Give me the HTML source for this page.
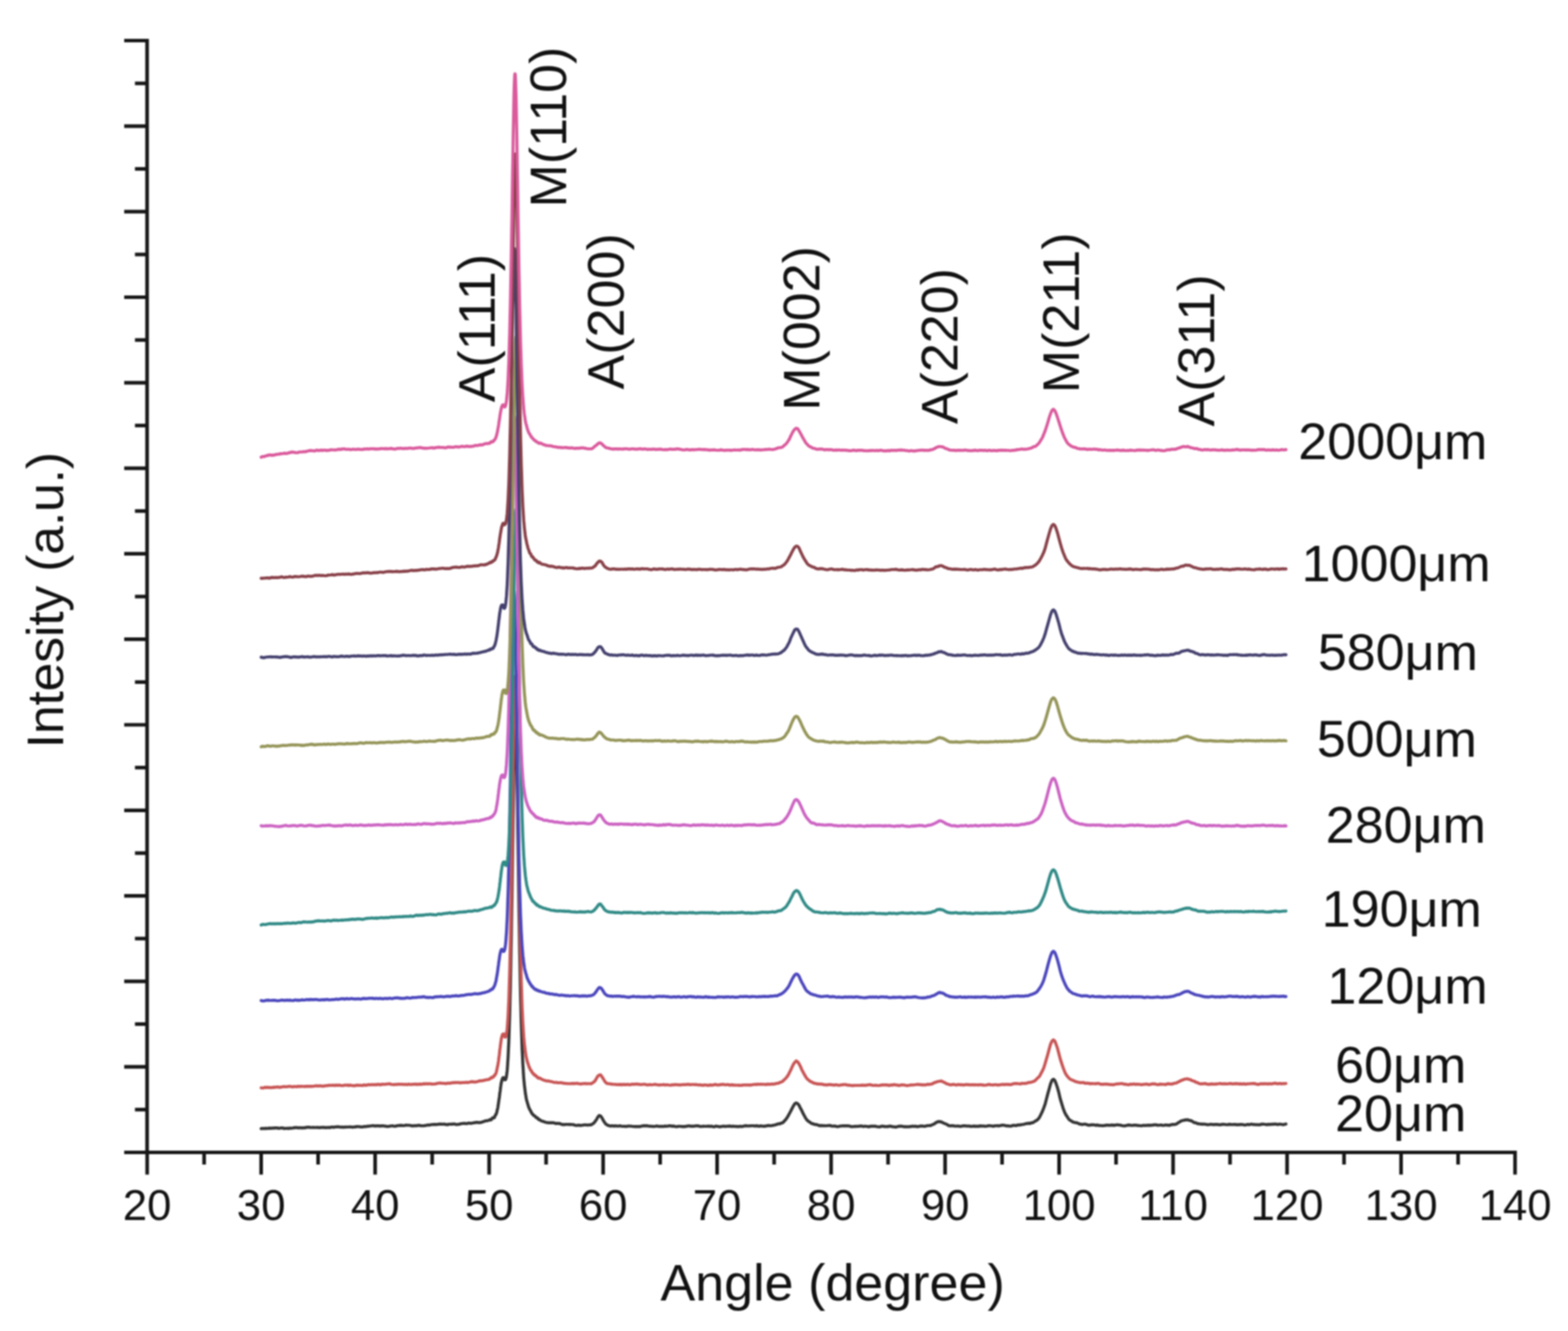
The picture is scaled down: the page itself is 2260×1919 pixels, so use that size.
<!DOCTYPE html>
<html><head><meta charset="utf-8"><style>
html,body{margin:0;padding:0;background:#fff;}
svg{display:block;filter:blur(0.8px);}
text{font-family:"Liberation Sans",Arial,sans-serif;fill:#111;}
</style></head><body>
<svg width="2260" height="1919" viewBox="0 0 2260 1919">
<rect width="2260" height="1919" fill="#fff"/>

<g fill="none" stroke-width="4.4" stroke-linejoin="round" stroke-linecap="round">
<path d="M376.4,1627.2 L378.4,1626.9 L380.3,1627.2 L382.3,1626.8 L384.3,1627.0 L386.3,1626.9 L388.2,1626.5 L390.2,1626.7 L392.2,1626.4 L394.1,1626.5 L396.1,1626.2 L398.1,1626.1 L400.1,1626.3 L402.0,1626.8 L404.0,1626.4 L406.0,1626.2 L407.9,1626.5 L409.9,1627.0 L411.9,1626.9 L413.9,1626.7 L415.8,1627.1 L417.8,1626.4 L419.8,1626.7 L421.7,1626.4 L423.7,1626.0 L425.7,1625.7 L427.7,1625.7 L429.6,1626.2 L431.6,1625.9 L433.6,1626.0 L435.5,1626.2 L437.5,1626.0 L439.5,1626.0 L441.5,1625.5 L443.4,1625.2 L445.4,1625.2 L447.4,1625.6 L449.3,1625.6 L451.3,1625.4 L453.3,1625.6 L455.3,1625.6 L457.2,1625.4 L459.2,1625.7 L461.2,1625.8 L463.2,1625.4 L465.1,1625.5 L467.1,1625.5 L469.1,1625.8 L471.0,1625.8 L473.0,1625.4 L475.0,1625.8 L477.0,1625.1 L478.9,1625.0 L480.9,1625.3 L482.9,1624.8 L484.8,1624.9 L486.8,1624.4 L488.8,1624.8 L490.8,1625.1 L492.7,1625.0 L494.7,1625.3 L496.7,1624.9 L498.6,1625.0 L500.6,1624.9 L502.6,1624.9 L504.6,1624.7 L506.5,1624.9 L508.5,1625.2 L510.5,1624.8 L512.4,1624.8 L514.4,1624.1 L516.4,1624.4 L518.4,1624.5 L520.3,1624.8 L522.3,1624.9 L524.3,1624.3 L526.2,1624.1 L528.2,1624.2 L530.2,1623.6 L532.2,1623.7 L534.1,1623.4 L536.1,1623.1 L538.1,1622.9 L540.0,1623.5 L542.0,1623.2 L544.0,1623.1 L546.0,1623.2 L547.9,1623.7 L549.9,1623.2 L551.9,1623.3 L553.8,1623.4 L555.8,1623.8 L557.8,1624.0 L559.8,1624.1 L561.7,1623.6 L563.7,1623.4 L565.7,1623.2 L567.6,1623.6 L569.6,1623.9 L571.6,1623.2 L573.6,1622.9 L575.5,1622.7 L577.5,1622.5 L579.5,1622.7 L581.4,1622.9 L583.4,1622.7 L585.4,1622.2 L587.4,1622.4 L589.3,1622.4 L591.3,1622.6 L593.3,1623.2 L595.2,1623.2 L597.2,1623.0 L599.2,1623.0 L601.2,1623.0 L603.1,1622.3 L605.1,1622.8 L607.1,1623.0 L609.0,1623.1 L611.0,1623.1 L613.0,1622.7 L615.0,1622.4 L616.9,1621.9 L618.9,1622.2 L620.9,1621.7 L622.8,1621.4 L624.8,1621.3 L626.8,1621.2 L628.8,1621.3 L630.7,1621.1 L632.7,1620.8 L634.7,1620.8 L636.7,1620.7 L638.6,1620.9 L640.6,1620.7 L642.6,1621.4 L644.5,1621.5 L646.5,1621.0 L648.5,1620.9 L650.5,1620.8 L652.4,1620.8 L654.4,1620.4 L656.4,1621.0 L658.3,1621.4 L660.3,1621.1 L662.3,1620.8 L664.3,1620.2 L666.2,1619.9 L668.2,1619.8 L670.2,1619.7 L672.1,1620.1 L674.1,1619.6 L676.1,1619.1 L678.1,1619.6 L680.0,1619.5 L682.0,1618.9 L684.0,1618.8 L685.9,1618.2 L687.9,1618.2 L689.9,1618.5 L691.9,1618.5 L693.8,1618.2 L695.8,1617.4 L697.8,1616.8 L699.7,1616.0 L701.7,1616.0 L703.7,1615.4 L705.7,1614.9 L706.0,1614.5 L706.3,1614.1 L706.6,1614.4 L707.0,1614.7 L707.3,1614.6 L707.6,1614.5 L708.0,1614.4 L708.3,1614.2 L708.6,1613.4 L708.9,1613.2 L709.3,1612.8 L709.6,1612.2 L709.9,1611.7 L710.3,1611.6 L710.6,1611.4 L710.9,1611.7 L711.2,1612.0 L711.6,1611.5 L711.9,1611.6 L712.2,1611.6 L712.6,1611.4 L712.9,1610.5 L713.2,1609.6 L713.5,1608.9 L713.9,1608.1 L714.2,1607.4 L714.5,1607.1 L714.9,1606.9 L715.2,1606.3 L715.5,1605.1 L715.8,1604.1 L716.2,1603.1 L716.5,1601.1 L716.8,1599.9 L717.2,1598.7 L717.5,1597.1 L717.8,1595.2 L718.1,1592.9 L718.5,1590.3 L718.8,1588.4 L719.1,1585.8 L719.5,1583.7 L719.8,1581.6 L720.1,1578.7 L720.4,1575.9 L720.8,1573.8 L721.1,1571.4 L721.4,1568.4 L721.8,1565.8 L722.1,1563.4 L722.4,1562.1 L722.7,1560.4 L723.1,1558.8 L723.4,1557.5 L723.7,1556.5 L724.1,1555.7 L724.4,1555.1 L724.7,1554.7 L725.0,1554.6 L725.4,1554.6 L725.7,1554.8 L726.0,1555.1 L726.4,1555.5 L726.7,1555.9 L727.0,1556.3 L727.3,1556.6 L727.7,1556.8 L728.0,1556.9 L728.3,1556.8 L728.7,1556.4 L729.0,1555.8 L729.3,1554.8 L729.6,1553.5 L730.0,1551.7 L730.3,1549.5 L730.6,1546.9 L731.0,1543.7 L731.3,1539.9 L731.6,1535.6 L731.9,1530.6 L732.3,1524.9 L732.6,1518.5 L732.9,1511.4 L733.3,1503.4 L733.6,1494.6 L733.9,1485.0 L734.2,1474.4 L734.6,1462.8 L734.9,1450.3 L735.2,1436.8 L735.6,1422.3 L735.9,1406.7 L736.2,1390.1 L736.5,1372.5 L736.9,1353.9 L737.2,1334.3 L737.5,1313.9 L737.9,1292.7 L738.2,1270.8 L738.5,1248.4 L738.8,1225.6 L739.2,1202.6 L739.5,1179.7 L739.8,1157.2 L740.2,1135.4 L740.5,1114.7 L740.8,1095.5 L741.1,1078.3 L741.5,1063.4 L741.8,1051.3 L742.1,1042.4 L742.5,1036.9 L742.8,1035.0 L743.1,1036.7 L743.4,1042.1 L743.8,1050.9 L744.1,1062.9 L744.4,1077.6 L744.8,1094.8 L745.1,1113.9 L745.4,1134.5 L745.7,1156.3 L746.1,1178.8 L746.4,1201.7 L746.7,1224.7 L747.1,1247.5 L747.4,1270.0 L747.7,1291.9 L748.0,1313.2 L748.4,1333.7 L748.7,1353.3 L749.0,1372.0 L749.4,1389.7 L749.7,1406.4 L750.0,1422.1 L750.3,1436.8 L750.7,1450.5 L751.0,1463.2 L751.3,1475.0 L751.7,1485.9 L752.0,1495.9 L752.3,1505.0 L752.6,1513.5 L753.0,1521.1 L753.3,1528.1 L753.6,1534.5 L754.0,1540.3 L754.3,1545.6 L754.6,1550.4 L754.9,1554.8 L755.3,1558.7 L755.6,1562.3 L755.9,1565.4 L756.3,1568.4 L756.6,1570.7 L756.9,1573.3 L757.2,1576.0 L757.6,1578.2 L757.9,1579.7 L758.2,1582.2 L758.6,1584.1 L758.9,1586.0 L759.2,1586.7 L759.5,1587.8 L759.9,1588.7 L760.2,1590.5 L760.5,1591.4 L760.9,1592.2 L761.2,1593.3 L761.5,1594.9 L761.8,1596.0 L762.2,1596.5 L762.5,1596.9 L762.8,1598.3 L763.2,1599.0 L763.5,1599.9 L763.8,1600.0 L764.1,1600.3 L764.5,1601.3 L764.8,1601.9 L765.1,1602.1 L765.5,1603.3 L765.8,1604.0 L766.1,1604.7 L766.4,1604.6 L766.8,1605.5 L767.1,1605.4 L767.4,1606.3 L767.8,1606.6 L768.1,1606.8 L768.4,1607.3 L768.7,1608.1 L769.1,1608.1 L769.4,1608.0 L769.7,1608.6 L770.1,1608.7 L770.4,1608.8 L770.7,1609.0 L771.0,1609.1 L771.4,1609.4 L771.7,1609.9 L772.0,1610.2 L772.4,1611.0 L772.7,1611.1 L773.0,1611.4 L773.3,1611.4 L773.7,1611.6 L774.0,1611.5 L774.3,1611.8 L774.7,1611.8 L775.0,1612.6 L775.3,1613.0 L775.6,1612.9 L776.0,1613.2 L776.3,1614.0 L776.6,1613.6 L777.0,1614.2 L777.3,1614.2 L777.6,1614.4 L777.9,1614.9 L778.3,1614.8 L778.6,1614.9 L778.9,1615.2 L780.9,1616.4 L782.9,1616.7 L784.8,1617.6 L786.8,1618.1 L788.8,1618.5 L790.8,1618.7 L792.7,1618.8 L794.7,1618.7 L796.7,1618.8 L798.7,1618.9 L800.6,1619.8 L802.6,1619.8 L804.6,1619.8 L806.5,1619.8 L808.5,1620.7 L810.5,1621.3 L812.5,1621.5 L814.4,1621.2 L816.4,1621.1 L818.4,1621.1 L820.3,1621.3 L822.3,1621.2 L824.3,1621.4 L826.3,1621.4 L828.2,1622.2 L830.2,1622.6 L832.2,1622.5 L834.1,1622.2 L836.1,1622.7 L838.1,1622.4 L840.1,1622.2 L842.0,1621.8 L844.0,1621.9 L846.0,1622.0 L847.9,1622.1 L849.9,1621.8 L851.9,1621.7 L853.9,1620.6 L855.8,1619.3 L857.8,1616.8 L859.8,1614.0 L861.7,1610.5 L863.7,1608.3 L865.7,1609.0 L867.7,1611.8 L869.6,1615.5 L871.6,1618.6 L873.6,1621.0 L875.5,1622.2 L877.5,1622.9 L879.5,1623.5 L881.5,1623.3 L883.4,1623.1 L885.4,1623.7 L887.4,1623.2 L889.3,1623.5 L891.3,1623.6 L893.3,1623.1 L895.3,1623.6 L897.2,1623.9 L899.2,1623.9 L901.2,1624.0 L903.1,1624.1 L905.1,1623.5 L907.1,1623.6 L909.1,1623.6 L911.0,1623.9 L913.0,1624.1 L915.0,1624.3 L916.9,1624.1 L918.9,1624.3 L920.9,1624.3 L922.9,1624.2 L924.8,1623.7 L926.8,1623.2 L928.8,1623.0 L930.7,1623.2 L932.7,1623.0 L934.7,1623.6 L936.7,1623.7 L938.6,1623.9 L940.6,1624.0 L942.6,1624.1 L944.5,1623.9 L946.5,1623.4 L948.5,1623.8 L950.5,1624.1 L952.4,1624.0 L954.4,1623.9 L956.4,1624.1 L958.4,1623.5 L960.3,1623.9 L962.3,1623.6 L964.3,1623.3 L966.2,1623.2 L968.2,1623.7 L970.2,1623.5 L972.2,1623.9 L974.1,1624.4 L976.1,1624.2 L978.1,1623.9 L980.0,1623.9 L982.0,1624.1 L984.0,1624.3 L986.0,1624.2 L987.9,1624.2 L989.9,1623.7 L991.9,1623.4 L993.8,1623.3 L995.8,1623.8 L997.8,1623.6 L999.8,1623.8 L1001.7,1623.4 L1003.7,1623.1 L1005.7,1623.2 L1007.6,1623.7 L1009.6,1624.0 L1011.6,1624.1 L1013.6,1623.8 L1015.5,1623.9 L1017.5,1623.9 L1019.5,1623.9 L1021.4,1623.5 L1023.4,1624.1 L1025.4,1623.7 L1027.4,1624.3 L1029.3,1624.6 L1031.3,1623.8 L1033.3,1623.8 L1035.2,1624.2 L1037.2,1624.6 L1039.2,1624.3 L1041.2,1623.9 L1043.1,1623.6 L1045.1,1624.2 L1047.1,1623.8 L1049.0,1623.9 L1051.0,1623.5 L1053.0,1623.7 L1055.0,1624.2 L1056.9,1623.7 L1058.9,1624.1 L1060.9,1624.0 L1062.8,1624.3 L1064.8,1624.3 L1066.8,1623.8 L1068.8,1624.2 L1070.7,1624.0 L1072.7,1623.4 L1074.7,1623.0 L1076.6,1623.3 L1078.6,1623.4 L1080.6,1623.3 L1082.6,1623.1 L1084.5,1623.1 L1086.5,1623.1 L1088.5,1623.6 L1090.4,1623.0 L1092.4,1623.5 L1094.4,1623.8 L1096.4,1623.2 L1098.3,1623.6 L1100.3,1623.7 L1102.3,1623.8 L1104.2,1623.3 L1106.2,1623.0 L1108.2,1622.7 L1110.2,1623.2 L1112.1,1622.9 L1114.1,1622.5 L1116.1,1622.1 L1118.1,1621.6 L1120.0,1620.9 L1122.0,1620.3 L1124.0,1620.3 L1125.9,1619.3 L1127.9,1618.8 L1129.9,1617.0 L1131.9,1614.8 L1133.8,1612.4 L1135.8,1609.1 L1137.8,1605.5 L1139.7,1602.0 L1141.7,1598.0 L1143.7,1594.2 L1145.7,1591.1 L1147.6,1590.1 L1149.6,1591.1 L1151.6,1593.5 L1153.5,1597.4 L1155.5,1601.0 L1157.5,1605.4 L1159.5,1609.0 L1161.4,1612.5 L1163.4,1615.1 L1165.4,1616.8 L1167.3,1617.9 L1169.3,1619.7 L1171.3,1620.1 L1173.3,1620.9 L1175.2,1621.3 L1177.2,1621.5 L1179.2,1622.2 L1181.1,1623.0 L1183.1,1622.7 L1185.1,1623.0 L1187.1,1622.9 L1189.0,1623.1 L1191.0,1623.1 L1193.0,1622.9 L1194.9,1622.8 L1196.9,1622.8 L1198.9,1623.6 L1200.9,1623.6 L1202.8,1623.4 L1204.8,1623.9 L1206.8,1624.4 L1208.7,1624.1 L1210.7,1623.6 L1212.7,1623.4 L1214.7,1623.2 L1216.6,1623.3 L1218.6,1623.1 L1220.6,1623.2 L1222.5,1623.2 L1224.5,1623.6 L1226.5,1624.2 L1228.5,1624.4 L1230.4,1624.1 L1232.4,1624.0 L1234.4,1624.0 L1236.3,1623.9 L1238.3,1623.8 L1240.3,1623.4 L1242.3,1623.5 L1244.2,1624.2 L1246.2,1623.8 L1248.2,1623.9 L1250.1,1624.1 L1252.1,1624.5 L1254.1,1624.0 L1256.1,1623.8 L1258.0,1623.7 L1260.0,1623.7 L1262.0,1623.8 L1263.9,1624.4 L1265.9,1624.6 L1267.9,1624.8 L1269.9,1624.0 L1271.8,1623.6 L1273.8,1624.0 L1275.8,1624.4 L1277.7,1624.3 L1279.7,1624.3 L1281.7,1623.7 L1283.7,1623.7 L1285.6,1624.3 L1287.6,1624.6 L1289.6,1624.7 L1291.6,1625.0 L1293.5,1624.3 L1295.5,1623.8 L1297.5,1623.6 L1299.4,1623.8 L1301.4,1624.1 L1303.4,1624.5 L1305.4,1624.5 L1307.3,1624.5 L1309.3,1624.6 L1311.3,1624.3 L1313.2,1624.2 L1315.2,1623.6 L1317.2,1624.1 L1319.2,1623.7 L1321.1,1624.3 L1323.1,1624.3 L1325.1,1623.9 L1327.0,1623.5 L1329.0,1623.4 L1331.0,1623.7 L1333.0,1623.9 L1334.9,1623.3 L1336.9,1622.9 L1338.9,1622.9 L1340.8,1622.8 L1342.8,1622.1 L1344.8,1621.1 L1346.8,1620.4 L1348.7,1618.8 L1350.7,1617.7 L1352.7,1617.0 L1354.6,1617.2 L1356.6,1617.5 L1358.6,1618.6 L1360.6,1619.5 L1362.5,1620.2 L1364.5,1621.0 L1366.5,1622.4 L1368.4,1623.1 L1370.4,1623.2 L1372.4,1622.9 L1374.4,1623.2 L1376.3,1623.6 L1378.3,1623.6 L1380.3,1623.4 L1382.2,1623.7 L1384.2,1624.1 L1386.2,1623.7 L1388.2,1623.2 L1390.1,1623.2 L1392.1,1623.3 L1394.1,1623.7 L1396.0,1623.4 L1398.0,1623.8 L1400.0,1624.0 L1402.0,1623.9 L1403.9,1623.5 L1405.9,1624.0 L1407.9,1623.7 L1409.8,1624.0 L1411.8,1623.5 L1413.8,1623.3 L1415.8,1623.6 L1417.7,1623.4 L1419.7,1623.9 L1421.7,1623.7 L1423.6,1623.3 L1425.6,1623.0 L1427.6,1623.1 L1429.6,1623.4 L1431.5,1623.8 L1433.5,1623.2 L1435.5,1623.1 L1437.4,1622.9 L1439.4,1623.5 L1441.4,1622.9 L1443.4,1622.5 L1445.3,1622.2 L1447.3,1622.4 L1449.3,1623.0 L1451.3,1623.3 L1453.2,1623.3 L1455.2,1623.6 L1457.2,1623.6 L1459.1,1622.9 L1461.1,1622.4 L1463.1,1622.7 L1465.1,1622.7 L1467.0,1621.9 L1469.0,1622.0 L1471.0,1621.7 L1472.9,1621.4 L1474.9,1621.1 L1476.9,1620.6 L1478.9,1620.0 L1480.8,1619.8 L1482.8,1619.5 L1484.8,1619.8 L1486.7,1618.8 L1488.7,1618.7 L1490.7,1617.3 L1492.7,1616.1 L1494.6,1615.0 L1496.6,1613.2 L1498.6,1610.3 L1500.5,1606.4 L1502.5,1602.2 L1504.5,1597.0 L1506.5,1591.4 L1508.4,1584.0 L1510.4,1576.4 L1512.4,1569.3 L1514.3,1562.4 L1516.3,1557.7 L1518.3,1556.0 L1520.3,1557.7 L1522.2,1562.4 L1524.2,1568.4 L1526.2,1575.7 L1528.1,1584.0 L1530.1,1590.7 L1532.1,1597.2 L1534.1,1602.8 L1536.0,1606.7 L1538.0,1609.8 L1540.0,1612.9 L1541.9,1614.9 L1543.9,1616.0 L1545.9,1617.4 L1547.9,1618.1 L1549.8,1618.5 L1551.8,1618.7 L1553.8,1619.6 L1555.7,1620.5 L1557.7,1620.8 L1559.7,1621.4 L1561.7,1620.9 L1563.6,1620.8 L1565.6,1621.1 L1567.6,1621.8 L1569.5,1622.3 L1571.5,1622.0 L1573.5,1621.7 L1575.5,1621.8 L1577.4,1621.9 L1579.4,1622.5 L1581.4,1622.0 L1583.3,1622.5 L1585.3,1622.7 L1587.3,1622.9 L1589.3,1623.0 L1591.2,1622.9 L1593.2,1622.5 L1595.2,1622.3 L1597.1,1622.2 L1599.1,1622.6 L1601.1,1622.2 L1603.1,1622.0 L1605.0,1622.5 L1607.0,1622.2 L1609.0,1621.9 L1611.0,1621.7 L1612.9,1622.1 L1614.9,1622.1 L1616.9,1622.8 L1618.8,1623.1 L1620.8,1623.4 L1622.8,1622.8 L1624.8,1622.3 L1626.7,1622.0 L1628.7,1622.2 L1630.7,1622.6 L1632.6,1622.5 L1634.6,1622.2 L1636.6,1622.3 L1638.6,1622.5 L1640.5,1622.7 L1642.5,1622.9 L1644.5,1623.1 L1646.4,1623.0 L1648.4,1622.4 L1650.4,1622.8 L1652.4,1622.4 L1654.3,1622.5 L1656.3,1622.3 L1658.3,1622.6 L1660.2,1622.2 L1662.2,1622.0 L1664.2,1621.8 L1666.2,1621.7 L1668.1,1622.3 L1670.1,1622.4 L1672.1,1622.1 L1674.0,1622.0 L1676.0,1622.6 L1678.0,1622.4 L1680.0,1621.9 L1681.9,1622.2 L1683.9,1622.2 L1685.9,1622.5 L1687.8,1621.6 L1689.8,1621.3 L1691.8,1621.2 L1693.8,1621.0 L1695.7,1620.6 L1697.7,1619.0 L1699.7,1617.9 L1701.6,1616.7 L1703.6,1615.6 L1705.6,1615.4 L1707.6,1614.8 L1709.5,1614.7 L1711.5,1614.4 L1713.5,1615.1 L1715.4,1615.5 L1717.4,1616.0 L1719.4,1617.3 L1721.4,1618.6 L1723.3,1618.8 L1725.3,1619.7 L1727.3,1620.3 L1729.2,1620.4 L1731.2,1620.7 L1733.2,1620.7 L1735.2,1620.8 L1737.1,1620.9 L1739.1,1621.3 L1741.1,1621.6 L1743.0,1621.3 L1745.0,1621.0 L1747.0,1621.1 L1749.0,1621.5 L1750.9,1621.2 L1752.9,1621.2 L1754.9,1621.1 L1756.8,1621.6 L1758.8,1621.7 L1760.8,1621.2 L1762.8,1621.0 L1764.7,1621.1 L1766.7,1621.4 L1768.7,1621.6 L1770.6,1621.2 L1772.6,1621.0 L1774.6,1621.4 L1776.6,1621.4 L1778.5,1621.2 L1780.5,1621.1 L1782.5,1621.7 L1784.5,1621.4 L1786.4,1621.5 L1788.4,1621.3 L1790.4,1621.3 L1792.3,1621.7 L1794.3,1622.1 L1796.3,1621.7 L1798.3,1621.2 L1800.2,1621.5 L1802.2,1621.1 L1804.2,1620.7 L1806.1,1621.4 L1808.1,1621.3 L1810.1,1621.6 L1812.1,1621.4 L1814.0,1621.7 L1816.0,1621.5 L1818.0,1621.0 L1819.9,1620.6 L1821.9,1620.9 L1823.9,1621.1 L1825.9,1621.6 L1827.8,1621.0 L1829.8,1621.2 L1831.8,1621.0 L1833.7,1621.0 L1835.7,1620.7 L1837.7,1620.6 L1839.7,1620.8 L1841.6,1621.3 L1843.6,1620.8 L1845.6,1620.9 L1847.5,1621.2 L1849.5,1621.6 L1851.5,1621.0 L1853.5,1620.6" stroke="#333333" />
<circle cx="725.8" cy="1554.9" r="3.4" fill="#333333"/>
<path d="M376.4,1568.4 L378.4,1568.6 L380.3,1568.3 L382.3,1567.6 L384.3,1568.0 L386.3,1567.7 L388.2,1568.1 L390.2,1568.0 L392.2,1568.1 L394.1,1567.5 L396.1,1567.7 L398.1,1567.3 L400.1,1567.2 L402.0,1567.5 L404.0,1567.7 L406.0,1567.1 L407.9,1566.8 L409.9,1566.8 L411.9,1566.9 L413.9,1566.8 L415.8,1566.4 L417.8,1566.3 L419.8,1566.7 L421.7,1567.1 L423.7,1566.5 L425.7,1566.6 L427.7,1566.8 L429.6,1566.2 L431.6,1566.7 L433.6,1566.2 L435.5,1566.4 L437.5,1566.4 L439.5,1566.5 L441.5,1566.2 L443.4,1566.1 L445.4,1566.2 L447.4,1566.1 L449.3,1566.2 L451.3,1566.1 L453.3,1565.9 L455.3,1565.4 L457.2,1565.7 L459.2,1565.7 L461.2,1565.4 L463.2,1565.8 L465.1,1566.0 L467.1,1565.8 L469.1,1565.3 L471.0,1565.4 L473.0,1565.0 L475.0,1564.7 L477.0,1564.9 L478.9,1564.6 L480.9,1564.8 L482.9,1565.0 L484.8,1564.5 L486.8,1564.9 L488.8,1564.5 L490.8,1564.9 L492.7,1565.2 L494.7,1565.1 L496.7,1564.5 L498.6,1564.6 L500.6,1564.5 L502.6,1565.0 L504.6,1564.5 L506.5,1564.9 L508.5,1565.2 L510.5,1565.2 L512.4,1565.2 L514.4,1564.5 L516.4,1564.9 L518.4,1564.7 L520.3,1564.9 L522.3,1565.1 L524.3,1564.3 L526.2,1564.5 L528.2,1564.7 L530.2,1564.0 L532.2,1563.8 L534.1,1564.1 L536.1,1563.6 L538.1,1564.1 L540.0,1563.7 L542.0,1564.0 L544.0,1563.5 L546.0,1563.5 L547.9,1564.0 L549.9,1563.5 L551.9,1563.3 L553.8,1563.4 L555.8,1563.3 L557.8,1562.9 L559.8,1562.8 L561.7,1562.7 L563.7,1563.4 L565.7,1563.6 L567.6,1563.9 L569.6,1563.4 L571.6,1563.6 L573.6,1563.1 L575.5,1563.2 L577.5,1563.4 L579.5,1563.2 L581.4,1563.6 L583.4,1563.5 L585.4,1563.4 L587.4,1563.7 L589.3,1563.0 L591.3,1563.6 L593.3,1563.5 L595.2,1563.2 L597.2,1563.4 L599.2,1563.0 L601.2,1563.5 L603.1,1563.3 L605.1,1563.0 L607.1,1563.2 L609.0,1563.0 L611.0,1562.5 L613.0,1562.9 L615.0,1562.3 L616.9,1562.8 L618.9,1562.4 L620.9,1562.6 L622.8,1563.1 L624.8,1562.9 L626.8,1562.9 L628.8,1562.5 L630.7,1561.9 L632.7,1561.6 L634.7,1561.5 L636.7,1561.9 L638.6,1561.9 L640.6,1562.0 L642.6,1562.4 L644.5,1561.8 L646.5,1561.6 L648.5,1561.8 L650.5,1561.3 L652.4,1560.9 L654.4,1561.0 L656.4,1560.8 L658.3,1560.9 L660.3,1560.8 L662.3,1561.0 L664.3,1561.2 L666.2,1560.8 L668.2,1560.9 L670.2,1560.8 L672.1,1560.4 L674.1,1560.8 L676.1,1560.3 L678.1,1559.9 L680.0,1559.5 L682.0,1559.7 L684.0,1560.0 L685.9,1560.0 L687.9,1559.4 L689.9,1558.9 L691.9,1558.1 L693.8,1558.2 L695.8,1558.0 L697.8,1557.5 L699.7,1557.2 L701.7,1556.6 L703.7,1556.5 L705.7,1555.8 L706.0,1555.2 L706.3,1555.5 L706.6,1554.7 L707.0,1554.7 L707.3,1554.5 L707.6,1554.1 L708.0,1553.6 L708.3,1554.0 L708.6,1553.4 L708.9,1553.5 L709.3,1553.9 L709.6,1553.2 L709.9,1552.8 L710.3,1552.9 L710.6,1552.7 L710.9,1552.7 L711.2,1552.7 L711.6,1551.9 L711.9,1551.5 L712.2,1551.1 L712.6,1550.4 L712.9,1550.7 L713.2,1550.5 L713.5,1550.1 L713.9,1548.9 L714.2,1548.7 L714.5,1548.2 L714.9,1547.2 L715.2,1546.5 L715.5,1545.3 L715.8,1543.8 L716.2,1542.1 L716.5,1540.7 L716.8,1538.9 L717.2,1537.3 L717.5,1536.0 L717.8,1534.2 L718.1,1532.4 L718.5,1530.1 L718.8,1527.2 L719.1,1524.7 L719.5,1522.0 L719.8,1519.6 L720.1,1516.7 L720.4,1513.6 L720.8,1511.1 L721.1,1508.9 L721.4,1505.8 L721.8,1503.8 L722.1,1501.1 L722.4,1499.0 L722.7,1497.2 L723.1,1495.6 L723.4,1494.2 L723.7,1493.1 L724.1,1492.3 L724.4,1491.8 L724.7,1491.5 L725.0,1491.4 L725.4,1491.6 L725.7,1491.9 L726.0,1492.4 L726.4,1492.9 L726.7,1493.5 L727.0,1494.1 L727.3,1494.6 L727.7,1495.0 L728.0,1495.3 L728.3,1495.4 L728.7,1495.2 L729.0,1494.8 L729.3,1494.0 L729.6,1492.8 L730.0,1491.2 L730.3,1489.2 L730.6,1486.6 L731.0,1483.5 L731.3,1479.9 L731.6,1475.6 L731.9,1470.7 L732.3,1465.1 L732.6,1458.7 L732.9,1451.6 L733.3,1443.7 L733.6,1435.0 L733.9,1425.3 L734.2,1414.7 L734.6,1403.2 L734.9,1390.7 L735.2,1377.2 L735.6,1362.6 L735.9,1347.0 L736.2,1330.4 L736.5,1312.8 L736.9,1294.2 L737.2,1274.6 L737.5,1254.2 L737.9,1233.0 L738.2,1211.1 L738.5,1188.6 L738.8,1165.7 L739.2,1142.7 L739.5,1119.8 L739.8,1097.3 L740.2,1075.5 L740.5,1054.8 L740.8,1035.6 L741.1,1018.3 L741.5,1003.5 L741.8,991.4 L742.1,982.4 L742.5,976.9 L742.8,975.0 L743.1,976.7 L743.4,982.1 L743.8,990.9 L744.1,1002.9 L744.4,1017.7 L744.8,1034.8 L745.1,1054.0 L745.4,1074.6 L745.7,1096.4 L746.1,1118.9 L746.4,1141.8 L746.7,1164.8 L747.1,1187.7 L747.4,1210.2 L747.7,1232.2 L748.0,1253.4 L748.4,1273.9 L748.7,1293.6 L749.0,1312.3 L749.4,1330.0 L749.7,1346.7 L750.0,1362.4 L750.3,1377.1 L750.7,1390.8 L751.0,1403.6 L751.3,1415.4 L751.7,1426.2 L752.0,1436.3 L752.3,1445.5 L752.6,1453.9 L753.0,1461.6 L753.3,1468.6 L753.6,1475.0 L754.0,1480.8 L754.3,1486.1 L754.6,1490.9 L754.9,1495.2 L755.3,1499.2 L755.6,1502.8 L755.9,1506.1 L756.3,1509.1 L756.6,1511.4 L756.9,1514.2 L757.2,1516.1 L757.6,1518.7 L757.9,1520.9 L758.2,1522.9 L758.6,1524.5 L758.9,1525.8 L759.2,1527.1 L759.5,1528.4 L759.9,1530.1 L760.2,1530.7 L760.5,1532.4 L760.9,1532.8 L761.2,1533.7 L761.5,1534.6 L761.8,1536.1 L762.2,1537.0 L762.5,1537.6 L762.8,1538.9 L763.2,1539.2 L763.5,1539.9 L763.8,1540.6 L764.1,1541.6 L764.5,1542.3 L764.8,1542.9 L765.1,1543.2 L765.5,1543.5 L765.8,1543.7 L766.1,1544.8 L766.4,1545.4 L766.8,1546.0 L767.1,1546.0 L767.4,1546.4 L767.8,1547.2 L768.1,1547.6 L768.4,1547.5 L768.7,1547.9 L769.1,1548.8 L769.4,1548.7 L769.7,1548.8 L770.1,1549.1 L770.4,1549.8 L770.7,1550.5 L771.0,1550.3 L771.4,1550.3 L771.7,1550.4 L772.0,1550.8 L772.4,1551.2 L772.7,1551.2 L773.0,1551.5 L773.3,1551.6 L773.7,1552.6 L774.0,1553.0 L774.3,1552.7 L774.7,1553.5 L775.0,1553.1 L775.3,1553.3 L775.6,1554.1 L776.0,1554.4 L776.3,1554.6 L776.6,1554.5 L777.0,1554.3 L777.3,1554.6 L777.6,1554.4 L777.9,1554.4 L778.3,1554.6 L778.6,1554.5 L778.9,1554.8 L780.9,1556.1 L782.9,1557.0 L784.8,1557.6 L786.8,1558.2 L788.8,1558.5 L790.8,1558.5 L792.7,1559.1 L794.7,1559.4 L796.7,1560.0 L798.7,1560.6 L800.6,1560.6 L802.6,1560.8 L804.6,1561.1 L806.5,1561.1 L808.5,1560.9 L810.5,1561.3 L812.5,1561.8 L814.4,1562.0 L816.4,1562.1 L818.4,1562.4 L820.3,1562.4 L822.3,1562.4 L824.3,1562.2 L826.3,1562.0 L828.2,1562.3 L830.2,1561.9 L832.2,1562.0 L834.1,1562.4 L836.1,1562.7 L838.1,1562.7 L840.1,1562.4 L842.0,1562.3 L844.0,1562.3 L846.0,1562.5 L847.9,1562.4 L849.9,1562.4 L851.9,1562.5 L853.9,1561.3 L855.8,1560.1 L857.8,1558.1 L859.8,1554.7 L861.7,1551.4 L863.7,1549.9 L865.7,1549.7 L867.7,1552.5 L869.6,1555.5 L871.6,1558.9 L873.6,1561.3 L875.5,1562.3 L877.5,1562.4 L879.5,1562.8 L881.5,1563.0 L883.4,1563.4 L885.4,1563.4 L887.4,1563.5 L889.3,1563.8 L891.3,1563.7 L893.3,1563.5 L895.3,1564.0 L897.2,1563.5 L899.2,1563.7 L901.2,1563.5 L903.1,1563.8 L905.1,1563.3 L907.1,1564.0 L909.1,1563.7 L911.0,1563.2 L913.0,1563.2 L915.0,1563.3 L916.9,1562.9 L918.9,1563.2 L920.9,1563.3 L922.9,1563.7 L924.8,1563.6 L926.8,1563.4 L928.8,1563.3 L930.7,1563.7 L932.7,1564.2 L934.7,1564.1 L936.7,1563.7 L938.6,1564.1 L940.6,1563.9 L942.6,1563.6 L944.5,1563.3 L946.5,1563.8 L948.5,1564.2 L950.5,1564.2 L952.4,1564.1 L954.4,1564.1 L956.4,1563.7 L958.4,1564.3 L960.3,1564.0 L962.3,1564.1 L964.3,1564.4 L966.2,1564.6 L968.2,1564.3 L970.2,1564.0 L972.2,1564.0 L974.1,1563.6 L976.1,1564.1 L978.1,1564.0 L980.0,1564.4 L982.0,1564.0 L984.0,1563.9 L986.0,1563.7 L987.9,1563.8 L989.9,1563.6 L991.9,1563.3 L993.8,1563.8 L995.8,1563.7 L997.8,1563.6 L999.8,1563.6 L1001.7,1563.8 L1003.7,1563.8 L1005.7,1564.1 L1007.6,1564.3 L1009.6,1564.1 L1011.6,1564.5 L1013.6,1564.8 L1015.5,1564.1 L1017.5,1564.4 L1019.5,1564.7 L1021.4,1564.8 L1023.4,1564.2 L1025.4,1564.5 L1027.4,1564.5 L1029.3,1563.9 L1031.3,1563.5 L1033.3,1564.2 L1035.2,1564.4 L1037.2,1564.0 L1039.2,1563.7 L1041.2,1563.5 L1043.1,1563.5 L1045.1,1564.1 L1047.1,1563.9 L1049.0,1563.7 L1051.0,1564.3 L1053.0,1564.5 L1055.0,1564.0 L1056.9,1564.5 L1058.9,1564.5 L1060.9,1564.6 L1062.8,1564.6 L1064.8,1564.8 L1066.8,1564.8 L1068.8,1564.9 L1070.7,1564.3 L1072.7,1564.4 L1074.7,1564.3 L1076.6,1564.4 L1078.6,1564.2 L1080.6,1564.5 L1082.6,1564.3 L1084.5,1563.9 L1086.5,1563.6 L1088.5,1563.4 L1090.4,1563.5 L1092.4,1563.2 L1094.4,1563.4 L1096.4,1563.1 L1098.3,1563.3 L1100.3,1563.4 L1102.3,1563.4 L1104.2,1563.8 L1106.2,1563.0 L1108.2,1563.4 L1110.2,1563.2 L1112.1,1563.0 L1114.1,1563.0 L1116.1,1563.0 L1118.1,1562.4 L1120.0,1561.9 L1122.0,1561.9 L1124.0,1560.7 L1125.9,1560.1 L1127.9,1559.1 L1129.9,1557.1 L1131.9,1555.4 L1133.8,1553.1 L1135.8,1550.4 L1137.8,1546.4 L1139.7,1542.8 L1141.7,1538.3 L1143.7,1534.1 L1145.7,1531.5 L1147.6,1529.6 L1149.6,1530.8 L1151.6,1533.6 L1153.5,1537.2 L1155.5,1541.9 L1157.5,1545.7 L1159.5,1549.4 L1161.4,1552.7 L1163.4,1555.5 L1165.4,1557.1 L1167.3,1558.7 L1169.3,1559.8 L1171.3,1560.8 L1173.3,1561.8 L1175.2,1562.0 L1177.2,1562.7 L1179.2,1562.8 L1181.1,1563.0 L1183.1,1562.9 L1185.1,1563.2 L1187.1,1563.9 L1189.0,1564.0 L1191.0,1564.3 L1193.0,1564.0 L1194.9,1563.8 L1196.9,1563.7 L1198.9,1564.0 L1200.9,1564.2 L1202.8,1564.5 L1204.8,1563.9 L1206.8,1564.3 L1208.7,1564.7 L1210.7,1564.6 L1212.7,1564.0 L1214.7,1564.0 L1216.6,1563.6 L1218.6,1563.6 L1220.6,1564.4 L1222.5,1564.5 L1224.5,1564.7 L1226.5,1564.9 L1228.5,1565.2 L1230.4,1565.0 L1232.4,1564.9 L1234.4,1564.9 L1236.3,1564.9 L1238.3,1564.9 L1240.3,1564.9 L1242.3,1564.5 L1244.2,1564.7 L1246.2,1564.6 L1248.2,1564.8 L1250.1,1564.3 L1252.1,1564.1 L1254.1,1563.8 L1256.1,1564.4 L1258.0,1564.9 L1260.0,1564.9 L1262.0,1564.6 L1263.9,1564.9 L1265.9,1565.1 L1267.9,1564.9 L1269.9,1564.5 L1271.8,1564.3 L1273.8,1564.3 L1275.8,1564.2 L1277.7,1564.3 L1279.7,1564.5 L1281.7,1565.0 L1283.7,1564.3 L1285.6,1564.5 L1287.6,1564.0 L1289.6,1563.8 L1291.6,1564.4 L1293.5,1564.5 L1295.5,1565.0 L1297.5,1564.7 L1299.4,1564.1 L1301.4,1564.2 L1303.4,1564.4 L1305.4,1564.9 L1307.3,1565.2 L1309.3,1564.9 L1311.3,1564.6 L1313.2,1564.1 L1315.2,1564.4 L1317.2,1564.1 L1319.2,1563.9 L1321.1,1563.6 L1323.1,1563.4 L1325.1,1563.9 L1327.0,1563.7 L1329.0,1564.4 L1331.0,1563.9 L1333.0,1564.4 L1334.9,1563.9 L1336.9,1563.3 L1338.9,1563.6 L1340.8,1563.1 L1342.8,1563.0 L1344.8,1562.0 L1346.8,1560.8 L1348.7,1560.3 L1350.7,1559.6 L1352.7,1559.2 L1354.6,1558.9 L1356.6,1558.5 L1358.6,1559.4 L1360.6,1560.5 L1362.5,1561.3 L1364.5,1562.6 L1366.5,1562.9 L1368.4,1563.8 L1370.4,1564.2 L1372.4,1563.7 L1374.4,1563.4 L1376.3,1563.8 L1378.3,1564.3 L1380.3,1563.8 L1382.2,1563.7 L1384.2,1564.1 L1386.2,1563.8 L1388.2,1564.3 L1390.1,1564.2 L1392.1,1563.7 L1394.1,1563.7 L1396.0,1564.0 L1398.0,1563.9 L1400.0,1564.2 L1402.0,1563.8 L1403.9,1564.2 L1405.9,1564.0 L1407.9,1564.1 L1409.8,1564.2 L1411.8,1564.0 L1413.8,1563.9 L1415.8,1564.2 L1417.7,1564.5 L1419.7,1564.6 L1421.7,1564.4 L1423.6,1563.9 L1425.6,1563.4 L1427.6,1564.1 L1429.6,1564.1 L1431.5,1564.3 L1433.5,1563.9 L1435.5,1563.9 L1437.4,1564.3 L1439.4,1564.3 L1441.4,1564.1 L1443.4,1563.6 L1445.3,1563.5 L1447.3,1563.8 L1449.3,1563.5 L1451.3,1563.5 L1453.2,1563.5 L1455.2,1563.7 L1457.2,1563.7 L1459.1,1563.1 L1461.1,1562.4 L1463.1,1562.3 L1465.1,1562.3 L1467.0,1562.4 L1469.0,1562.6 L1471.0,1562.7 L1472.9,1561.9 L1474.9,1562.1 L1476.9,1562.0 L1478.9,1562.0 L1480.8,1561.4 L1482.8,1560.7 L1484.8,1560.6 L1486.7,1560.2 L1488.7,1559.5 L1490.7,1558.8 L1492.7,1557.2 L1494.6,1555.2 L1496.6,1553.4 L1498.6,1551.3 L1500.5,1547.6 L1502.5,1543.9 L1504.5,1539.3 L1506.5,1532.9 L1508.4,1526.3 L1510.4,1519.3 L1512.4,1511.9 L1514.3,1505.2 L1516.3,1500.9 L1518.3,1499.3 L1520.3,1500.9 L1522.2,1505.6 L1524.2,1511.4 L1526.2,1519.1 L1528.1,1526.5 L1530.1,1532.7 L1532.1,1538.7 L1534.1,1544.1 L1536.0,1548.3 L1538.0,1551.3 L1540.0,1553.6 L1541.9,1555.6 L1543.9,1556.6 L1545.9,1557.5 L1547.9,1558.2 L1549.8,1559.3 L1551.8,1559.7 L1553.8,1560.3 L1555.7,1560.6 L1557.7,1561.0 L1559.7,1560.9 L1561.7,1560.8 L1563.6,1561.8 L1565.6,1561.8 L1567.6,1561.6 L1569.5,1562.0 L1571.5,1562.5 L1573.5,1562.1 L1575.5,1562.4 L1577.4,1562.4 L1579.4,1562.5 L1581.4,1562.1 L1583.3,1561.9 L1585.3,1562.8 L1587.3,1563.3 L1589.3,1563.1 L1591.2,1563.2 L1593.2,1562.9 L1595.2,1563.2 L1597.1,1563.1 L1599.1,1563.6 L1601.1,1563.7 L1603.1,1563.8 L1605.0,1564.0 L1607.0,1563.4 L1609.0,1562.9 L1611.0,1562.7 L1612.9,1562.6 L1614.9,1562.4 L1616.9,1562.3 L1618.8,1562.7 L1620.8,1563.3 L1622.8,1563.3 L1624.8,1563.7 L1626.7,1564.0 L1628.7,1563.2 L1630.7,1563.3 L1632.6,1563.2 L1634.6,1562.8 L1636.6,1563.5 L1638.6,1563.1 L1640.5,1563.3 L1642.5,1563.4 L1644.5,1563.8 L1646.4,1563.8 L1648.4,1563.4 L1650.4,1563.3 L1652.4,1562.9 L1654.3,1563.5 L1656.3,1563.9 L1658.3,1563.3 L1660.2,1562.8 L1662.2,1562.7 L1664.2,1562.7 L1666.2,1563.3 L1668.1,1563.7 L1670.1,1563.8 L1672.1,1563.0 L1674.0,1563.3 L1676.0,1563.4 L1678.0,1563.4 L1680.0,1563.7 L1681.9,1562.9 L1683.9,1562.5 L1685.9,1562.8 L1687.8,1563.0 L1689.8,1562.8 L1691.8,1562.1 L1693.8,1561.7 L1695.7,1561.4 L1697.7,1560.2 L1699.7,1559.3 L1701.6,1558.3 L1703.6,1557.3 L1705.6,1556.7 L1707.6,1555.9 L1709.5,1555.6 L1711.5,1555.4 L1713.5,1556.2 L1715.4,1556.4 L1717.4,1557.7 L1719.4,1558.3 L1721.4,1558.8 L1723.3,1560.3 L1725.3,1560.6 L1727.3,1561.7 L1729.2,1562.4 L1731.2,1562.9 L1733.2,1562.4 L1735.2,1562.5 L1737.1,1562.2 L1739.1,1562.9 L1741.1,1563.2 L1743.0,1563.2 L1745.0,1563.0 L1747.0,1562.8 L1749.0,1563.1 L1750.9,1563.0 L1752.9,1563.0 L1754.9,1562.6 L1756.8,1562.4 L1758.8,1562.1 L1760.8,1562.6 L1762.8,1562.7 L1764.7,1562.4 L1766.7,1562.9 L1768.7,1562.6 L1770.6,1562.6 L1772.6,1562.3 L1774.6,1562.3 L1776.6,1562.8 L1778.5,1562.6 L1780.5,1562.3 L1782.5,1562.5 L1784.5,1562.4 L1786.4,1563.0 L1788.4,1562.5 L1790.4,1563.1 L1792.3,1562.5 L1794.3,1563.0 L1796.3,1563.0 L1798.3,1562.6 L1800.2,1562.6 L1802.2,1562.4 L1804.2,1562.3 L1806.1,1562.1 L1808.1,1562.2 L1810.1,1562.9 L1812.1,1563.3 L1814.0,1563.5 L1816.0,1562.7 L1818.0,1562.4 L1819.9,1562.9 L1821.9,1562.3 L1823.9,1562.7 L1825.9,1562.4 L1827.8,1563.0 L1829.8,1562.3 L1831.8,1562.7 L1833.7,1562.5 L1835.7,1562.1 L1837.7,1561.7 L1839.7,1562.4 L1841.6,1562.5 L1843.6,1562.1 L1845.6,1562.2 L1847.5,1562.7 L1849.5,1562.3 L1851.5,1562.4 L1853.5,1562.1" stroke="#c85454" />
<circle cx="725.8" cy="1492.0" r="3.4" fill="#c85454"/>
<path d="M376.4,1442.6 L378.4,1443.0 L380.3,1443.1 L382.3,1442.6 L384.3,1442.2 L386.3,1442.0 L388.2,1442.4 L390.2,1442.4 L392.2,1442.3 L394.1,1442.1 L396.1,1442.3 L398.1,1442.6 L400.1,1442.9 L402.0,1442.7 L404.0,1442.3 L406.0,1441.8 L407.9,1442.2 L409.9,1442.1 L411.9,1442.4 L413.9,1441.8 L415.8,1442.3 L417.8,1442.0 L419.8,1442.4 L421.7,1442.6 L423.7,1442.3 L425.7,1441.7 L427.7,1442.2 L429.6,1442.0 L431.6,1442.3 L433.6,1441.9 L435.5,1441.5 L437.5,1441.9 L439.5,1441.7 L441.5,1441.3 L443.4,1441.3 L445.4,1441.5 L447.4,1441.0 L449.3,1441.2 L451.3,1441.2 L453.3,1441.3 L455.3,1440.9 L457.2,1441.3 L459.2,1441.6 L461.2,1441.9 L463.2,1441.4 L465.1,1441.5 L467.1,1441.3 L469.1,1441.5 L471.0,1440.8 L473.0,1441.3 L475.0,1441.6 L477.0,1441.4 L478.9,1441.2 L480.9,1441.1 L482.9,1441.0 L484.8,1440.4 L486.8,1441.0 L488.8,1440.6 L490.8,1440.3 L492.7,1440.0 L494.7,1440.0 L496.7,1440.5 L498.6,1440.0 L500.6,1439.8 L502.6,1440.3 L504.6,1440.0 L506.5,1439.6 L508.5,1440.0 L510.5,1440.2 L512.4,1440.2 L514.4,1440.4 L516.4,1439.9 L518.4,1440.4 L520.3,1440.5 L522.3,1439.8 L524.3,1439.5 L526.2,1439.7 L528.2,1439.8 L530.2,1439.6 L532.2,1439.3 L534.1,1439.4 L536.1,1439.2 L538.1,1439.5 L540.0,1439.9 L542.0,1439.4 L544.0,1439.6 L546.0,1439.8 L547.9,1439.3 L549.9,1439.7 L551.9,1440.0 L553.8,1439.6 L555.8,1439.4 L557.8,1439.7 L559.8,1439.5 L561.7,1439.2 L563.7,1439.6 L565.7,1439.7 L567.6,1439.2 L569.6,1438.8 L571.6,1438.7 L573.6,1438.6 L575.5,1439.2 L577.5,1439.3 L579.5,1439.5 L581.4,1439.4 L583.4,1439.4 L585.4,1438.6 L587.4,1438.5 L589.3,1438.9 L591.3,1439.1 L593.3,1438.5 L595.2,1438.3 L597.2,1438.4 L599.2,1438.1 L601.2,1438.1 L603.1,1437.6 L605.1,1437.6 L607.1,1437.7 L609.0,1437.2 L611.0,1437.0 L613.0,1437.8 L615.0,1438.0 L616.9,1438.2 L618.9,1438.0 L620.9,1438.1 L622.8,1438.2 L624.8,1438.2 L626.8,1437.3 L628.8,1437.3 L630.7,1437.0 L632.7,1437.1 L634.7,1436.8 L636.7,1436.8 L638.6,1437.2 L640.6,1437.1 L642.6,1436.6 L644.5,1436.5 L646.5,1436.4 L648.5,1436.8 L650.5,1436.3 L652.4,1435.9 L654.4,1436.1 L656.4,1435.5 L658.3,1435.7 L660.3,1436.1 L662.3,1435.8 L664.3,1435.3 L666.2,1435.2 L668.2,1435.1 L670.2,1434.6 L672.1,1434.2 L674.1,1433.9 L676.1,1433.8 L678.1,1433.7 L680.0,1433.5 L682.0,1433.2 L684.0,1432.7 L685.9,1432.8 L687.9,1433.0 L689.9,1432.8 L691.9,1432.5 L693.8,1432.2 L695.8,1431.4 L697.8,1431.2 L699.7,1430.6 L701.7,1430.0 L703.7,1429.3 L705.7,1428.4 L706.0,1428.0 L706.3,1427.7 L706.6,1427.3 L707.0,1427.4 L707.3,1427.2 L707.6,1427.2 L708.0,1426.6 L708.3,1426.4 L708.6,1426.8 L708.9,1426.2 L709.3,1426.1 L709.6,1425.9 L709.9,1425.4 L710.3,1425.7 L710.6,1425.0 L710.9,1424.9 L711.2,1424.0 L711.6,1423.1 L711.9,1423.2 L712.2,1422.5 L712.6,1421.4 L712.9,1420.7 L713.2,1420.0 L713.5,1419.4 L713.9,1417.9 L714.2,1416.5 L714.5,1415.9 L714.9,1414.6 L715.2,1412.6 L715.5,1410.7 L715.8,1408.8 L716.2,1407.1 L716.5,1405.1 L716.8,1403.2 L717.2,1401.0 L717.5,1398.4 L717.8,1396.0 L718.1,1393.5 L718.5,1391.1 L718.8,1388.3 L719.1,1386.0 L719.5,1383.7 L719.8,1381.7 L720.1,1378.9 L720.4,1377.3 L720.8,1375.2 L721.1,1373.7 L721.4,1372.4 L721.8,1371.4 L722.1,1370.6 L722.4,1370.1 L722.7,1369.7 L723.1,1369.6 L723.4,1369.6 L723.7,1369.8 L724.1,1370.1 L724.4,1370.4 L724.7,1370.8 L725.0,1371.2 L725.4,1371.5 L725.7,1371.7 L726.0,1371.7 L726.4,1371.5 L726.7,1371.1 L727.0,1370.5 L727.3,1369.4 L727.7,1368.1 L728.0,1366.3 L728.3,1364.0 L728.7,1361.3 L729.0,1358.1 L729.3,1354.3 L729.6,1349.9 L730.0,1344.8 L730.3,1339.1 L730.6,1332.6 L731.0,1325.4 L731.3,1317.4 L731.6,1308.6 L731.9,1298.9 L732.3,1288.2 L732.6,1276.6 L732.9,1264.1 L733.3,1250.5 L733.6,1235.9 L733.9,1220.3 L734.2,1203.6 L734.6,1186.0 L734.9,1167.4 L735.2,1147.8 L735.6,1127.4 L735.9,1106.1 L736.2,1084.3 L736.5,1061.8 L736.9,1039.1 L737.2,1016.1 L737.5,993.3 L737.9,970.9 L738.2,949.3 L738.5,928.8 L738.8,909.8 L739.2,892.8 L739.5,878.2 L739.8,866.4 L740.2,857.8 L740.5,852.6 L740.8,851.0 L741.1,853.0 L741.5,858.7 L741.8,867.8 L742.1,879.9 L742.5,894.9 L742.8,912.2 L743.1,931.4 L743.4,952.1 L743.8,973.8 L744.1,996.3 L744.4,1019.1 L744.8,1042.1 L745.1,1064.8 L745.4,1087.2 L745.7,1109.0 L746.1,1130.2 L746.4,1150.5 L746.7,1170.0 L747.1,1188.5 L747.4,1206.1 L747.7,1222.7 L748.0,1238.3 L748.4,1252.8 L748.7,1266.4 L749.0,1279.0 L749.4,1290.7 L749.7,1301.4 L750.0,1311.3 L750.3,1320.4 L750.7,1328.7 L751.0,1336.3 L751.3,1343.3 L751.7,1349.6 L752.0,1355.3 L752.3,1360.5 L752.6,1365.3 L753.0,1369.6 L753.3,1373.5 L753.6,1377.2 L754.0,1380.6 L754.3,1383.1 L754.6,1385.9 L754.9,1388.4 L755.3,1390.5 L755.6,1392.8 L755.9,1394.8 L756.3,1397.1 L756.6,1398.6 L756.9,1399.9 L757.2,1400.8 L757.6,1402.0 L757.9,1403.7 L758.2,1404.5 L758.6,1405.4 L758.9,1406.4 L759.2,1407.7 L759.5,1409.1 L759.9,1410.1 L760.2,1411.2 L760.5,1411.4 L760.9,1411.8 L761.2,1413.0 L761.5,1413.6 L761.8,1414.6 L762.2,1415.1 L762.5,1415.4 L762.8,1415.9 L763.2,1416.2 L763.5,1417.5 L763.8,1418.1 L764.1,1418.4 L764.5,1418.9 L764.8,1419.3 L765.1,1419.3 L765.5,1420.4 L765.8,1420.9 L766.1,1421.7 L766.4,1421.8 L766.8,1422.2 L767.1,1422.2 L767.4,1422.1 L767.8,1423.1 L768.1,1423.7 L768.4,1423.7 L768.7,1424.4 L769.1,1424.8 L769.4,1424.6 L769.7,1425.0 L770.1,1425.6 L770.4,1425.6 L770.7,1426.2 L771.0,1425.9 L771.4,1426.0 L771.7,1426.4 L772.0,1426.3 L772.4,1426.4 L772.7,1427.1 L773.0,1427.2 L773.3,1427.6 L773.7,1427.4 L774.0,1427.3 L774.3,1427.5 L774.7,1427.5 L775.0,1428.3 L775.3,1428.2 L775.6,1428.5 L776.0,1428.3 L776.3,1428.6 L776.6,1428.7 L777.0,1428.9 L777.3,1428.6 L777.6,1428.6 L777.9,1429.4 L778.3,1429.4 L778.6,1429.4 L778.9,1429.3 L780.9,1430.0 L782.9,1430.6 L784.8,1430.8 L786.8,1431.8 L788.8,1432.2 L790.8,1432.3 L792.7,1433.1 L794.7,1433.0 L796.7,1433.2 L798.7,1434.0 L800.6,1433.8 L802.6,1434.1 L804.6,1434.7 L806.5,1435.1 L808.5,1434.8 L810.5,1434.8 L812.5,1435.2 L814.4,1435.2 L816.4,1435.8 L818.4,1435.4 L820.3,1436.0 L822.3,1435.9 L824.3,1435.6 L826.3,1435.6 L828.2,1435.4 L830.2,1435.8 L832.2,1435.6 L834.1,1436.2 L836.1,1436.2 L838.1,1436.0 L840.1,1435.8 L842.0,1436.0 L844.0,1435.8 L846.0,1436.3 L847.9,1435.8 L849.9,1435.8 L851.9,1435.6 L853.9,1434.7 L855.8,1433.9 L857.8,1431.6 L859.8,1428.9 L861.7,1425.9 L863.7,1423.8 L865.7,1424.1 L867.7,1426.3 L869.6,1429.3 L871.6,1432.6 L873.6,1434.3 L875.5,1435.6 L877.5,1435.8 L879.5,1436.3 L881.5,1436.3 L883.4,1436.5 L885.4,1436.4 L887.4,1436.1 L889.3,1436.2 L891.3,1436.2 L893.3,1436.1 L895.3,1436.7 L897.2,1436.6 L899.2,1436.7 L901.2,1437.2 L903.1,1437.4 L905.1,1437.7 L907.1,1437.8 L909.1,1437.2 L911.0,1436.9 L913.0,1436.5 L915.0,1436.9 L916.9,1437.2 L918.9,1437.0 L920.9,1437.0 L922.9,1437.2 L924.8,1437.4 L926.8,1437.1 L928.8,1437.5 L930.7,1437.2 L932.7,1437.4 L934.7,1437.0 L936.7,1436.7 L938.6,1437.3 L940.6,1437.6 L942.6,1437.7 L944.5,1437.0 L946.5,1436.7 L948.5,1436.6 L950.5,1436.5 L952.4,1436.6 L954.4,1436.8 L956.4,1436.5 L958.4,1436.6 L960.3,1437.1 L962.3,1436.8 L964.3,1437.4 L966.2,1437.5 L968.2,1437.6 L970.2,1437.3 L972.2,1437.2 L974.1,1437.5 L976.1,1437.3 L978.1,1436.8 L980.0,1437.4 L982.0,1437.7 L984.0,1437.3 L986.0,1436.9 L987.9,1437.5 L989.9,1437.5 L991.9,1437.0 L993.8,1436.9 L995.8,1436.7 L997.8,1437.3 L999.8,1437.0 L1001.7,1437.6 L1003.7,1437.8 L1005.7,1437.2 L1007.6,1437.5 L1009.6,1437.4 L1011.6,1437.6 L1013.6,1437.9 L1015.5,1437.5 L1017.5,1437.0 L1019.5,1437.7 L1021.4,1437.5 L1023.4,1437.9 L1025.4,1437.9 L1027.4,1438.0 L1029.3,1438.1 L1031.3,1438.0 L1033.3,1437.7 L1035.2,1437.1 L1037.2,1437.5 L1039.2,1437.4 L1041.2,1437.4 L1043.1,1437.9 L1045.1,1437.3 L1047.1,1437.6 L1049.0,1437.1 L1051.0,1437.4 L1053.0,1437.7 L1055.0,1437.3 L1056.9,1437.4 L1058.9,1437.9 L1060.9,1437.8 L1062.8,1437.7 L1064.8,1437.3 L1066.8,1436.8 L1068.8,1436.9 L1070.7,1437.0 L1072.7,1436.8 L1074.7,1436.8 L1076.6,1436.6 L1078.6,1437.1 L1080.6,1437.3 L1082.6,1437.0 L1084.5,1436.8 L1086.5,1436.9 L1088.5,1436.9 L1090.4,1437.4 L1092.4,1437.1 L1094.4,1436.8 L1096.4,1437.2 L1098.3,1436.7 L1100.3,1436.8 L1102.3,1436.5 L1104.2,1436.9 L1106.2,1436.7 L1108.2,1436.8 L1110.2,1436.2 L1112.1,1436.3 L1114.1,1436.2 L1116.1,1435.8 L1118.1,1435.8 L1120.0,1435.7 L1122.0,1434.7 L1124.0,1433.9 L1125.9,1433.1 L1127.9,1431.9 L1129.9,1430.2 L1131.9,1428.4 L1133.8,1426.0 L1135.8,1423.6 L1137.8,1420.2 L1139.7,1416.0 L1141.7,1412.0 L1143.7,1408.4 L1145.7,1405.6 L1147.6,1404.3 L1149.6,1404.9 L1151.6,1407.3 L1153.5,1411.8 L1155.5,1416.1 L1157.5,1419.5 L1159.5,1423.4 L1161.4,1426.9 L1163.4,1429.2 L1165.4,1430.6 L1167.3,1432.1 L1169.3,1433.2 L1171.3,1433.7 L1173.3,1434.6 L1175.2,1434.6 L1177.2,1435.6 L1179.2,1436.0 L1181.1,1436.3 L1183.1,1436.9 L1185.1,1436.9 L1187.1,1436.6 L1189.0,1436.4 L1191.0,1436.3 L1193.0,1436.1 L1194.9,1436.8 L1196.9,1437.3 L1198.9,1437.0 L1200.9,1436.8 L1202.8,1437.1 L1204.8,1437.6 L1206.8,1437.9 L1208.7,1437.4 L1210.7,1437.7 L1212.7,1437.9 L1214.7,1438.0 L1216.6,1437.6 L1218.6,1437.3 L1220.6,1437.7 L1222.5,1437.5 L1224.5,1437.4 L1226.5,1437.5 L1228.5,1437.4 L1230.4,1437.9 L1232.4,1437.5 L1234.4,1437.1 L1236.3,1437.4 L1238.3,1437.7 L1240.3,1438.0 L1242.3,1438.1 L1244.2,1438.4 L1246.2,1438.6 L1248.2,1438.3 L1250.1,1438.1 L1252.1,1437.6 L1254.1,1437.5 L1256.1,1437.7 L1258.0,1437.3 L1260.0,1437.7 L1262.0,1437.4 L1263.9,1437.5 L1265.9,1438.1 L1267.9,1437.6 L1269.9,1437.2 L1271.8,1437.4 L1273.8,1437.3 L1275.8,1437.7 L1277.7,1437.3 L1279.7,1437.9 L1281.7,1438.2 L1283.7,1438.4 L1285.6,1438.1 L1287.6,1437.8 L1289.6,1438.0 L1291.6,1438.0 L1293.5,1437.9 L1295.5,1437.7 L1297.5,1437.7 L1299.4,1438.0 L1301.4,1438.3 L1303.4,1438.6 L1305.4,1437.9 L1307.3,1437.7 L1309.3,1437.7 L1311.3,1437.9 L1313.2,1437.7 L1315.2,1437.5 L1317.2,1437.2 L1319.2,1437.3 L1321.1,1437.5 L1323.1,1438.1 L1325.1,1438.4 L1327.0,1438.6 L1329.0,1438.7 L1331.0,1438.8 L1333.0,1438.5 L1334.9,1438.4 L1336.9,1437.5 L1338.9,1437.5 L1340.8,1437.1 L1342.8,1436.2 L1344.8,1435.6 L1346.8,1435.0 L1348.7,1433.7 L1350.7,1432.6 L1352.7,1431.4 L1354.6,1430.8 L1356.6,1431.6 L1358.6,1431.8 L1360.6,1432.7 L1362.5,1434.2 L1364.5,1435.3 L1366.5,1435.7 L1368.4,1436.7 L1370.4,1437.0 L1372.4,1437.4 L1374.4,1437.5 L1376.3,1437.7 L1378.3,1437.8 L1380.3,1437.7 L1382.2,1437.4 L1384.2,1437.2 L1386.2,1437.9 L1388.2,1437.9 L1390.1,1437.5 L1392.1,1438.0 L1394.1,1437.7 L1396.0,1437.4 L1398.0,1437.6 L1400.0,1437.4 L1402.0,1437.6 L1403.9,1437.8 L1405.9,1437.5 L1407.9,1437.7 L1409.8,1437.4 L1411.8,1437.6 L1413.8,1437.7 L1415.8,1437.3 L1417.7,1437.4 L1419.7,1437.1 L1421.7,1437.3 L1423.6,1437.8 L1425.6,1437.8 L1427.6,1438.0 L1429.6,1438.1 L1431.5,1437.5 L1433.5,1438.1 L1435.5,1438.1 L1437.4,1437.4 L1439.4,1437.8 L1441.4,1437.5 L1443.4,1437.1 L1445.3,1437.7 L1447.3,1437.6 L1449.3,1437.7 L1451.3,1437.1 L1453.2,1437.4 L1455.2,1436.8 L1457.2,1436.6 L1459.1,1436.5 L1461.1,1436.1 L1463.1,1436.4 L1465.1,1436.1 L1467.0,1436.0 L1469.0,1436.3 L1471.0,1436.1 L1472.9,1436.3 L1474.9,1436.1 L1476.9,1436.2 L1478.9,1435.7 L1480.8,1435.7 L1482.8,1435.4 L1484.8,1434.3 L1486.7,1433.9 L1488.7,1433.0 L1490.7,1432.3 L1492.7,1431.3 L1494.6,1429.9 L1496.6,1427.3 L1498.6,1424.6 L1500.5,1421.6 L1502.5,1417.8 L1504.5,1412.7 L1506.5,1406.0 L1508.4,1399.3 L1510.4,1391.4 L1512.4,1384.2 L1514.3,1377.9 L1516.3,1373.2 L1518.3,1371.5 L1520.3,1373.2 L1522.2,1377.9 L1524.2,1384.1 L1526.2,1391.6 L1528.1,1399.5 L1530.1,1406.3 L1532.1,1411.9 L1534.1,1416.6 L1536.0,1420.7 L1538.0,1424.6 L1540.0,1427.0 L1541.9,1429.2 L1543.9,1430.5 L1545.9,1432.0 L1547.9,1432.8 L1549.8,1433.1 L1551.8,1434.2 L1553.8,1434.7 L1555.7,1435.2 L1557.7,1435.7 L1559.7,1436.2 L1561.7,1435.7 L1563.6,1435.7 L1565.6,1435.6 L1567.6,1436.0 L1569.5,1436.6 L1571.5,1437.0 L1573.5,1436.4 L1575.5,1436.3 L1577.4,1436.9 L1579.4,1437.1 L1581.4,1437.0 L1583.3,1437.0 L1585.3,1436.7 L1587.3,1437.3 L1589.3,1437.2 L1591.2,1437.6 L1593.2,1437.6 L1595.2,1437.1 L1597.1,1437.0 L1599.1,1436.9 L1601.1,1437.5 L1603.1,1437.6 L1605.0,1437.0 L1607.0,1436.9 L1609.0,1437.0 L1611.0,1437.1 L1612.9,1437.4 L1614.9,1437.3 L1616.9,1437.2 L1618.8,1436.8 L1620.8,1437.2 L1622.8,1437.2 L1624.8,1436.8 L1626.7,1437.1 L1628.7,1437.8 L1630.7,1437.2 L1632.6,1437.0 L1634.6,1437.4 L1636.6,1437.2 L1638.6,1437.1 L1640.5,1437.3 L1642.5,1437.1 L1644.5,1437.4 L1646.4,1437.5 L1648.4,1438.0 L1650.4,1438.3 L1652.4,1437.5 L1654.3,1437.6 L1656.3,1437.8 L1658.3,1438.1 L1660.2,1438.1 L1662.2,1438.0 L1664.2,1437.9 L1666.2,1437.6 L1668.1,1437.3 L1670.1,1437.6 L1672.1,1437.9 L1674.0,1438.1 L1676.0,1438.0 L1678.0,1437.5 L1680.0,1437.6 L1681.9,1437.7 L1683.9,1437.4 L1685.9,1437.3 L1687.8,1436.8 L1689.8,1436.6 L1691.8,1436.2 L1693.8,1435.3 L1695.7,1434.7 L1697.7,1434.0 L1699.7,1433.9 L1701.6,1432.9 L1703.6,1431.8 L1705.6,1430.7 L1707.6,1429.9 L1709.5,1429.5 L1711.5,1429.3 L1713.5,1429.4 L1715.4,1430.8 L1717.4,1431.7 L1719.4,1432.5 L1721.4,1433.6 L1723.3,1434.2 L1725.3,1434.6 L1727.3,1434.9 L1729.2,1435.4 L1731.2,1435.8 L1733.2,1436.5 L1735.2,1436.8 L1737.1,1437.3 L1739.1,1437.1 L1741.1,1437.5 L1743.0,1437.4 L1745.0,1436.9 L1747.0,1436.6 L1749.0,1436.9 L1750.9,1437.5 L1752.9,1437.2 L1754.9,1437.4 L1756.8,1437.2 L1758.8,1437.6 L1760.8,1436.9 L1762.8,1437.0 L1764.7,1437.4 L1766.7,1437.1 L1768.7,1436.8 L1770.6,1436.4 L1772.6,1436.3 L1774.6,1436.4 L1776.6,1436.9 L1778.5,1436.7 L1780.5,1436.7 L1782.5,1436.5 L1784.5,1436.8 L1786.4,1437.3 L1788.4,1437.3 L1790.4,1436.9 L1792.3,1437.2 L1794.3,1437.6 L1796.3,1437.5 L1798.3,1436.8 L1800.2,1437.2 L1802.2,1437.5 L1804.2,1437.1 L1806.1,1436.7 L1808.1,1436.5 L1810.1,1436.7 L1812.1,1437.2 L1814.0,1437.2 L1816.0,1437.5 L1818.0,1437.0 L1819.9,1436.8 L1821.9,1437.1 L1823.9,1437.1 L1825.9,1436.9 L1827.8,1437.1 L1829.8,1436.8 L1831.8,1436.4 L1833.7,1436.5 L1835.7,1436.1 L1837.7,1436.5 L1839.7,1436.5 L1841.6,1436.6 L1843.6,1436.8 L1845.6,1436.5 L1847.5,1436.6 L1849.5,1436.1 L1851.5,1436.8 L1853.5,1436.8" stroke="#4a46bc" />
<circle cx="723.8" cy="1369.9" r="3.4" fill="#4a46bc"/>
<path d="M376.4,1333.6 L378.4,1332.8 L380.3,1332.9 L382.3,1333.0 L384.3,1332.6 L386.3,1332.1 L388.2,1331.8 L390.2,1331.6 L392.2,1332.1 L394.1,1331.6 L396.1,1332.0 L398.1,1331.8 L400.1,1331.8 L402.0,1331.8 L404.0,1331.7 L406.0,1331.7 L407.9,1331.6 L409.9,1331.2 L411.9,1331.3 L413.9,1330.9 L415.8,1331.0 L417.8,1331.1 L419.8,1331.2 L421.7,1330.7 L423.7,1330.8 L425.7,1331.0 L427.7,1330.6 L429.6,1330.1 L431.6,1330.0 L433.6,1330.4 L435.5,1329.7 L437.5,1329.1 L439.5,1329.2 L441.5,1329.4 L443.4,1329.6 L445.4,1329.2 L447.4,1329.6 L449.3,1329.0 L451.3,1329.2 L453.3,1328.5 L455.3,1328.0 L457.2,1327.8 L459.2,1327.5 L461.2,1327.8 L463.2,1327.9 L465.1,1327.6 L467.1,1328.1 L469.1,1327.8 L471.0,1327.4 L473.0,1327.1 L475.0,1327.4 L477.0,1327.8 L478.9,1327.2 L480.9,1326.6 L482.9,1327.0 L484.8,1326.7 L486.8,1327.2 L488.8,1326.9 L490.8,1326.9 L492.7,1326.5 L494.7,1326.7 L496.7,1326.4 L498.6,1326.1 L500.6,1326.4 L502.6,1325.8 L504.6,1326.0 L506.5,1325.3 L508.5,1325.5 L510.5,1325.3 L512.4,1325.7 L514.4,1325.0 L516.4,1325.0 L518.4,1324.9 L520.3,1325.3 L522.3,1325.5 L524.3,1325.2 L526.2,1324.6 L528.2,1324.2 L530.2,1324.0 L532.2,1323.9 L534.1,1323.7 L536.1,1323.4 L538.1,1323.8 L540.0,1323.9 L542.0,1323.5 L544.0,1324.0 L546.0,1323.4 L547.9,1323.4 L549.9,1322.9 L551.9,1323.3 L553.8,1323.4 L555.8,1322.9 L557.8,1323.0 L559.8,1323.1 L561.7,1322.6 L563.7,1322.2 L565.7,1322.2 L567.6,1322.5 L569.6,1321.9 L571.6,1322.0 L573.6,1321.9 L575.5,1321.7 L577.5,1321.7 L579.5,1321.9 L581.4,1321.3 L583.4,1321.6 L585.4,1321.1 L587.4,1321.3 L589.3,1321.4 L591.3,1320.7 L593.3,1321.0 L595.2,1321.2 L597.2,1320.6 L599.2,1319.8 L601.2,1319.5 L603.1,1320.1 L605.1,1319.4 L607.1,1319.9 L609.0,1319.3 L611.0,1319.5 L613.0,1318.9 L615.0,1318.6 L616.9,1318.9 L618.9,1318.4 L620.9,1318.3 L622.8,1318.8 L624.8,1318.8 L626.8,1319.0 L628.8,1319.1 L630.7,1318.1 L632.7,1317.7 L634.7,1318.0 L636.7,1318.0 L638.6,1317.2 L640.6,1317.2 L642.6,1316.8 L644.5,1316.8 L646.5,1316.3 L648.5,1315.9 L650.5,1316.6 L652.4,1316.3 L654.4,1316.6 L656.4,1315.9 L658.3,1315.8 L660.3,1315.3 L662.3,1315.2 L664.3,1314.8 L666.2,1315.1 L668.2,1314.5 L670.2,1314.8 L672.1,1314.5 L674.1,1313.9 L676.1,1313.7 L678.1,1313.6 L680.0,1313.9 L682.0,1313.3 L684.0,1312.7 L685.9,1313.0 L687.9,1313.0 L689.9,1312.7 L691.9,1311.9 L693.8,1311.3 L695.8,1310.8 L697.8,1310.1 L699.7,1309.5 L701.7,1309.3 L703.7,1308.9 L705.7,1308.4 L706.0,1308.2 L706.3,1307.7 L706.6,1308.0 L707.0,1308.2 L707.3,1308.1 L707.6,1307.9 L708.0,1308.0 L708.3,1308.2 L708.6,1308.2 L708.9,1307.9 L709.3,1307.4 L709.6,1306.9 L709.9,1306.7 L710.3,1307.0 L710.6,1306.5 L710.9,1306.2 L711.2,1305.9 L711.6,1305.3 L711.9,1305.8 L712.2,1304.9 L712.6,1304.9 L712.9,1305.1 L713.2,1304.3 L713.5,1304.1 L713.9,1303.5 L714.2,1302.8 L714.5,1302.2 L714.9,1301.4 L715.2,1301.4 L715.5,1301.0 L715.8,1300.5 L716.2,1298.9 L716.5,1298.1 L716.8,1296.7 L717.2,1295.6 L717.5,1294.1 L717.8,1292.3 L718.1,1291.1 L718.5,1288.5 L718.8,1286.8 L719.1,1284.9 L719.5,1282.4 L719.8,1279.9 L720.1,1277.7 L720.4,1274.4 L720.8,1271.7 L721.1,1269.0 L721.4,1265.9 L721.8,1263.3 L722.1,1260.3 L722.4,1257.7 L722.7,1255.1 L723.1,1252.8 L723.4,1250.7 L723.7,1248.8 L724.1,1247.1 L724.4,1245.8 L724.7,1244.7 L725.0,1243.9 L725.4,1243.4 L725.7,1243.1 L726.0,1243.1 L726.4,1243.3 L726.7,1243.6 L727.0,1244.2 L727.3,1244.8 L727.7,1245.5 L728.0,1246.1 L728.3,1246.8 L728.7,1247.3 L729.0,1247.7 L729.3,1247.9 L729.6,1247.8 L730.0,1247.5 L730.3,1246.8 L730.6,1245.7 L731.0,1244.3 L731.3,1242.3 L731.6,1239.9 L731.9,1236.9 L732.3,1233.4 L732.6,1229.2 L732.9,1224.4 L733.3,1219.0 L733.6,1212.8 L733.9,1205.8 L734.2,1198.0 L734.6,1189.4 L734.9,1179.9 L735.2,1169.5 L735.6,1158.1 L735.9,1145.8 L736.2,1132.5 L736.5,1118.1 L736.9,1102.8 L737.2,1086.4 L737.5,1069.0 L737.9,1050.6 L738.2,1031.3 L738.5,1011.1 L738.8,990.2 L739.2,968.5 L739.5,946.3 L739.8,923.7 L740.2,901.0 L740.5,878.3 L740.8,856.0 L741.1,834.3 L741.5,813.8 L741.8,794.7 L742.1,777.6 L742.5,762.7 L742.8,750.6 L743.1,741.6 L743.4,736.0 L743.8,734.0 L744.1,735.6 L744.4,740.7 L744.8,749.3 L745.1,761.0 L745.4,775.5 L745.7,792.4 L746.1,811.3 L746.4,831.6 L746.7,853.1 L747.1,875.4 L747.4,898.0 L747.7,920.8 L748.0,943.4 L748.4,965.7 L748.7,987.5 L749.0,1008.6 L749.4,1028.9 L749.7,1048.3 L750.0,1066.9 L750.3,1084.5 L750.7,1101.0 L751.0,1116.6 L751.3,1131.2 L751.7,1144.8 L752.0,1157.5 L752.3,1169.2 L752.6,1180.0 L753.0,1189.9 L753.3,1199.0 L753.6,1207.4 L754.0,1215.0 L754.3,1222.0 L754.6,1228.3 L754.9,1234.1 L755.3,1239.3 L755.6,1244.1 L755.9,1248.4 L756.3,1252.4 L756.6,1256.3 L756.9,1259.3 L757.2,1262.2 L757.6,1265.3 L757.9,1267.6 L758.2,1269.8 L758.6,1271.9 L758.9,1274.1 L759.2,1275.9 L759.5,1277.7 L759.9,1278.9 L760.2,1279.8 L760.5,1281.5 L760.9,1282.8 L761.2,1284.3 L761.5,1285.5 L761.8,1286.0 L762.2,1286.8 L762.5,1287.4 L762.8,1288.9 L763.2,1289.4 L763.5,1289.9 L763.8,1291.2 L764.1,1292.1 L764.5,1292.4 L764.8,1293.4 L765.1,1294.3 L765.5,1294.9 L765.8,1295.0 L766.1,1295.9 L766.4,1296.4 L766.8,1297.0 L767.1,1298.0 L767.4,1298.6 L767.8,1299.2 L768.1,1299.0 L768.4,1299.2 L768.7,1299.7 L769.1,1299.6 L769.4,1300.7 L769.7,1300.8 L770.1,1300.9 L770.4,1301.2 L770.7,1301.5 L771.0,1302.4 L771.4,1302.7 L771.7,1303.0 L772.0,1303.1 L772.4,1303.0 L772.7,1303.2 L773.0,1304.1 L773.3,1304.6 L773.7,1305.1 L774.0,1304.8 L774.3,1304.7 L774.7,1304.6 L775.0,1305.1 L775.3,1305.3 L775.6,1305.6 L776.0,1305.9 L776.3,1306.2 L776.6,1306.3 L777.0,1306.8 L777.3,1306.6 L777.6,1307.3 L777.9,1307.4 L778.3,1307.0 L778.6,1307.1 L778.9,1307.4 L780.9,1308.3 L782.9,1309.1 L784.8,1309.6 L786.8,1310.0 L788.8,1310.9 L790.8,1311.1 L792.7,1311.8 L794.7,1312.4 L796.7,1312.6 L798.7,1312.7 L800.6,1313.3 L802.6,1313.3 L804.6,1313.7 L806.5,1313.2 L808.5,1313.4 L810.5,1313.7 L812.5,1313.4 L814.4,1314.1 L816.4,1313.7 L818.4,1314.0 L820.3,1313.8 L822.3,1314.5 L824.3,1314.6 L826.3,1314.9 L828.2,1314.8 L830.2,1315.0 L832.2,1315.1 L834.1,1314.8 L836.1,1314.5 L838.1,1315.0 L840.1,1314.6 L842.0,1315.2 L844.0,1314.7 L846.0,1314.4 L847.9,1314.1 L849.9,1314.6 L851.9,1314.9 L853.9,1314.0 L855.8,1313.0 L857.8,1310.7 L859.8,1308.5 L861.7,1305.8 L863.7,1303.5 L865.7,1303.5 L867.7,1306.2 L869.6,1308.7 L871.6,1311.8 L873.6,1313.3 L875.5,1314.1 L877.5,1314.8 L879.5,1315.0 L881.5,1315.3 L883.4,1315.0 L885.4,1315.7 L887.4,1315.5 L889.3,1315.9 L891.3,1315.5 L893.3,1315.9 L895.3,1316.4 L897.2,1316.0 L899.2,1315.5 L901.2,1315.5 L903.1,1315.8 L905.1,1315.5 L907.1,1315.7 L909.1,1315.4 L911.0,1315.6 L913.0,1316.0 L915.0,1315.9 L916.9,1316.1 L918.9,1315.7 L920.9,1316.1 L922.9,1315.7 L924.8,1316.3 L926.8,1316.7 L928.8,1316.9 L930.7,1316.6 L932.7,1316.2 L934.7,1316.0 L936.7,1316.3 L938.6,1316.2 L940.6,1316.6 L942.6,1316.0 L944.5,1316.0 L946.5,1316.5 L948.5,1316.4 L950.5,1316.4 L952.4,1315.9 L954.4,1315.6 L956.4,1315.6 L958.4,1316.2 L960.3,1316.6 L962.3,1316.1 L964.3,1316.6 L966.2,1316.0 L968.2,1316.2 L970.2,1316.7 L972.2,1316.3 L974.1,1316.8 L976.1,1316.7 L978.1,1316.1 L980.0,1316.0 L982.0,1316.0 L984.0,1315.9 L986.0,1316.3 L987.9,1315.9 L989.9,1316.4 L991.9,1316.1 L993.8,1315.7 L995.8,1316.0 L997.8,1315.7 L999.8,1316.0 L1001.7,1316.4 L1003.7,1316.5 L1005.7,1316.4 L1007.6,1315.9 L1009.6,1316.1 L1011.6,1315.7 L1013.6,1316.1 L1015.5,1315.8 L1017.5,1316.1 L1019.5,1316.0 L1021.4,1316.0 L1023.4,1316.3 L1025.4,1316.0 L1027.4,1315.8 L1029.3,1316.5 L1031.3,1316.2 L1033.3,1316.6 L1035.2,1316.9 L1037.2,1316.7 L1039.2,1316.2 L1041.2,1315.8 L1043.1,1316.4 L1045.1,1316.0 L1047.1,1316.1 L1049.0,1316.2 L1051.0,1315.9 L1053.0,1316.0 L1055.0,1315.8 L1056.9,1316.0 L1058.9,1316.1 L1060.9,1316.1 L1062.8,1315.8 L1064.8,1315.9 L1066.8,1315.7 L1068.8,1315.5 L1070.7,1315.5 L1072.7,1316.2 L1074.7,1316.2 L1076.6,1316.6 L1078.6,1315.9 L1080.6,1316.5 L1082.6,1316.3 L1084.5,1316.5 L1086.5,1316.4 L1088.5,1316.4 L1090.4,1316.0 L1092.4,1316.2 L1094.4,1315.7 L1096.4,1315.5 L1098.3,1315.1 L1100.3,1315.2 L1102.3,1315.4 L1104.2,1315.2 L1106.2,1315.7 L1108.2,1315.1 L1110.2,1315.1 L1112.1,1314.8 L1114.1,1314.8 L1116.1,1315.0 L1118.1,1314.8 L1120.0,1313.9 L1122.0,1313.3 L1124.0,1313.0 L1125.9,1312.8 L1127.9,1311.1 L1129.9,1309.9 L1131.9,1308.3 L1133.8,1306.2 L1135.8,1302.9 L1137.8,1299.8 L1139.7,1295.7 L1141.7,1292.0 L1143.7,1287.6 L1145.7,1285.3 L1147.6,1283.9 L1149.6,1284.6 L1151.6,1286.8 L1153.5,1290.3 L1155.5,1294.8 L1157.5,1298.9 L1159.5,1302.1 L1161.4,1305.0 L1163.4,1307.2 L1165.4,1309.1 L1167.3,1310.5 L1169.3,1311.7 L1171.3,1313.3 L1173.3,1314.3 L1175.2,1314.9 L1177.2,1314.9 L1179.2,1315.1 L1181.1,1315.5 L1183.1,1315.9 L1185.1,1316.1 L1187.1,1316.1 L1189.0,1315.7 L1191.0,1315.9 L1193.0,1316.3 L1194.9,1316.5 L1196.9,1315.9 L1198.9,1316.3 L1200.9,1316.1 L1202.8,1315.8 L1204.8,1316.5 L1206.8,1316.6 L1208.7,1316.8 L1210.7,1316.2 L1212.7,1316.7 L1214.7,1317.0 L1216.6,1317.2 L1218.6,1317.2 L1220.6,1317.3 L1222.5,1317.3 L1224.5,1317.1 L1226.5,1316.8 L1228.5,1317.1 L1230.4,1317.2 L1232.4,1317.3 L1234.4,1316.8 L1236.3,1317.2 L1238.3,1317.0 L1240.3,1317.3 L1242.3,1316.7 L1244.2,1317.2 L1246.2,1317.3 L1248.2,1316.8 L1250.1,1317.1 L1252.1,1316.6 L1254.1,1316.4 L1256.1,1316.4 L1258.0,1316.3 L1260.0,1316.4 L1262.0,1317.0 L1263.9,1317.1 L1265.9,1317.1 L1267.9,1316.9 L1269.9,1317.1 L1271.8,1317.3 L1273.8,1317.2 L1275.8,1317.5 L1277.7,1317.5 L1279.7,1317.1 L1281.7,1316.5 L1283.7,1316.8 L1285.6,1317.1 L1287.6,1316.8 L1289.6,1316.9 L1291.6,1317.2 L1293.5,1317.3 L1295.5,1316.6 L1297.5,1316.6 L1299.4,1316.2 L1301.4,1316.0 L1303.4,1316.6 L1305.4,1316.6 L1307.3,1316.7 L1309.3,1316.7 L1311.3,1316.5 L1313.2,1316.3 L1315.2,1316.3 L1317.2,1316.8 L1319.2,1316.9 L1321.1,1316.6 L1323.1,1316.2 L1325.1,1316.1 L1327.0,1316.5 L1329.0,1316.5 L1331.0,1316.7 L1333.0,1316.9 L1334.9,1316.3 L1336.9,1316.4 L1338.9,1315.7 L1340.8,1315.9 L1342.8,1315.0 L1344.8,1314.2 L1346.8,1314.0 L1348.7,1312.8 L1350.7,1311.5 L1352.7,1311.3 L1354.6,1311.0 L1356.6,1311.5 L1358.6,1311.9 L1360.6,1312.7 L1362.5,1314.1 L1364.5,1314.8 L1366.5,1315.9 L1368.4,1315.8 L1370.4,1316.4 L1372.4,1316.1 L1374.4,1316.3 L1376.3,1315.9 L1378.3,1315.8 L1380.3,1316.6 L1382.2,1316.5 L1384.2,1316.8 L1386.2,1316.5 L1388.2,1316.3 L1390.1,1316.0 L1392.1,1316.3 L1394.1,1316.8 L1396.0,1316.7 L1398.0,1316.5 L1400.0,1317.0 L1402.0,1317.2 L1403.9,1317.1 L1405.9,1316.4 L1407.9,1316.6 L1409.8,1316.5 L1411.8,1316.9 L1413.8,1316.6 L1415.8,1316.7 L1417.7,1316.7 L1419.7,1316.5 L1421.7,1316.4 L1423.6,1316.6 L1425.6,1316.9 L1427.6,1316.7 L1429.6,1316.4 L1431.5,1316.8 L1433.5,1316.1 L1435.5,1316.5 L1437.4,1316.5 L1439.4,1316.4 L1441.4,1316.2 L1443.4,1316.4 L1445.3,1316.6 L1447.3,1316.6 L1449.3,1316.5 L1451.3,1315.7 L1453.2,1315.5 L1455.2,1315.2 L1457.2,1315.8 L1459.1,1316.1 L1461.1,1315.4 L1463.1,1315.4 L1465.1,1315.4 L1467.0,1314.7 L1469.0,1314.6 L1471.0,1314.9 L1472.9,1314.8 L1474.9,1314.3 L1476.9,1314.4 L1478.9,1313.9 L1480.8,1313.7 L1482.8,1313.2 L1484.8,1313.3 L1486.7,1312.8 L1488.7,1312.3 L1490.7,1311.4 L1492.7,1310.0 L1494.6,1309.0 L1496.6,1307.1 L1498.6,1304.6 L1500.5,1301.0 L1502.5,1296.7 L1504.5,1292.1 L1506.5,1286.8 L1508.4,1280.5 L1510.4,1273.2 L1512.4,1265.8 L1514.3,1259.7 L1516.3,1255.5 L1518.3,1254.0 L1520.3,1255.5 L1522.2,1259.6 L1524.2,1265.7 L1526.2,1272.4 L1528.1,1279.4 L1530.1,1286.0 L1532.1,1292.3 L1534.1,1297.5 L1536.0,1300.9 L1538.0,1303.8 L1540.0,1306.8 L1541.9,1308.1 L1543.9,1309.4 L1545.9,1310.5 L1547.9,1311.0 L1549.8,1311.6 L1551.8,1312.2 L1553.8,1312.7 L1555.7,1313.7 L1557.7,1313.6 L1559.7,1313.6 L1561.7,1314.4 L1563.6,1314.4 L1565.6,1314.9 L1567.6,1315.0 L1569.5,1315.3 L1571.5,1315.0 L1573.5,1314.7 L1575.5,1315.1 L1577.4,1315.1 L1579.4,1315.3 L1581.4,1315.5 L1583.3,1315.7 L1585.3,1315.3 L1587.3,1315.2 L1589.3,1315.8 L1591.2,1315.7 L1593.2,1315.4 L1595.2,1315.6 L1597.1,1315.3 L1599.1,1315.7 L1601.1,1315.2 L1603.1,1315.7 L1605.0,1315.7 L1607.0,1315.5 L1609.0,1316.0 L1611.0,1315.6 L1612.9,1315.3 L1614.9,1315.0 L1616.9,1315.3 L1618.8,1315.7 L1620.8,1315.8 L1622.8,1315.7 L1624.8,1316.0 L1626.7,1315.4 L1628.7,1315.3 L1630.7,1315.6 L1632.6,1316.1 L1634.6,1316.0 L1636.6,1316.0 L1638.6,1316.1 L1640.5,1315.8 L1642.5,1316.1 L1644.5,1316.1 L1646.4,1315.7 L1648.4,1315.5 L1650.4,1315.8 L1652.4,1315.5 L1654.3,1315.2 L1656.3,1315.7 L1658.3,1315.6 L1660.2,1315.5 L1662.2,1315.6 L1664.2,1315.9 L1666.2,1315.3 L1668.1,1315.1 L1670.1,1314.7 L1672.1,1314.9 L1674.0,1315.0 L1676.0,1315.4 L1678.0,1315.5 L1680.0,1315.4 L1681.9,1315.1 L1683.9,1315.1 L1685.9,1314.7 L1687.8,1315.0 L1689.8,1315.0 L1691.8,1314.8 L1693.8,1313.8 L1695.7,1313.5 L1697.7,1313.0 L1699.7,1312.2 L1701.6,1311.7 L1703.6,1311.1 L1705.6,1310.3 L1707.6,1309.8 L1709.5,1309.3 L1711.5,1309.5 L1713.5,1309.1 L1715.4,1309.8 L1717.4,1310.6 L1719.4,1311.4 L1721.4,1311.7 L1723.3,1312.0 L1725.3,1312.9 L1727.3,1313.8 L1729.2,1313.8 L1731.2,1313.8 L1733.2,1313.9 L1735.2,1313.8 L1737.1,1314.3 L1739.1,1315.0 L1741.1,1315.2 L1743.0,1314.9 L1745.0,1315.0 L1747.0,1314.4 L1749.0,1314.9 L1750.9,1314.6 L1752.9,1314.1 L1754.9,1314.5 L1756.8,1314.2 L1758.8,1314.1 L1760.8,1313.9 L1762.8,1314.1 L1764.7,1314.4 L1766.7,1314.8 L1768.7,1314.2 L1770.6,1314.7 L1772.6,1314.3 L1774.6,1314.1 L1776.6,1314.4 L1778.5,1314.3 L1780.5,1314.2 L1782.5,1314.4 L1784.5,1314.1 L1786.4,1314.6 L1788.4,1314.2 L1790.4,1314.7 L1792.3,1314.9 L1794.3,1314.7 L1796.3,1314.1 L1798.3,1314.5 L1800.2,1314.0 L1802.2,1314.1 L1804.2,1314.1 L1806.1,1313.8 L1808.1,1314.1 L1810.1,1314.4 L1812.1,1314.4 L1814.0,1314.3 L1816.0,1314.3 L1818.0,1314.3 L1819.9,1314.0 L1821.9,1314.5 L1823.9,1314.9 L1825.9,1314.9 L1827.8,1315.1 L1829.8,1314.5 L1831.8,1314.9 L1833.7,1314.1 L1835.7,1314.1 L1837.7,1313.7 L1839.7,1313.8 L1841.6,1314.1 L1843.6,1314.3 L1845.6,1314.1 L1847.5,1313.9 L1849.5,1313.6 L1851.5,1313.6 L1853.5,1313.5" stroke="#308a86" />
<circle cx="726.8" cy="1243.8" r="3.4" fill="#308a86"/>
<path d="M376.4,1190.6 L378.4,1191.0 L380.3,1190.9 L382.3,1190.8 L384.3,1190.5 L386.3,1190.9 L388.2,1190.5 L390.2,1190.4 L392.2,1190.6 L394.1,1190.9 L396.1,1191.3 L398.1,1191.4 L400.1,1191.6 L402.0,1191.7 L404.0,1191.5 L406.0,1191.4 L407.9,1190.7 L409.9,1190.4 L411.9,1190.0 L413.9,1190.6 L415.8,1190.9 L417.8,1190.9 L419.8,1190.5 L421.7,1190.4 L423.7,1190.1 L425.7,1190.4 L427.7,1191.0 L429.6,1190.6 L431.6,1190.1 L433.6,1189.9 L435.5,1190.0 L437.5,1190.6 L439.5,1190.9 L441.5,1190.7 L443.4,1190.2 L445.4,1189.9 L447.4,1189.7 L449.3,1190.3 L451.3,1190.3 L453.3,1190.8 L455.3,1191.1 L457.2,1191.1 L459.2,1190.8 L461.2,1190.9 L463.2,1190.3 L465.1,1189.9 L467.1,1190.1 L469.1,1190.2 L471.0,1189.9 L473.0,1189.8 L475.0,1189.5 L477.0,1190.2 L478.9,1190.4 L480.9,1190.8 L482.9,1191.0 L484.8,1190.6 L486.8,1190.7 L488.8,1190.3 L490.8,1190.6 L492.7,1190.7 L494.7,1190.1 L496.7,1189.6 L498.6,1189.5 L500.6,1189.8 L502.6,1189.7 L504.6,1189.3 L506.5,1189.9 L508.5,1190.2 L510.5,1190.1 L512.4,1189.6 L514.4,1190.1 L516.4,1190.1 L518.4,1189.5 L520.3,1189.5 L522.3,1189.8 L524.3,1190.2 L526.2,1190.0 L528.2,1190.1 L530.2,1189.7 L532.2,1189.4 L534.1,1190.0 L536.1,1189.8 L538.1,1189.3 L540.0,1189.6 L542.0,1189.2 L544.0,1189.1 L546.0,1189.2 L547.9,1189.4 L549.9,1189.6 L551.9,1189.7 L553.8,1189.5 L555.8,1189.0 L557.8,1189.4 L559.8,1188.8 L561.7,1189.0 L563.7,1188.9 L565.7,1189.2 L567.6,1189.4 L569.6,1189.0 L571.6,1189.1 L573.6,1189.2 L575.5,1189.1 L577.5,1188.6 L579.5,1189.1 L581.4,1189.1 L583.4,1188.5 L585.4,1188.3 L587.4,1188.9 L589.3,1188.5 L591.3,1188.4 L593.3,1188.7 L595.2,1188.9 L597.2,1188.8 L599.2,1188.9 L601.2,1188.2 L603.1,1187.8 L605.1,1188.4 L607.1,1188.6 L609.0,1187.9 L611.0,1187.5 L613.0,1187.4 L615.0,1188.0 L616.9,1187.7 L618.9,1187.9 L620.9,1188.2 L622.8,1188.1 L624.8,1188.4 L626.8,1187.8 L628.8,1187.3 L630.7,1186.8 L632.7,1187.3 L634.7,1186.8 L636.7,1187.5 L638.6,1187.5 L640.6,1187.0 L642.6,1187.3 L644.5,1186.7 L646.5,1186.8 L648.5,1186.3 L650.5,1186.7 L652.4,1187.0 L654.4,1187.2 L656.4,1186.3 L658.3,1186.6 L660.3,1186.4 L662.3,1186.5 L664.3,1186.2 L666.2,1186.1 L668.2,1185.9 L670.2,1186.0 L672.1,1185.2 L674.1,1184.6 L676.1,1184.7 L678.1,1184.4 L680.0,1184.3 L682.0,1183.7 L684.0,1184.0 L685.9,1183.3 L687.9,1183.6 L689.9,1183.6 L691.9,1183.1 L693.8,1182.3 L695.8,1182.2 L697.8,1181.5 L699.7,1181.0 L701.7,1180.2 L703.7,1180.2 L705.7,1179.4 L706.0,1179.0 L706.3,1178.5 L706.6,1178.7 L707.0,1178.9 L707.3,1179.0 L707.6,1178.2 L708.0,1177.9 L708.3,1177.6 L708.6,1177.8 L708.9,1177.2 L709.3,1177.2 L709.6,1177.4 L709.9,1177.3 L710.3,1176.3 L710.6,1175.6 L710.9,1175.1 L711.2,1175.2 L711.6,1175.0 L711.9,1174.6 L712.2,1174.0 L712.6,1173.3 L712.9,1172.8 L713.2,1172.2 L713.5,1171.8 L713.9,1170.9 L714.2,1169.9 L714.5,1168.9 L714.9,1167.6 L715.2,1166.1 L715.5,1163.7 L715.8,1162.2 L716.2,1160.7 L716.5,1158.4 L716.8,1156.5 L717.2,1153.7 L717.5,1151.8 L717.8,1149.1 L718.1,1146.6 L718.5,1143.6 L718.8,1140.8 L719.1,1138.1 L719.5,1135.5 L719.8,1132.7 L720.1,1130.5 L720.4,1128.9 L720.8,1126.6 L721.1,1124.7 L721.4,1123.0 L721.8,1121.6 L722.1,1120.4 L722.4,1119.5 L722.7,1118.8 L723.1,1118.4 L723.4,1118.2 L723.7,1118.2 L724.1,1118.4 L724.4,1118.7 L724.7,1119.1 L725.0,1119.6 L725.4,1120.1 L725.7,1120.5 L726.0,1120.9 L726.4,1121.1 L726.7,1121.2 L727.0,1121.0 L727.3,1120.6 L727.7,1119.8 L728.0,1118.7 L728.3,1117.2 L728.7,1115.3 L729.0,1112.9 L729.3,1110.0 L729.6,1106.5 L730.0,1102.5 L730.3,1097.8 L730.6,1092.5 L731.0,1086.4 L731.3,1079.6 L731.6,1072.1 L731.9,1063.6 L732.3,1054.4 L732.6,1044.2 L732.9,1033.1 L733.3,1021.0 L733.6,1007.9 L733.9,993.8 L734.2,978.7 L734.6,962.6 L734.9,945.4 L735.2,927.2 L735.6,908.1 L735.9,888.0 L736.2,867.1 L736.5,845.5 L736.9,823.3 L737.2,800.6 L737.5,777.6 L737.9,754.7 L738.2,731.9 L738.5,709.8 L738.8,688.6 L739.2,668.7 L739.5,650.5 L739.8,634.6 L740.2,621.2 L740.5,610.9 L740.8,603.8 L741.1,600.3 L741.5,600.5 L741.8,604.3 L742.1,611.7 L742.5,622.3 L742.8,635.9 L743.1,652.0 L743.4,670.4 L743.8,690.4 L744.1,711.7 L744.4,733.9 L744.8,756.7 L745.1,779.7 L745.4,802.6 L745.7,825.3 L746.1,847.5 L746.4,869.1 L746.7,890.0 L747.1,910.0 L747.4,929.1 L747.7,947.2 L748.0,964.4 L748.4,980.5 L748.7,995.6 L749.0,1009.8 L749.4,1022.9 L749.7,1035.1 L750.0,1046.4 L750.3,1056.7 L750.7,1066.3 L751.0,1075.0 L751.3,1083.0 L751.7,1090.3 L752.0,1097.0 L752.3,1103.0 L752.6,1108.5 L753.0,1113.5 L753.3,1118.1 L753.6,1122.2 L754.0,1126.0 L754.3,1129.3 L754.6,1132.6 L754.9,1135.5 L755.3,1137.7 L755.6,1139.8 L755.9,1141.7 L756.3,1144.4 L756.6,1145.9 L756.9,1148.3 L757.2,1149.7 L757.6,1151.5 L757.9,1152.4 L758.2,1154.1 L758.6,1155.0 L758.9,1156.1 L759.2,1157.3 L759.5,1158.0 L759.9,1158.9 L760.2,1160.3 L760.5,1161.0 L760.9,1161.8 L761.2,1163.0 L761.5,1163.4 L761.8,1163.9 L762.2,1164.5 L762.5,1165.3 L762.8,1165.9 L763.2,1166.9 L763.5,1167.5 L763.8,1168.4 L764.1,1168.4 L764.5,1169.2 L764.8,1170.0 L765.1,1170.1 L765.5,1170.1 L765.8,1170.7 L766.1,1170.9 L766.4,1171.5 L766.8,1172.3 L767.1,1172.2 L767.4,1172.4 L767.8,1173.0 L768.1,1173.2 L768.4,1173.4 L768.7,1174.0 L769.1,1174.1 L769.4,1174.2 L769.7,1174.7 L770.1,1175.2 L770.4,1176.1 L770.7,1176.3 L771.0,1176.0 L771.4,1176.1 L771.7,1176.8 L772.0,1177.1 L772.4,1177.7 L772.7,1178.3 L773.0,1178.6 L773.3,1178.0 L773.7,1178.7 L774.0,1178.7 L774.3,1178.5 L774.7,1178.4 L775.0,1179.1 L775.3,1178.9 L775.6,1178.7 L776.0,1178.8 L776.3,1179.7 L776.6,1179.8 L777.0,1180.1 L777.3,1179.8 L777.6,1180.0 L777.9,1180.0 L778.3,1180.0 L778.6,1180.5 L778.9,1180.5 L780.9,1180.9 L782.9,1182.3 L784.8,1182.7 L786.8,1182.8 L788.8,1182.8 L790.8,1183.7 L792.7,1184.1 L794.7,1184.0 L796.7,1184.4 L798.7,1185.1 L800.6,1185.3 L802.6,1185.2 L804.6,1185.5 L806.5,1185.9 L808.5,1186.2 L810.5,1185.9 L812.5,1186.4 L814.4,1187.0 L816.4,1187.1 L818.4,1187.4 L820.3,1187.0 L822.3,1187.4 L824.3,1186.9 L826.3,1186.7 L828.2,1187.0 L830.2,1187.5 L832.2,1187.0 L834.1,1186.8 L836.1,1186.6 L838.1,1186.9 L840.1,1186.7 L842.0,1186.7 L844.0,1187.3 L846.0,1187.4 L847.9,1187.8 L849.9,1187.4 L851.9,1187.3 L853.9,1186.0 L855.8,1185.2 L857.8,1182.6 L859.8,1179.5 L861.7,1176.3 L863.7,1174.8 L865.7,1175.1 L867.7,1178.2 L869.6,1181.4 L871.6,1183.9 L873.6,1186.2 L875.5,1186.9 L877.5,1188.1 L879.5,1188.2 L881.5,1187.9 L883.4,1188.6 L885.4,1188.3 L887.4,1188.3 L889.3,1188.2 L891.3,1188.5 L893.3,1188.0 L895.3,1188.1 L897.2,1188.0 L899.2,1188.6 L901.2,1188.1 L903.1,1188.5 L905.1,1188.3 L907.1,1188.5 L909.1,1188.7 L911.0,1189.0 L913.0,1188.5 L915.0,1188.4 L916.9,1188.2 L918.9,1189.0 L920.9,1188.6 L922.9,1188.4 L924.8,1188.7 L926.8,1188.9 L928.8,1189.4 L930.7,1188.8 L932.7,1188.6 L934.7,1188.5 L936.7,1188.8 L938.6,1188.9 L940.6,1188.9 L942.6,1189.4 L944.5,1189.5 L946.5,1189.8 L948.5,1190.0 L950.5,1189.5 L952.4,1189.9 L954.4,1189.5 L956.4,1189.0 L958.4,1189.5 L960.3,1189.0 L962.3,1188.7 L964.3,1188.7 L966.2,1188.8 L968.2,1189.5 L970.2,1189.9 L972.2,1189.6 L974.1,1189.6 L976.1,1189.9 L978.1,1190.0 L980.0,1190.0 L982.0,1189.8 L984.0,1189.3 L986.0,1189.1 L987.9,1189.5 L989.9,1189.6 L991.9,1189.9 L993.8,1190.2 L995.8,1190.4 L997.8,1189.8 L999.8,1189.3 L1001.7,1189.8 L1003.7,1189.8 L1005.7,1189.4 L1007.6,1189.7 L1009.6,1189.5 L1011.6,1189.3 L1013.6,1189.3 L1015.5,1189.5 L1017.5,1189.8 L1019.5,1189.3 L1021.4,1189.8 L1023.4,1189.9 L1025.4,1189.8 L1027.4,1190.0 L1029.3,1190.2 L1031.3,1189.5 L1033.3,1189.6 L1035.2,1189.9 L1037.2,1190.1 L1039.2,1190.1 L1041.2,1189.7 L1043.1,1190.2 L1045.1,1190.4 L1047.1,1189.9 L1049.0,1189.8 L1051.0,1190.3 L1053.0,1189.8 L1055.0,1189.8 L1056.9,1190.3 L1058.9,1190.5 L1060.9,1190.0 L1062.8,1190.2 L1064.8,1189.9 L1066.8,1190.1 L1068.8,1190.3 L1070.7,1189.7 L1072.7,1189.5 L1074.7,1189.3 L1076.6,1189.3 L1078.6,1189.0 L1080.6,1188.9 L1082.6,1189.2 L1084.5,1189.3 L1086.5,1189.0 L1088.5,1189.4 L1090.4,1189.9 L1092.4,1189.9 L1094.4,1189.6 L1096.4,1189.8 L1098.3,1189.6 L1100.3,1189.1 L1102.3,1189.2 L1104.2,1188.7 L1106.2,1189.0 L1108.2,1188.6 L1110.2,1188.5 L1112.1,1189.0 L1114.1,1189.0 L1116.1,1188.9 L1118.1,1188.5 L1120.0,1188.1 L1122.0,1187.7 L1124.0,1187.3 L1125.9,1185.8 L1127.9,1184.8 L1129.9,1182.9 L1131.9,1180.5 L1133.8,1178.2 L1135.8,1174.9 L1137.8,1171.2 L1139.7,1167.0 L1141.7,1162.2 L1143.7,1157.4 L1145.7,1153.6 L1147.6,1152.6 L1149.6,1153.9 L1151.6,1156.6 L1153.5,1160.4 L1155.5,1164.8 L1157.5,1169.3 L1159.5,1173.9 L1161.4,1177.0 L1163.4,1179.9 L1165.4,1182.1 L1167.3,1184.3 L1169.3,1186.2 L1171.3,1186.5 L1173.3,1186.9 L1175.2,1188.1 L1177.2,1189.0 L1179.2,1188.7 L1181.1,1188.8 L1183.1,1189.1 L1185.1,1189.2 L1187.1,1189.4 L1189.0,1189.6 L1191.0,1189.5 L1193.0,1189.3 L1194.9,1189.3 L1196.9,1189.3 L1198.9,1189.3 L1200.9,1189.9 L1202.8,1190.3 L1204.8,1190.2 L1206.8,1190.6 L1208.7,1190.8 L1210.7,1190.6 L1212.7,1190.6 L1214.7,1190.3 L1216.6,1190.9 L1218.6,1190.9 L1220.6,1190.4 L1222.5,1190.2 L1224.5,1190.6 L1226.5,1190.6 L1228.5,1190.9 L1230.4,1190.6 L1232.4,1191.0 L1234.4,1191.2 L1236.3,1190.7 L1238.3,1190.8 L1240.3,1190.5 L1242.3,1190.9 L1244.2,1191.2 L1246.2,1191.4 L1248.2,1190.9 L1250.1,1190.5 L1252.1,1190.8 L1254.1,1190.9 L1256.1,1190.5 L1258.0,1190.4 L1260.0,1190.7 L1262.0,1190.4 L1263.9,1190.7 L1265.9,1190.5 L1267.9,1190.4 L1269.9,1190.6 L1271.8,1190.7 L1273.8,1191.0 L1275.8,1190.5 L1277.7,1190.9 L1279.7,1190.6 L1281.7,1190.5 L1283.7,1190.8 L1285.6,1191.1 L1287.6,1191.1 L1289.6,1191.5 L1291.6,1190.9 L1293.5,1190.7 L1295.5,1191.0 L1297.5,1190.7 L1299.4,1190.4 L1301.4,1190.3 L1303.4,1190.8 L1305.4,1191.2 L1307.3,1191.3 L1309.3,1191.6 L1311.3,1191.6 L1313.2,1191.1 L1315.2,1190.8 L1317.2,1191.0 L1319.2,1190.5 L1321.1,1190.7 L1323.1,1190.3 L1325.1,1190.0 L1327.0,1190.3 L1329.0,1190.1 L1331.0,1190.8 L1333.0,1191.1 L1334.9,1190.8 L1336.9,1190.2 L1338.9,1189.7 L1340.8,1189.5 L1342.8,1189.1 L1344.8,1188.2 L1346.8,1187.5 L1348.7,1186.3 L1350.7,1185.5 L1352.7,1184.0 L1354.6,1183.3 L1356.6,1183.7 L1358.6,1184.6 L1360.6,1185.6 L1362.5,1187.1 L1364.5,1187.9 L1366.5,1188.6 L1368.4,1189.4 L1370.4,1190.1 L1372.4,1190.6 L1374.4,1190.5 L1376.3,1190.5 L1378.3,1191.0 L1380.3,1191.3 L1382.2,1191.1 L1384.2,1190.5 L1386.2,1190.5 L1388.2,1190.7 L1390.1,1190.4 L1392.1,1190.0 L1394.1,1190.8 L1396.0,1191.1 L1398.0,1190.5 L1400.0,1190.5 L1402.0,1190.7 L1403.9,1190.4 L1405.9,1190.0 L1407.9,1190.5 L1409.8,1190.8 L1411.8,1190.6 L1413.8,1190.1 L1415.8,1190.1 L1417.7,1189.8 L1419.7,1190.6 L1421.7,1190.0 L1423.6,1189.9 L1425.6,1190.4 L1427.6,1190.0 L1429.6,1189.7 L1431.5,1189.5 L1433.5,1189.4 L1435.5,1189.7 L1437.4,1190.2 L1439.4,1189.8 L1441.4,1189.6 L1443.4,1190.0 L1445.3,1189.9 L1447.3,1189.7 L1449.3,1189.4 L1451.3,1189.2 L1453.2,1189.9 L1455.2,1189.4 L1457.2,1189.1 L1459.1,1189.5 L1461.1,1189.8 L1463.1,1189.9 L1465.1,1189.5 L1467.0,1189.7 L1469.0,1189.4 L1471.0,1188.8 L1472.9,1188.5 L1474.9,1188.5 L1476.9,1188.4 L1478.9,1187.6 L1480.8,1187.0 L1482.8,1187.2 L1484.8,1186.3 L1486.7,1186.1 L1488.7,1185.2 L1490.7,1184.0 L1492.7,1182.7 L1494.6,1181.3 L1496.6,1179.9 L1498.6,1176.7 L1500.5,1173.7 L1502.5,1169.1 L1504.5,1163.5 L1506.5,1157.6 L1508.4,1150.4 L1510.4,1142.5 L1512.4,1134.9 L1514.3,1128.5 L1516.3,1123.7 L1518.3,1122.0 L1520.3,1123.7 L1522.2,1128.5 L1524.2,1135.4 L1526.2,1143.4 L1528.1,1151.3 L1530.1,1157.9 L1532.1,1164.3 L1534.1,1169.7 L1536.0,1173.5 L1538.0,1176.8 L1540.0,1179.3 L1541.9,1181.3 L1543.9,1182.8 L1545.9,1183.7 L1547.9,1184.6 L1549.8,1186.0 L1551.8,1186.4 L1553.8,1187.0 L1555.7,1187.8 L1557.7,1188.2 L1559.7,1188.0 L1561.7,1188.7 L1563.6,1189.0 L1565.6,1189.5 L1567.6,1189.5 L1569.5,1189.6 L1571.5,1189.8 L1573.5,1189.4 L1575.5,1189.6 L1577.4,1189.4 L1579.4,1189.8 L1581.4,1189.4 L1583.3,1189.6 L1585.3,1189.5 L1587.3,1190.0 L1589.3,1189.8 L1591.2,1190.2 L1593.2,1190.5 L1595.2,1190.7 L1597.1,1190.0 L1599.1,1190.5 L1601.1,1190.6 L1603.1,1190.6 L1605.0,1190.6 L1607.0,1190.0 L1609.0,1190.4 L1611.0,1190.4 L1612.9,1190.3 L1614.9,1190.1 L1616.9,1190.5 L1618.8,1190.7 L1620.8,1190.9 L1622.8,1190.4 L1624.8,1190.2 L1626.7,1190.0 L1628.7,1189.7 L1630.7,1189.8 L1632.6,1189.5 L1634.6,1190.2 L1636.6,1190.0 L1638.6,1189.7 L1640.5,1189.5 L1642.5,1190.1 L1644.5,1189.9 L1646.4,1190.1 L1648.4,1190.1 L1650.4,1190.6 L1652.4,1191.0 L1654.3,1190.6 L1656.3,1190.6 L1658.3,1191.0 L1660.2,1190.7 L1662.2,1191.0 L1664.2,1191.0 L1666.2,1190.6 L1668.1,1190.9 L1670.1,1190.8 L1672.1,1190.2 L1674.0,1190.4 L1676.0,1190.7 L1678.0,1190.6 L1680.0,1190.4 L1681.9,1190.2 L1683.9,1190.6 L1685.9,1190.5 L1687.8,1189.9 L1689.8,1189.6 L1691.8,1189.3 L1693.8,1189.5 L1695.7,1189.1 L1697.7,1188.0 L1699.7,1187.8 L1701.6,1186.5 L1703.6,1186.0 L1705.6,1185.3 L1707.6,1185.0 L1709.5,1184.6 L1711.5,1184.2 L1713.5,1184.7 L1715.4,1185.6 L1717.4,1186.5 L1719.4,1186.9 L1721.4,1187.3 L1723.3,1188.3 L1725.3,1189.1 L1727.3,1189.1 L1729.2,1189.9 L1731.2,1190.5 L1733.2,1190.4 L1735.2,1190.2 L1737.1,1190.5 L1739.1,1190.9 L1741.1,1190.4 L1743.0,1190.2 L1745.0,1190.1 L1747.0,1190.5 L1749.0,1190.1 L1750.9,1190.3 L1752.9,1190.4 L1754.9,1190.6 L1756.8,1190.1 L1758.8,1190.7 L1760.8,1191.2 L1762.8,1190.9 L1764.7,1191.1 L1766.7,1190.5 L1768.7,1190.9 L1770.6,1190.8 L1772.6,1190.9 L1774.6,1191.1 L1776.6,1190.7 L1778.5,1191.1 L1780.5,1190.5 L1782.5,1190.0 L1784.5,1190.2 L1786.4,1190.7 L1788.4,1191.0 L1790.4,1191.3 L1792.3,1191.0 L1794.3,1191.2 L1796.3,1191.0 L1798.3,1190.4 L1800.2,1190.6 L1802.2,1190.8 L1804.2,1190.6 L1806.1,1190.7 L1808.1,1190.3 L1810.1,1190.2 L1812.1,1190.2 L1814.0,1190.3 L1816.0,1190.3 L1818.0,1190.0 L1819.9,1189.6 L1821.9,1189.8 L1823.9,1190.3 L1825.9,1190.6 L1827.8,1190.3 L1829.8,1190.1 L1831.8,1190.3 L1833.7,1190.0 L1835.7,1190.3 L1837.7,1190.8 L1839.7,1190.3 L1841.6,1190.5 L1843.6,1190.7 L1845.6,1190.8 L1847.5,1190.9 L1849.5,1190.9 L1851.5,1190.5 L1853.5,1190.8" stroke="#cc62c2" />
<circle cx="724.3" cy="1118.6" r="3.4" fill="#cc62c2"/>
<path d="M376.4,1076.7 L378.4,1075.9 L380.3,1076.4 L382.3,1076.2 L384.3,1075.6 L386.3,1075.2 L388.2,1075.7 L390.2,1075.9 L392.2,1075.4 L394.1,1075.4 L396.1,1075.6 L398.1,1076.0 L400.1,1075.6 L402.0,1075.7 L404.0,1075.3 L406.0,1074.9 L407.9,1074.6 L409.9,1074.7 L411.9,1074.9 L413.9,1074.7 L415.8,1074.4 L417.8,1074.2 L419.8,1074.0 L421.7,1073.9 L423.7,1074.0 L425.7,1074.2 L427.7,1074.0 L429.6,1074.1 L431.6,1074.1 L433.6,1074.7 L435.5,1074.5 L437.5,1074.8 L439.5,1074.5 L441.5,1073.9 L443.4,1074.0 L445.4,1073.6 L447.4,1073.3 L449.3,1073.0 L451.3,1073.5 L453.3,1074.0 L455.3,1073.7 L457.2,1073.5 L459.2,1073.4 L461.2,1073.2 L463.2,1073.4 L465.1,1073.2 L467.1,1072.8 L469.1,1073.3 L471.0,1073.2 L473.0,1072.6 L475.0,1073.1 L477.0,1073.2 L478.9,1072.9 L480.9,1072.9 L482.9,1073.2 L484.8,1072.8 L486.8,1072.6 L488.8,1072.3 L490.8,1072.4 L492.7,1072.5 L494.7,1072.6 L496.7,1072.9 L498.6,1072.2 L500.6,1072.0 L502.6,1072.3 L504.6,1072.4 L506.5,1072.3 L508.5,1072.2 L510.5,1071.8 L512.4,1072.2 L514.4,1072.0 L516.4,1071.7 L518.4,1071.2 L520.3,1070.9 L522.3,1071.4 L524.3,1071.7 L526.2,1071.0 L528.2,1070.8 L530.2,1070.9 L532.2,1070.9 L534.1,1070.7 L536.1,1071.2 L538.1,1070.8 L540.0,1070.8 L542.0,1071.2 L544.0,1071.1 L546.0,1070.8 L547.9,1070.5 L549.9,1070.4 L551.9,1070.5 L553.8,1070.7 L555.8,1070.3 L557.8,1070.1 L559.8,1070.0 L561.7,1069.9 L563.7,1070.4 L565.7,1070.3 L567.6,1069.9 L569.6,1069.8 L571.6,1070.1 L573.6,1069.7 L575.5,1069.9 L577.5,1069.3 L579.5,1069.2 L581.4,1068.9 L583.4,1069.5 L585.4,1069.1 L587.4,1069.0 L589.3,1068.7 L591.3,1068.7 L593.3,1069.2 L595.2,1069.4 L597.2,1069.8 L599.2,1070.0 L601.2,1069.7 L603.1,1069.8 L605.1,1069.1 L607.1,1069.4 L609.0,1069.1 L611.0,1068.7 L613.0,1068.9 L615.0,1069.2 L616.9,1068.8 L618.9,1068.3 L620.9,1068.7 L622.8,1068.9 L624.8,1068.7 L626.8,1069.0 L628.8,1068.2 L630.7,1067.7 L632.7,1067.4 L634.7,1067.1 L636.7,1067.7 L638.6,1067.8 L640.6,1067.4 L642.6,1067.1 L644.5,1067.0 L646.5,1067.3 L648.5,1067.5 L650.5,1067.9 L652.4,1067.4 L654.4,1067.8 L656.4,1067.4 L658.3,1067.0 L660.3,1066.7 L662.3,1066.4 L664.3,1066.9 L666.2,1067.2 L668.2,1067.0 L670.2,1066.3 L672.1,1065.8 L674.1,1065.4 L676.1,1065.3 L678.1,1065.5 L680.0,1064.9 L682.0,1064.9 L684.0,1065.0 L685.9,1064.2 L687.9,1064.1 L689.9,1064.3 L691.9,1064.0 L693.8,1063.6 L695.8,1063.7 L697.8,1063.2 L699.7,1062.5 L701.7,1061.8 L703.7,1061.7 L705.7,1061.3 L706.0,1061.4 L706.3,1061.0 L706.6,1060.2 L707.0,1059.8 L707.3,1059.7 L707.6,1059.9 L708.0,1059.2 L708.3,1059.6 L708.6,1059.7 L708.9,1059.5 L709.3,1058.7 L709.6,1059.0 L709.9,1058.7 L710.3,1058.8 L710.6,1058.6 L710.9,1058.6 L711.2,1058.1 L711.6,1058.3 L711.9,1058.4 L712.2,1058.2 L712.6,1057.7 L712.9,1056.9 L713.2,1056.4 L713.5,1055.8 L713.9,1055.9 L714.2,1055.6 L714.5,1055.3 L714.9,1054.8 L715.2,1054.4 L715.5,1053.5 L715.8,1052.2 L716.2,1051.4 L716.5,1050.0 L716.8,1048.9 L717.2,1047.2 L717.5,1046.3 L717.8,1044.6 L718.1,1042.5 L718.5,1041.1 L718.8,1038.5 L719.1,1036.8 L719.5,1034.6 L719.8,1031.5 L720.1,1029.2 L720.4,1026.5 L720.8,1024.1 L721.1,1021.1 L721.4,1018.0 L721.8,1015.6 L722.1,1012.2 L722.4,1009.9 L722.7,1007.2 L723.1,1004.8 L723.4,1002.7 L723.7,1000.8 L724.1,999.2 L724.4,997.8 L724.7,996.7 L725.0,995.9 L725.4,995.4 L725.7,995.1 L726.0,995.1 L726.4,995.3 L726.7,995.7 L727.0,996.2 L727.3,996.8 L727.7,997.5 L728.0,998.1 L728.3,998.8 L728.7,999.3 L729.0,999.7 L729.3,999.8 L729.6,999.8 L730.0,999.4 L730.3,998.7 L730.6,997.7 L731.0,996.2 L731.3,994.2 L731.6,991.8 L731.9,988.8 L732.3,985.3 L732.6,981.1 L732.9,976.3 L733.3,970.8 L733.6,964.6 L733.9,957.6 L734.2,949.8 L734.6,941.2 L734.9,931.7 L735.2,921.2 L735.6,909.9 L735.9,897.5 L736.2,884.2 L736.5,869.8 L736.9,854.4 L737.2,838.0 L737.5,820.6 L737.9,802.2 L738.2,782.8 L738.5,762.6 L738.8,741.6 L739.2,719.9 L739.5,697.7 L739.8,675.0 L740.2,652.2 L740.5,629.5 L740.8,607.2 L741.1,585.5 L741.5,564.9 L741.8,545.8 L742.1,528.6 L742.5,513.8 L742.8,501.7 L743.1,492.7 L743.4,487.0 L743.8,485.0 L744.1,486.6 L744.4,491.7 L744.8,500.3 L745.1,512.1 L745.4,526.6 L745.7,543.5 L746.1,562.4 L746.4,582.8 L746.7,604.3 L747.1,626.6 L747.4,649.3 L747.7,672.1 L748.0,694.8 L748.4,717.1 L748.7,738.9 L749.0,760.0 L749.4,780.4 L749.7,799.8 L750.0,818.4 L750.3,836.0 L750.7,852.6 L751.0,868.3 L751.3,882.9 L751.7,896.5 L752.0,909.1 L752.3,920.9 L752.6,931.7 L753.0,941.6 L753.3,950.8 L753.6,959.2 L754.0,966.8 L754.3,973.8 L754.6,980.1 L754.9,985.9 L755.3,991.2 L755.6,995.9 L755.9,1000.3 L756.3,1004.2 L756.6,1007.8 L756.9,1011.2 L757.2,1014.6 L757.6,1017.0 L757.9,1019.5 L758.2,1021.5 L758.6,1023.1 L758.9,1025.0 L759.2,1026.6 L759.5,1028.4 L759.9,1030.3 L760.2,1031.9 L760.5,1033.8 L760.9,1035.1 L761.2,1035.9 L761.5,1037.5 L761.8,1038.5 L762.2,1039.3 L762.5,1040.5 L762.8,1041.4 L763.2,1041.9 L763.5,1042.7 L763.8,1043.2 L764.1,1044.5 L764.5,1044.7 L764.8,1045.9 L765.1,1045.9 L765.5,1046.1 L765.8,1047.0 L766.1,1047.3 L766.4,1048.1 L766.8,1048.3 L767.1,1049.4 L767.4,1050.1 L767.8,1050.7 L768.1,1051.4 L768.4,1052.1 L768.7,1052.4 L769.1,1052.7 L769.4,1052.3 L769.7,1052.3 L770.1,1052.8 L770.4,1053.8 L770.7,1053.8 L771.0,1054.2 L771.4,1054.0 L771.7,1054.4 L772.0,1055.3 L772.4,1055.6 L772.7,1056.1 L773.0,1055.7 L773.3,1055.7 L773.7,1055.8 L774.0,1056.6 L774.3,1056.4 L774.7,1057.3 L775.0,1057.2 L775.3,1057.8 L775.6,1057.9 L776.0,1057.9 L776.3,1058.6 L776.6,1058.5 L777.0,1058.8 L777.3,1058.4 L777.6,1059.0 L777.9,1059.6 L778.3,1059.1 L778.6,1059.6 L778.9,1059.4 L780.9,1059.9 L782.9,1060.7 L784.8,1061.6 L786.8,1062.7 L788.8,1063.5 L790.8,1064.1 L792.7,1064.2 L794.7,1064.4 L796.7,1064.1 L798.7,1064.6 L800.6,1064.8 L802.6,1064.8 L804.6,1065.4 L806.5,1065.2 L808.5,1065.0 L810.5,1064.9 L812.5,1064.9 L814.4,1065.4 L816.4,1066.0 L818.4,1065.7 L820.3,1065.9 L822.3,1066.1 L824.3,1066.3 L826.3,1066.2 L828.2,1066.4 L830.2,1065.9 L832.2,1065.7 L834.1,1066.0 L836.1,1066.0 L838.1,1066.5 L840.1,1066.3 L842.0,1066.8 L844.0,1066.5 L846.0,1066.1 L847.9,1066.2 L849.9,1066.2 L851.9,1065.9 L853.9,1065.7 L855.8,1064.2 L857.8,1062.6 L859.8,1060.2 L861.7,1057.3 L863.7,1055.5 L865.7,1056.3 L867.7,1058.5 L869.6,1060.9 L871.6,1063.0 L873.6,1064.5 L875.5,1065.6 L877.5,1065.9 L879.5,1066.7 L881.5,1066.9 L883.4,1066.9 L885.4,1067.1 L887.4,1067.7 L889.3,1067.4 L891.3,1067.1 L893.3,1067.1 L895.3,1067.2 L897.2,1067.8 L899.2,1068.0 L901.2,1067.8 L903.1,1067.5 L905.1,1067.2 L907.1,1067.1 L909.1,1067.8 L911.0,1068.0 L913.0,1067.6 L915.0,1067.9 L916.9,1067.5 L918.9,1067.7 L920.9,1067.7 L922.9,1067.4 L924.8,1068.0 L926.8,1068.3 L928.8,1068.2 L930.7,1067.9 L932.7,1068.2 L934.7,1068.1 L936.7,1068.4 L938.6,1067.9 L940.6,1068.5 L942.6,1067.9 L944.5,1067.8 L946.5,1067.9 L948.5,1067.8 L950.5,1067.6 L952.4,1068.2 L954.4,1068.8 L956.4,1068.5 L958.4,1068.3 L960.3,1068.6 L962.3,1068.3 L964.3,1068.3 L966.2,1068.6 L968.2,1068.5 L970.2,1068.2 L972.2,1067.9 L974.1,1068.3 L976.1,1069.0 L978.1,1069.3 L980.0,1068.7 L982.0,1068.7 L984.0,1068.7 L986.0,1068.4 L987.9,1068.8 L989.9,1068.8 L991.9,1069.1 L993.8,1068.8 L995.8,1069.3 L997.8,1069.5 L999.8,1069.2 L1001.7,1068.7 L1003.7,1068.8 L1005.7,1068.5 L1007.6,1068.9 L1009.6,1069.1 L1011.6,1069.2 L1013.6,1069.6 L1015.5,1068.9 L1017.5,1069.2 L1019.5,1069.5 L1021.4,1068.9 L1023.4,1068.8 L1025.4,1068.5 L1027.4,1068.8 L1029.3,1069.2 L1031.3,1069.0 L1033.3,1069.3 L1035.2,1069.1 L1037.2,1069.4 L1039.2,1069.1 L1041.2,1069.6 L1043.1,1069.4 L1045.1,1068.8 L1047.1,1068.6 L1049.0,1069.1 L1051.0,1069.5 L1053.0,1069.6 L1055.0,1069.1 L1056.9,1069.6 L1058.9,1069.7 L1060.9,1069.1 L1062.8,1069.1 L1064.8,1069.3 L1066.8,1068.8 L1068.8,1068.5 L1070.7,1068.7 L1072.7,1069.3 L1074.7,1069.8 L1076.6,1069.4 L1078.6,1069.8 L1080.6,1069.9 L1082.6,1070.0 L1084.5,1069.8 L1086.5,1070.0 L1088.5,1069.8 L1090.4,1070.0 L1092.4,1069.7 L1094.4,1069.1 L1096.4,1069.1 L1098.3,1069.0 L1100.3,1068.8 L1102.3,1068.6 L1104.2,1068.6 L1106.2,1068.7 L1108.2,1068.3 L1110.2,1068.0 L1112.1,1068.0 L1114.1,1068.0 L1116.1,1067.7 L1118.1,1067.6 L1120.0,1066.9 L1122.0,1066.6 L1124.0,1065.8 L1125.9,1065.3 L1127.9,1064.3 L1129.9,1062.9 L1131.9,1060.6 L1133.8,1057.5 L1135.8,1054.7 L1137.8,1050.6 L1139.7,1045.9 L1141.7,1041.0 L1143.7,1036.7 L1145.7,1033.8 L1147.6,1032.8 L1149.6,1033.6 L1151.6,1036.8 L1153.5,1040.5 L1155.5,1045.2 L1157.5,1049.6 L1159.5,1053.6 L1161.4,1057.0 L1163.4,1060.2 L1165.4,1062.7 L1167.3,1064.0 L1169.3,1065.1 L1171.3,1066.5 L1173.3,1067.3 L1175.2,1067.9 L1177.2,1068.4 L1179.2,1068.8 L1181.1,1068.7 L1183.1,1068.4 L1185.1,1068.7 L1187.1,1068.5 L1189.0,1069.5 L1191.0,1069.6 L1193.0,1069.9 L1194.9,1070.4 L1196.9,1070.6 L1198.9,1070.1 L1200.9,1069.9 L1202.8,1069.6 L1204.8,1070.2 L1206.8,1070.4 L1208.7,1070.3 L1210.7,1070.2 L1212.7,1070.0 L1214.7,1070.1 L1216.6,1070.4 L1218.6,1070.8 L1220.6,1071.0 L1222.5,1071.1 L1224.5,1070.8 L1226.5,1070.6 L1228.5,1070.3 L1230.4,1070.9 L1232.4,1070.4 L1234.4,1070.0 L1236.3,1070.0 L1238.3,1070.6 L1240.3,1070.9 L1242.3,1070.6 L1244.2,1070.9 L1246.2,1071.1 L1248.2,1070.8 L1250.1,1070.4 L1252.1,1070.7 L1254.1,1070.5 L1256.1,1070.1 L1258.0,1070.7 L1260.0,1070.5 L1262.0,1070.4 L1263.9,1070.5 L1265.9,1070.3 L1267.9,1069.8 L1269.9,1070.0 L1271.8,1070.0 L1273.8,1069.7 L1275.8,1069.9 L1277.7,1070.4 L1279.7,1070.2 L1281.7,1070.5 L1283.7,1070.6 L1285.6,1070.2 L1287.6,1069.8 L1289.6,1070.2 L1291.6,1070.4 L1293.5,1070.2 L1295.5,1070.0 L1297.5,1070.5 L1299.4,1070.9 L1301.4,1070.4 L1303.4,1070.5 L1305.4,1070.5 L1307.3,1070.3 L1309.3,1069.8 L1311.3,1069.8 L1313.2,1070.2 L1315.2,1070.3 L1317.2,1070.3 L1319.2,1069.9 L1321.1,1069.7 L1323.1,1069.7 L1325.1,1069.8 L1327.0,1069.8 L1329.0,1070.4 L1331.0,1069.8 L1333.0,1070.4 L1334.9,1069.9 L1336.9,1070.1 L1338.9,1069.5 L1340.8,1069.2 L1342.8,1068.5 L1344.8,1067.3 L1346.8,1066.8 L1348.7,1066.0 L1350.7,1064.5 L1352.7,1063.9 L1354.6,1063.4 L1356.6,1064.1 L1358.6,1064.2 L1360.6,1065.2 L1362.5,1066.2 L1364.5,1067.5 L1366.5,1068.6 L1368.4,1069.5 L1370.4,1069.7 L1372.4,1069.7 L1374.4,1070.1 L1376.3,1069.7 L1378.3,1069.5 L1380.3,1070.0 L1382.2,1069.9 L1384.2,1070.4 L1386.2,1069.8 L1388.2,1069.8 L1390.1,1069.6 L1392.1,1069.2 L1394.1,1069.1 L1396.0,1069.0 L1398.0,1069.2 L1400.0,1069.4 L1402.0,1069.6 L1403.9,1069.5 L1405.9,1069.8 L1407.9,1069.8 L1409.8,1070.3 L1411.8,1069.8 L1413.8,1069.8 L1415.8,1069.7 L1417.7,1069.6 L1419.7,1070.0 L1421.7,1069.6 L1423.6,1070.0 L1425.6,1069.7 L1427.6,1069.5 L1429.6,1069.6 L1431.5,1069.6 L1433.5,1069.3 L1435.5,1068.9 L1437.4,1069.6 L1439.4,1069.3 L1441.4,1068.9 L1443.4,1069.2 L1445.3,1069.2 L1447.3,1069.0 L1449.3,1068.8 L1451.3,1069.2 L1453.2,1068.9 L1455.2,1068.8 L1457.2,1069.2 L1459.1,1068.8 L1461.1,1068.6 L1463.1,1068.2 L1465.1,1068.4 L1467.0,1068.4 L1469.0,1068.2 L1471.0,1067.9 L1472.9,1067.5 L1474.9,1067.7 L1476.9,1067.4 L1478.9,1067.4 L1480.8,1066.8 L1482.8,1066.7 L1484.8,1065.6 L1486.7,1064.9 L1488.7,1064.9 L1490.7,1064.2 L1492.7,1063.2 L1494.6,1061.6 L1496.6,1059.5 L1498.6,1056.7 L1500.5,1053.3 L1502.5,1049.6 L1504.5,1045.0 L1506.5,1038.9 L1508.4,1032.5 L1510.4,1025.1 L1512.4,1018.2 L1514.3,1011.6 L1516.3,1007.6 L1518.3,1006.0 L1520.3,1007.6 L1522.2,1011.5 L1524.2,1018.0 L1526.2,1025.3 L1528.1,1032.0 L1530.1,1038.5 L1532.1,1044.7 L1534.1,1049.6 L1536.0,1053.7 L1538.0,1057.2 L1540.0,1059.6 L1541.9,1061.0 L1543.9,1062.5 L1545.9,1064.0 L1547.9,1064.7 L1549.8,1065.6 L1551.8,1065.8 L1553.8,1066.1 L1555.7,1066.9 L1557.7,1067.4 L1559.7,1067.5 L1561.7,1067.1 L1563.6,1067.5 L1565.6,1067.1 L1567.6,1067.9 L1569.5,1068.5 L1571.5,1068.6 L1573.5,1068.2 L1575.5,1068.6 L1577.4,1068.2 L1579.4,1068.6 L1581.4,1068.6 L1583.3,1068.1 L1585.3,1068.7 L1587.3,1068.6 L1589.3,1069.0 L1591.2,1069.0 L1593.2,1068.9 L1595.2,1069.2 L1597.1,1068.7 L1599.1,1069.2 L1601.1,1068.9 L1603.1,1068.3 L1605.0,1068.4 L1607.0,1068.1 L1609.0,1068.0 L1611.0,1068.5 L1612.9,1068.2 L1614.9,1068.1 L1616.9,1068.2 L1618.8,1068.3 L1620.8,1069.0 L1622.8,1069.4 L1624.8,1069.6 L1626.7,1069.8 L1628.7,1069.4 L1630.7,1069.5 L1632.6,1069.0 L1634.6,1069.4 L1636.6,1069.5 L1638.6,1069.5 L1640.5,1069.0 L1642.5,1068.5 L1644.5,1069.1 L1646.4,1069.1 L1648.4,1069.1 L1650.4,1069.4 L1652.4,1068.8 L1654.3,1069.0 L1656.3,1068.9 L1658.3,1069.2 L1660.2,1069.0 L1662.2,1068.6 L1664.2,1069.1 L1666.2,1068.8 L1668.1,1069.0 L1670.1,1069.2 L1672.1,1068.7 L1674.0,1068.9 L1676.0,1068.7 L1678.0,1068.4 L1680.0,1068.1 L1681.9,1068.7 L1683.9,1068.4 L1685.9,1068.3 L1687.8,1068.2 L1689.8,1067.4 L1691.8,1067.6 L1693.8,1067.4 L1695.7,1067.2 L1697.7,1066.1 L1699.7,1065.0 L1701.6,1064.1 L1703.6,1063.6 L1705.6,1062.9 L1707.6,1062.1 L1709.5,1061.8 L1711.5,1061.4 L1713.5,1062.3 L1715.4,1062.8 L1717.4,1063.5 L1719.4,1064.6 L1721.4,1065.0 L1723.3,1066.0 L1725.3,1066.5 L1727.3,1067.3 L1729.2,1067.2 L1731.2,1067.4 L1733.2,1067.9 L1735.2,1068.0 L1737.1,1068.0 L1739.1,1068.2 L1741.1,1068.0 L1743.0,1068.1 L1745.0,1067.7 L1747.0,1068.3 L1749.0,1068.1 L1750.9,1068.5 L1752.9,1068.5 L1754.9,1068.6 L1756.8,1068.6 L1758.8,1068.1 L1760.8,1068.5 L1762.8,1068.2 L1764.7,1068.7 L1766.7,1068.8 L1768.7,1068.8 L1770.6,1069.0 L1772.6,1068.6 L1774.6,1068.7 L1776.6,1069.0 L1778.5,1068.4 L1780.5,1068.0 L1782.5,1068.0 L1784.5,1068.1 L1786.4,1067.8 L1788.4,1067.7 L1790.4,1068.3 L1792.3,1068.2 L1794.3,1067.8 L1796.3,1067.7 L1798.3,1068.0 L1800.2,1067.7 L1802.2,1067.9 L1804.2,1068.1 L1806.1,1068.0 L1808.1,1068.1 L1810.1,1068.5 L1812.1,1067.8 L1814.0,1068.4 L1816.0,1068.0 L1818.0,1067.6 L1819.9,1068.1 L1821.9,1068.1 L1823.9,1068.2 L1825.9,1067.8 L1827.8,1068.2 L1829.8,1067.9 L1831.8,1068.2 L1833.7,1067.9 L1835.7,1068.0 L1837.7,1068.2 L1839.7,1068.0 L1841.6,1068.0 L1843.6,1067.5 L1845.6,1067.8 L1847.5,1068.1 L1849.5,1067.7 L1851.5,1067.8 L1853.5,1068.1" stroke="#949458" />
<circle cx="726.8" cy="995.8" r="3.4" fill="#949458"/>
<path d="M376.4,947.5 L378.4,948.0 L380.3,948.3 L382.3,947.6 L384.3,947.4 L386.3,947.1 L388.2,947.1 L390.2,946.9 L392.2,947.2 L394.1,947.1 L396.1,947.1 L398.1,947.3 L400.1,947.3 L402.0,947.7 L404.0,947.8 L406.0,947.3 L407.9,947.1 L409.9,946.7 L411.9,946.8 L413.9,946.6 L415.8,947.1 L417.8,947.5 L419.8,948.0 L421.7,947.4 L423.7,946.9 L425.7,947.3 L427.7,947.2 L429.6,947.6 L431.6,947.3 L433.6,947.1 L435.5,946.6 L437.5,947.3 L439.5,947.2 L441.5,947.1 L443.4,947.0 L445.4,947.3 L447.4,947.5 L449.3,947.2 L451.3,946.8 L453.3,946.7 L455.3,947.2 L457.2,946.9 L459.2,947.1 L461.2,947.0 L463.2,946.9 L465.1,946.9 L467.1,946.6 L469.1,946.7 L471.0,947.0 L473.0,946.4 L475.0,946.4 L477.0,946.8 L478.9,947.2 L480.9,946.4 L482.9,946.6 L484.8,946.7 L486.8,946.9 L488.8,946.7 L490.8,946.2 L492.7,946.0 L494.7,946.4 L496.7,946.6 L498.6,946.2 L500.6,946.3 L502.6,946.5 L504.6,946.5 L506.5,945.9 L508.5,945.9 L510.5,945.8 L512.4,946.0 L514.4,945.9 L516.4,945.5 L518.4,945.9 L520.3,945.7 L522.3,946.1 L524.3,945.8 L526.2,945.9 L528.2,946.2 L530.2,945.7 L532.2,946.0 L534.1,945.4 L536.1,946.0 L538.1,945.4 L540.0,945.7 L542.0,945.6 L544.0,945.3 L546.0,945.3 L547.9,945.5 L549.9,945.4 L551.9,945.1 L553.8,945.3 L555.8,945.2 L557.8,945.8 L559.8,945.6 L561.7,945.5 L563.7,945.2 L565.7,945.8 L567.6,945.5 L569.6,945.6 L571.6,945.9 L573.6,945.6 L575.5,945.8 L577.5,945.4 L579.5,945.0 L581.4,944.6 L583.4,944.9 L585.4,945.4 L587.4,945.1 L589.3,945.1 L591.3,945.4 L593.3,945.1 L595.2,944.8 L597.2,945.0 L599.2,945.0 L601.2,945.5 L603.1,945.7 L605.1,945.2 L607.1,945.2 L609.0,945.0 L611.0,944.5 L613.0,944.6 L615.0,945.2 L616.9,944.9 L618.9,944.9 L620.9,945.1 L622.8,944.5 L624.8,945.1 L626.8,944.5 L628.8,944.4 L630.7,944.7 L632.7,944.1 L634.7,944.2 L636.7,943.9 L638.6,944.1 L640.6,943.7 L642.6,943.6 L644.5,943.6 L646.5,943.4 L648.5,943.3 L650.5,943.3 L652.4,943.6 L654.4,943.3 L656.4,943.9 L658.3,943.7 L660.3,943.5 L662.3,943.2 L664.3,943.7 L666.2,943.1 L668.2,943.4 L670.2,942.8 L672.1,943.3 L674.1,943.0 L676.1,943.0 L678.1,943.1 L680.0,942.4 L682.0,941.8 L684.0,942.0 L685.9,941.9 L687.9,941.8 L689.9,941.2 L691.9,940.9 L693.8,940.2 L695.8,939.9 L697.8,939.3 L699.7,939.1 L701.7,938.3 L703.7,937.5 L705.7,937.0 L706.0,936.4 L706.3,936.8 L706.6,936.6 L707.0,936.2 L707.3,935.7 L707.6,935.8 L708.0,935.7 L708.3,935.8 L708.6,935.4 L708.9,935.1 L709.3,935.4 L709.6,934.8 L709.9,935.0 L710.3,934.9 L710.6,934.8 L710.9,934.6 L711.2,933.5 L711.6,933.3 L711.9,932.7 L712.2,931.7 L712.6,931.6 L712.9,930.9 L713.2,930.2 L713.5,929.2 L713.9,927.6 L714.2,926.9 L714.5,925.2 L714.9,923.7 L715.2,922.4 L715.5,920.5 L715.8,918.7 L716.2,917.1 L716.5,914.5 L716.8,912.5 L717.2,909.6 L717.5,907.2 L717.8,904.8 L718.1,902.3 L718.5,898.9 L718.8,895.9 L719.1,893.8 L719.5,890.9 L719.8,888.1 L720.1,885.5 L720.4,883.3 L720.8,881.1 L721.1,879.1 L721.4,877.4 L721.8,875.9 L722.1,874.7 L722.4,873.7 L722.7,873.1 L723.1,872.7 L723.4,872.6 L723.7,872.7 L724.1,873.0 L724.4,873.4 L724.7,874.0 L725.0,874.6 L725.4,875.2 L725.7,875.9 L726.0,876.4 L726.4,876.8 L726.7,877.1 L727.0,877.1 L727.3,876.8 L727.7,876.2 L728.0,875.3 L728.3,873.9 L728.7,872.1 L729.0,869.8 L729.3,867.0 L729.6,863.7 L730.0,859.7 L730.3,855.1 L730.6,849.8 L731.0,843.8 L731.3,837.1 L731.6,829.6 L731.9,821.2 L732.3,812.0 L732.6,801.8 L732.9,790.7 L733.3,778.7 L733.6,765.6 L733.9,751.5 L734.2,736.4 L734.6,720.3 L734.9,703.1 L735.2,685.0 L735.6,665.9 L735.9,645.8 L736.2,624.9 L736.5,603.3 L736.9,581.1 L737.2,558.5 L737.5,535.5 L737.9,512.6 L738.2,489.9 L738.5,467.7 L738.8,446.5 L739.2,426.6 L739.5,408.5 L739.8,392.6 L740.2,379.2 L740.5,368.9 L740.8,361.8 L741.1,358.4 L741.5,358.5 L741.8,362.3 L742.1,369.6 L742.5,380.3 L742.8,393.8 L743.1,410.0 L743.4,428.3 L743.8,448.3 L744.1,469.6 L744.4,491.8 L744.8,514.6 L745.1,537.5 L745.4,560.4 L745.7,583.1 L746.1,605.3 L746.4,626.8 L746.7,647.7 L747.1,667.6 L747.4,686.7 L747.7,704.9 L748.0,722.0 L748.4,738.1 L748.7,753.2 L749.0,767.3 L749.4,780.5 L749.7,792.7 L750.0,803.9 L750.3,814.3 L750.7,823.8 L751.0,832.5 L751.3,840.5 L751.7,847.8 L752.0,854.5 L752.3,860.5 L752.6,866.0 L753.0,871.0 L753.3,875.5 L753.6,879.7 L754.0,883.4 L754.3,886.7 L754.6,890.1 L754.9,893.3 L755.3,895.3 L755.6,897.3 L755.9,899.7 L756.3,901.6 L756.6,904.1 L756.9,906.2 L757.2,907.5 L757.6,909.1 L757.9,910.5 L758.2,911.2 L758.6,913.0 L758.9,913.6 L759.2,914.3 L759.5,915.5 L759.9,916.1 L760.2,917.3 L760.5,918.2 L760.9,919.7 L761.2,920.3 L761.5,921.4 L761.8,922.2 L762.2,922.8 L762.5,923.0 L762.8,923.5 L763.2,924.1 L763.5,924.7 L763.8,925.5 L764.1,926.0 L764.5,926.3 L764.8,927.0 L765.1,928.0 L765.5,927.9 L765.8,928.2 L766.1,928.2 L766.4,928.4 L766.8,928.6 L767.1,929.3 L767.4,930.3 L767.8,930.9 L768.1,931.6 L768.4,932.1 L768.7,932.2 L769.1,932.4 L769.4,932.0 L769.7,932.3 L770.1,932.4 L770.4,933.0 L770.7,932.8 L771.0,933.3 L771.4,933.6 L771.7,933.9 L772.0,934.1 L772.4,934.0 L772.7,934.7 L773.0,935.2 L773.3,935.4 L773.7,935.1 L774.0,935.5 L774.3,936.1 L774.7,936.7 L775.0,936.8 L775.3,936.2 L775.6,936.8 L776.0,937.0 L776.3,936.8 L776.6,937.4 L777.0,937.7 L777.3,938.0 L777.6,937.6 L777.9,937.7 L778.3,937.6 L778.6,937.5 L778.9,938.0 L780.9,938.8 L782.9,939.1 L784.8,939.7 L786.8,940.6 L788.8,940.9 L790.8,941.6 L792.7,941.7 L794.7,942.3 L796.7,941.8 L798.7,942.0 L800.6,942.3 L802.6,942.7 L804.6,943.2 L806.5,943.3 L808.5,943.2 L810.5,943.3 L812.5,943.4 L814.4,943.6 L816.4,944.0 L818.4,943.3 L820.3,943.3 L822.3,943.8 L824.3,943.3 L826.3,943.8 L828.2,943.4 L830.2,943.7 L832.2,944.1 L834.1,943.8 L836.1,943.7 L838.1,943.6 L840.1,944.0 L842.0,944.0 L844.0,944.1 L846.0,943.9 L847.9,944.0 L849.9,944.3 L851.9,944.1 L853.9,943.7 L855.8,941.9 L857.8,939.8 L859.8,936.9 L861.7,933.8 L863.7,932.4 L865.7,932.4 L867.7,934.9 L869.6,938.2 L871.6,941.2 L873.6,942.3 L875.5,943.1 L877.5,943.8 L879.5,944.5 L881.5,944.2 L883.4,944.7 L885.4,944.6 L887.4,944.6 L889.3,945.1 L891.3,944.5 L893.3,944.4 L895.3,944.2 L897.2,944.0 L899.2,944.1 L901.2,944.6 L903.1,944.8 L905.1,944.4 L907.1,944.9 L909.1,944.9 L911.0,944.5 L913.0,945.0 L915.0,945.3 L916.9,944.8 L918.9,945.3 L920.9,945.5 L922.9,945.0 L924.8,944.4 L926.8,945.0 L928.8,945.3 L930.7,944.8 L932.7,945.1 L934.7,945.3 L936.7,945.3 L938.6,945.5 L940.6,945.8 L942.6,945.3 L944.5,945.5 L946.5,945.8 L948.5,945.3 L950.5,945.4 L952.4,945.4 L954.4,945.6 L956.4,945.5 L958.4,945.1 L960.3,944.8 L962.3,944.9 L964.3,944.6 L966.2,945.2 L968.2,945.5 L970.2,945.1 L972.2,945.3 L974.1,945.4 L976.1,944.8 L978.1,945.2 L980.0,945.4 L982.0,945.1 L984.0,944.7 L986.0,944.6 L987.9,945.1 L989.9,945.0 L991.9,945.4 L993.8,944.9 L995.8,944.6 L997.8,944.6 L999.8,945.2 L1001.7,944.8 L1003.7,944.5 L1005.7,945.0 L1007.6,944.6 L1009.6,945.0 L1011.6,944.6 L1013.6,944.5 L1015.5,944.9 L1017.5,945.4 L1019.5,945.1 L1021.4,945.1 L1023.4,944.6 L1025.4,944.6 L1027.4,944.5 L1029.3,945.0 L1031.3,945.3 L1033.3,945.5 L1035.2,945.3 L1037.2,945.4 L1039.2,944.9 L1041.2,944.8 L1043.1,944.7 L1045.1,944.6 L1047.1,945.0 L1049.0,944.7 L1051.0,944.6 L1053.0,944.5 L1055.0,945.1 L1056.9,945.2 L1058.9,945.1 L1060.9,944.9 L1062.8,945.3 L1064.8,945.6 L1066.8,945.3 L1068.8,945.2 L1070.7,945.4 L1072.7,944.9 L1074.7,944.6 L1076.6,944.3 L1078.6,944.5 L1080.6,944.8 L1082.6,944.4 L1084.5,944.4 L1086.5,945.0 L1088.5,944.8 L1090.4,944.5 L1092.4,944.9 L1094.4,945.1 L1096.4,944.6 L1098.3,944.1 L1100.3,944.2 L1102.3,944.4 L1104.2,944.6 L1106.2,944.4 L1108.2,943.9 L1110.2,943.7 L1112.1,943.3 L1114.1,943.1 L1116.1,942.9 L1118.1,943.0 L1120.0,942.9 L1122.0,942.6 L1124.0,941.6 L1125.9,940.9 L1127.9,939.0 L1129.9,937.8 L1131.9,935.5 L1133.8,933.0 L1135.8,929.2 L1137.8,925.5 L1139.7,920.2 L1141.7,915.8 L1143.7,911.6 L1145.7,907.9 L1147.6,906.8 L1149.6,907.3 L1151.6,910.6 L1153.5,914.8 L1155.5,919.4 L1157.5,923.8 L1159.5,928.4 L1161.4,932.1 L1163.4,934.5 L1165.4,937.3 L1167.3,938.6 L1169.3,939.9 L1171.3,940.8 L1173.3,941.7 L1175.2,942.6 L1177.2,943.4 L1179.2,943.5 L1181.1,943.5 L1183.1,943.2 L1185.1,943.0 L1187.1,943.5 L1189.0,943.8 L1191.0,944.0 L1193.0,944.6 L1194.9,944.4 L1196.9,944.3 L1198.9,944.3 L1200.9,944.1 L1202.8,944.8 L1204.8,944.8 L1206.8,944.8 L1208.7,944.7 L1210.7,944.5 L1212.7,944.4 L1214.7,944.6 L1216.6,944.7 L1218.6,945.3 L1220.6,945.2 L1222.5,944.8 L1224.5,944.4 L1226.5,944.3 L1228.5,944.4 L1230.4,944.9 L1232.4,945.4 L1234.4,945.0 L1236.3,945.3 L1238.3,945.1 L1240.3,945.2 L1242.3,945.2 L1244.2,944.7 L1246.2,944.4 L1248.2,944.8 L1250.1,945.1 L1252.1,945.0 L1254.1,945.5 L1256.1,945.7 L1258.0,945.3 L1260.0,944.8 L1262.0,945.0 L1263.9,945.2 L1265.9,944.9 L1267.9,944.5 L1269.9,944.8 L1271.8,944.4 L1273.8,945.0 L1275.8,945.2 L1277.7,944.9 L1279.7,945.0 L1281.7,944.8 L1283.7,944.6 L1285.6,944.5 L1287.6,945.1 L1289.6,945.1 L1291.6,945.3 L1293.5,945.1 L1295.5,945.4 L1297.5,945.4 L1299.4,945.5 L1301.4,945.2 L1303.4,945.3 L1305.4,944.9 L1307.3,945.5 L1309.3,945.5 L1311.3,945.4 L1313.2,945.4 L1315.2,944.9 L1317.2,944.8 L1319.2,944.6 L1321.1,945.2 L1323.1,944.6 L1325.1,944.7 L1327.0,945.2 L1329.0,945.4 L1331.0,945.4 L1333.0,945.0 L1334.9,944.6 L1336.9,944.8 L1338.9,944.4 L1340.8,944.3 L1342.8,943.6 L1344.8,943.2 L1346.8,942.4 L1348.7,941.6 L1350.7,941.0 L1352.7,939.8 L1354.6,939.8 L1356.6,939.3 L1358.6,940.4 L1360.6,940.7 L1362.5,941.8 L1364.5,942.7 L1366.5,943.7 L1368.4,944.0 L1370.4,944.0 L1372.4,944.7 L1374.4,944.8 L1376.3,945.1 L1378.3,945.0 L1380.3,944.5 L1382.2,944.9 L1384.2,944.6 L1386.2,944.7 L1388.2,944.3 L1390.1,944.3 L1392.1,944.7 L1394.1,945.1 L1396.0,945.1 L1398.0,945.0 L1400.0,945.2 L1402.0,945.2 L1403.9,944.8 L1405.9,944.8 L1407.9,944.9 L1409.8,945.1 L1411.8,944.7 L1413.8,944.5 L1415.8,944.5 L1417.7,944.1 L1419.7,944.2 L1421.7,944.6 L1423.6,944.7 L1425.6,944.4 L1427.6,944.7 L1429.6,944.3 L1431.5,944.6 L1433.5,944.2 L1435.5,943.9 L1437.4,943.9 L1439.4,944.1 L1441.4,944.0 L1443.4,944.5 L1445.3,944.9 L1447.3,944.4 L1449.3,944.5 L1451.3,944.5 L1453.2,944.4 L1455.2,943.9 L1457.2,944.3 L1459.1,944.6 L1461.1,943.7 L1463.1,943.4 L1465.1,943.2 L1467.0,942.9 L1469.0,942.9 L1471.0,943.3 L1472.9,942.5 L1474.9,942.8 L1476.9,942.3 L1478.9,941.6 L1480.8,941.9 L1482.8,941.3 L1484.8,940.6 L1486.7,939.8 L1488.7,939.3 L1490.7,938.2 L1492.7,937.0 L1494.6,935.6 L1496.6,934.0 L1498.6,931.5 L1500.5,928.1 L1502.5,924.2 L1504.5,919.5 L1506.5,913.7 L1508.4,906.6 L1510.4,899.7 L1512.4,892.5 L1514.3,885.9 L1516.3,880.9 L1518.3,879.3 L1520.3,880.9 L1522.2,885.6 L1524.2,892.2 L1526.2,899.0 L1528.1,906.8 L1530.1,913.9 L1532.1,919.1 L1534.1,924.4 L1536.0,928.2 L1538.0,931.6 L1540.0,934.6 L1541.9,936.3 L1543.9,937.7 L1545.9,939.0 L1547.9,939.5 L1549.8,940.4 L1551.8,940.9 L1553.8,941.8 L1555.7,941.7 L1557.7,942.2 L1559.7,942.0 L1561.7,942.1 L1563.6,942.1 L1565.6,942.2 L1567.6,942.7 L1569.5,942.6 L1571.5,943.3 L1573.5,943.0 L1575.5,943.4 L1577.4,943.9 L1579.4,943.5 L1581.4,943.4 L1583.3,943.9 L1585.3,943.9 L1587.3,944.4 L1589.3,944.1 L1591.2,944.0 L1593.2,944.6 L1595.2,944.3 L1597.1,944.8 L1599.1,945.0 L1601.1,944.4 L1603.1,944.4 L1605.0,944.9 L1607.0,944.3 L1609.0,944.7 L1611.0,944.9 L1612.9,945.0 L1614.9,944.9 L1616.9,944.3 L1618.8,944.8 L1620.8,944.3 L1622.8,944.7 L1624.8,944.8 L1626.7,944.5 L1628.7,944.7 L1630.7,944.5 L1632.6,944.8 L1634.6,944.2 L1636.6,944.8 L1638.6,944.6 L1640.5,944.9 L1642.5,944.7 L1644.5,945.0 L1646.4,944.6 L1648.4,944.6 L1650.4,944.1 L1652.4,944.3 L1654.3,943.9 L1656.3,944.5 L1658.3,944.7 L1660.2,944.6 L1662.2,945.0 L1664.2,945.3 L1666.2,945.4 L1668.1,944.6 L1670.1,944.8 L1672.1,944.9 L1674.0,944.8 L1676.0,944.1 L1678.0,944.7 L1680.0,944.4 L1681.9,944.5 L1683.9,944.6 L1685.9,944.1 L1687.8,943.5 L1689.8,943.9 L1691.8,943.3 L1693.8,942.4 L1695.7,941.7 L1697.7,941.9 L1699.7,941.3 L1701.6,940.1 L1703.6,938.9 L1705.6,938.7 L1707.6,938.2 L1709.5,937.9 L1711.5,937.4 L1713.5,937.7 L1715.4,938.9 L1717.4,939.0 L1719.4,939.9 L1721.4,940.4 L1723.3,941.9 L1725.3,942.1 L1727.3,943.2 L1729.2,943.9 L1731.2,944.2 L1733.2,943.7 L1735.2,944.2 L1737.1,944.2 L1739.1,944.2 L1741.1,943.9 L1743.0,944.1 L1745.0,944.5 L1747.0,944.1 L1749.0,944.6 L1750.9,944.4 L1752.9,944.2 L1754.9,944.0 L1756.8,944.1 L1758.8,944.4 L1760.8,944.4 L1762.8,944.8 L1764.7,944.7 L1766.7,944.6 L1768.7,945.0 L1770.6,944.5 L1772.6,943.9 L1774.6,943.9 L1776.6,943.9 L1778.5,943.7 L1780.5,943.9 L1782.5,943.6 L1784.5,944.4 L1786.4,944.3 L1788.4,944.7 L1790.4,944.8 L1792.3,944.9 L1794.3,944.9 L1796.3,944.5 L1798.3,944.7 L1800.2,944.2 L1802.2,944.3 L1804.2,944.4 L1806.1,944.7 L1808.1,944.2 L1810.1,944.1 L1812.1,944.5 L1814.0,944.8 L1816.0,945.1 L1818.0,944.4 L1819.9,944.0 L1821.9,943.7 L1823.9,944.2 L1825.9,944.5 L1827.8,944.6 L1829.8,944.7 L1831.8,944.6 L1833.7,944.5 L1835.7,944.9 L1837.7,944.8 L1839.7,944.7 L1841.6,944.6 L1843.6,944.5 L1845.6,944.6 L1847.5,944.6 L1849.5,944.0 L1851.5,944.0 L1853.5,944.0" stroke="#44406e" />
<circle cx="724.3" cy="873.3" r="3.4" fill="#44406e"/>
<path d="M376.4,833.8 L378.4,833.8 L380.3,833.6 L382.3,833.4 L384.3,833.3 L386.3,833.2 L388.2,833.7 L390.2,833.0 L392.2,832.5 L394.1,832.9 L396.1,832.7 L398.1,832.7 L400.1,832.7 L402.0,832.5 L404.0,832.2 L406.0,831.7 L407.9,832.3 L409.9,832.7 L411.9,832.2 L413.9,832.1 L415.8,831.8 L417.8,831.3 L419.8,831.8 L421.7,832.1 L423.7,831.5 L425.7,831.2 L427.7,831.4 L429.6,831.6 L431.6,831.4 L433.6,831.1 L435.5,830.7 L437.5,831.0 L439.5,831.3 L441.5,831.4 L443.4,830.6 L445.4,830.6 L447.4,831.0 L449.3,830.9 L451.3,830.5 L453.3,829.9 L455.3,829.4 L457.2,829.8 L459.2,829.3 L461.2,829.7 L463.2,829.8 L465.1,829.6 L467.1,829.9 L469.1,830.1 L471.0,829.8 L473.0,829.1 L475.0,829.1 L477.0,828.9 L478.9,828.5 L480.9,829.0 L482.9,829.0 L484.8,828.4 L486.8,828.1 L488.8,828.0 L490.8,828.1 L492.7,827.9 L494.7,827.8 L496.7,828.1 L498.6,827.6 L500.6,827.9 L502.6,827.5 L504.6,827.9 L506.5,828.2 L508.5,827.6 L510.5,827.5 L512.4,826.9 L514.4,826.8 L516.4,826.9 L518.4,827.0 L520.3,826.7 L522.3,826.1 L524.3,825.8 L526.2,826.1 L528.2,825.8 L530.2,825.7 L532.2,826.0 L534.1,826.4 L536.1,826.2 L538.1,825.7 L540.0,825.8 L542.0,825.4 L544.0,825.7 L546.0,825.2 L547.9,824.9 L549.9,824.9 L551.9,825.3 L553.8,824.8 L555.8,824.4 L557.8,824.1 L559.8,824.0 L561.7,823.9 L563.7,824.0 L565.7,824.3 L567.6,824.1 L569.6,824.0 L571.6,823.8 L573.6,824.0 L575.5,824.3 L577.5,823.9 L579.5,824.1 L581.4,823.5 L583.4,823.8 L585.4,823.5 L587.4,823.5 L589.3,823.1 L591.3,822.7 L593.3,822.2 L595.2,822.7 L597.2,822.4 L599.2,822.5 L601.2,822.3 L603.1,822.2 L605.1,821.7 L607.1,821.4 L609.0,821.3 L611.0,821.5 L613.0,821.5 L615.0,820.8 L616.9,821.1 L618.9,821.0 L620.9,820.5 L622.8,820.3 L624.8,820.1 L626.8,820.5 L628.8,820.5 L630.7,820.2 L632.7,819.8 L634.7,819.6 L636.7,819.4 L638.6,819.3 L640.6,819.7 L642.6,819.8 L644.5,819.7 L646.5,819.8 L648.5,819.6 L650.5,818.8 L652.4,818.2 L654.4,817.9 L656.4,817.7 L658.3,817.8 L660.3,818.1 L662.3,818.0 L664.3,817.7 L666.2,817.2 L668.2,817.6 L670.2,817.5 L672.1,816.9 L674.1,816.3 L676.1,816.9 L678.1,816.4 L680.0,816.6 L682.0,816.0 L684.0,816.0 L685.9,815.7 L687.9,815.9 L689.9,815.3 L691.9,814.7 L693.8,814.2 L695.8,814.4 L697.8,814.5 L699.7,814.0 L701.7,813.5 L703.7,812.4 L705.7,811.5 L706.0,811.0 L706.3,811.6 L706.6,810.9 L707.0,811.0 L707.3,810.8 L707.6,810.4 L708.0,810.3 L708.3,810.8 L708.6,810.2 L708.9,809.8 L709.3,809.9 L709.6,809.9 L709.9,809.7 L710.3,809.1 L710.6,809.4 L710.9,808.7 L711.2,808.2 L711.6,807.9 L711.9,807.8 L712.2,807.6 L712.6,807.5 L712.9,807.3 L713.2,807.3 L713.5,806.6 L713.9,805.5 L714.2,805.4 L714.5,804.2 L714.9,803.5 L715.2,802.5 L715.5,802.0 L715.8,801.4 L716.2,799.9 L716.5,798.6 L716.8,797.8 L717.2,796.5 L717.5,794.4 L717.8,793.0 L718.1,791.5 L718.5,789.3 L718.8,786.8 L719.1,785.0 L719.5,782.6 L719.8,780.0 L720.1,777.6 L720.4,775.4 L720.8,772.9 L721.1,770.8 L721.4,768.9 L721.8,767.0 L722.1,765.0 L722.4,763.5 L722.7,761.4 L723.1,759.9 L723.4,759.0 L723.7,757.9 L724.1,757.1 L724.4,756.5 L724.7,756.0 L725.0,755.7 L725.4,755.6 L725.7,755.6 L726.0,755.7 L726.4,755.8 L726.7,756.0 L727.0,756.1 L727.3,756.2 L727.7,756.1 L728.0,755.9 L728.3,755.5 L728.7,754.9 L729.0,754.0 L729.3,752.8 L729.6,751.2 L730.0,749.2 L730.3,746.8 L730.6,743.9 L731.0,740.5 L731.3,736.5 L731.6,732.0 L731.9,726.8 L732.3,720.9 L732.6,714.3 L732.9,707.0 L733.3,698.8 L733.6,689.8 L733.9,680.0 L734.2,669.2 L734.6,657.4 L734.9,644.6 L735.2,630.9 L735.6,616.1 L735.9,600.2 L736.2,583.3 L736.5,565.4 L736.9,546.5 L737.2,526.6 L737.5,505.8 L737.9,484.2 L738.2,461.9 L738.5,439.1 L738.8,415.9 L739.2,392.5 L739.5,369.2 L739.8,346.3 L740.2,324.1 L740.5,303.1 L740.8,283.6 L741.1,266.0 L741.5,250.9 L741.8,238.6 L742.1,229.5 L742.5,223.9 L742.8,222.0 L743.1,223.8 L743.4,229.2 L743.8,238.2 L744.1,250.4 L744.4,265.4 L744.8,282.8 L745.1,302.3 L745.4,323.3 L745.7,345.4 L746.1,368.3 L746.4,391.6 L746.7,415.0 L747.1,438.2 L747.4,461.1 L747.7,483.4 L748.0,505.1 L748.4,525.9 L748.7,545.9 L749.0,564.9 L749.4,582.9 L749.7,599.9 L750.0,615.9 L750.3,630.8 L750.7,644.7 L751.0,657.7 L751.3,669.7 L751.7,680.7 L752.0,690.9 L752.3,700.3 L752.6,708.8 L753.0,716.6 L753.3,723.8 L753.6,730.3 L754.0,736.2 L754.3,741.5 L754.6,746.4 L754.9,750.9 L755.3,754.9 L755.6,758.6 L755.9,761.7 L756.3,765.1 L756.6,768.1 L756.9,770.4 L757.2,773.2 L757.6,775.3 L757.9,776.6 L758.2,778.1 L758.6,779.6 L758.9,781.5 L759.2,782.9 L759.5,784.2 L759.9,785.7 L760.2,786.6 L760.5,788.4 L760.9,789.9 L761.2,790.8 L761.5,791.6 L761.8,792.3 L762.2,793.3 L762.5,794.0 L762.8,795.3 L763.2,796.4 L763.5,797.1 L763.8,797.8 L764.1,797.8 L764.5,798.0 L764.8,798.6 L765.1,799.0 L765.5,799.7 L765.8,800.9 L766.1,801.7 L766.4,802.5 L766.8,802.4 L767.1,802.5 L767.4,802.5 L767.8,802.9 L768.1,803.1 L768.4,803.9 L768.7,804.2 L769.1,805.0 L769.4,805.4 L769.7,805.9 L770.1,806.0 L770.4,806.6 L770.7,807.1 L771.0,807.5 L771.4,807.6 L771.7,807.7 L772.0,807.7 L772.4,807.6 L772.7,808.1 L773.0,808.6 L773.3,808.5 L773.7,809.3 L774.0,809.9 L774.3,810.3 L774.7,810.6 L775.0,810.5 L775.3,810.2 L775.6,810.2 L776.0,810.7 L776.3,811.4 L776.6,810.9 L777.0,810.6 L777.3,810.9 L777.6,811.1 L777.9,811.5 L778.3,811.3 L778.6,812.0 L778.9,812.0 L780.9,813.3 L782.9,813.7 L784.8,814.1 L786.8,814.4 L788.8,815.5 L790.8,816.0 L792.7,816.6 L794.7,816.3 L796.7,816.7 L798.7,817.3 L800.6,817.9 L802.6,818.4 L804.6,817.8 L806.5,817.8 L808.5,818.5 L810.5,818.5 L812.5,819.0 L814.4,818.6 L816.4,818.2 L818.4,818.9 L820.3,818.7 L822.3,818.9 L824.3,818.8 L826.3,819.0 L828.2,819.5 L830.2,819.9 L832.2,820.1 L834.1,819.5 L836.1,819.8 L838.1,819.1 L840.1,819.2 L842.0,819.7 L844.0,819.4 L846.0,819.3 L847.9,819.4 L849.9,819.0 L851.9,819.1 L853.9,818.7 L855.8,817.2 L857.8,816.0 L859.8,813.0 L861.7,810.8 L863.7,809.0 L865.7,809.1 L867.7,810.9 L869.6,814.4 L871.6,817.0 L873.6,818.4 L875.5,819.5 L877.5,820.3 L879.5,820.7 L881.5,820.5 L883.4,820.1 L885.4,820.2 L887.4,820.7 L889.3,820.8 L891.3,820.8 L893.3,820.9 L895.3,820.6 L897.2,820.6 L899.2,820.9 L901.2,820.4 L903.1,820.8 L905.1,820.2 L907.1,820.3 L909.1,820.5 L911.0,820.1 L913.0,820.7 L915.0,820.6 L916.9,820.3 L918.9,820.3 L920.9,820.5 L922.9,820.5 L924.8,820.0 L926.8,819.9 L928.8,820.4 L930.7,820.1 L932.7,820.1 L934.7,820.7 L936.7,821.1 L938.6,821.3 L940.6,820.8 L942.6,820.2 L944.5,820.7 L946.5,820.8 L948.5,820.7 L950.5,820.2 L952.4,820.4 L954.4,820.3 L956.4,820.6 L958.4,821.2 L960.3,820.8 L962.3,820.4 L964.3,820.8 L966.2,820.4 L968.2,820.3 L970.2,820.5 L972.2,821.2 L974.1,820.9 L976.1,820.7 L978.1,820.8 L980.0,820.5 L982.0,820.6 L984.0,820.9 L986.0,820.8 L987.9,821.2 L989.9,820.8 L991.9,820.4 L993.8,820.8 L995.8,820.8 L997.8,821.3 L999.8,820.8 L1001.7,821.1 L1003.7,821.3 L1005.7,821.0 L1007.6,820.7 L1009.6,820.9 L1011.6,821.2 L1013.6,821.1 L1015.5,821.1 L1017.5,821.3 L1019.5,821.3 L1021.4,821.1 L1023.4,820.8 L1025.4,820.9 L1027.4,821.0 L1029.3,821.4 L1031.3,821.8 L1033.3,821.6 L1035.2,821.2 L1037.2,820.9 L1039.2,821.1 L1041.2,821.3 L1043.1,821.0 L1045.1,821.2 L1047.1,821.7 L1049.0,821.3 L1051.0,821.7 L1053.0,821.4 L1055.0,821.4 L1056.9,821.7 L1058.9,821.1 L1060.9,820.9 L1062.8,821.5 L1064.8,820.9 L1066.8,820.7 L1068.8,820.8 L1070.7,821.2 L1072.7,821.2 L1074.7,821.6 L1076.6,821.5 L1078.6,820.8 L1080.6,820.4 L1082.6,820.1 L1084.5,820.3 L1086.5,820.1 L1088.5,820.4 L1090.4,820.7 L1092.4,820.4 L1094.4,820.9 L1096.4,820.7 L1098.3,821.1 L1100.3,820.7 L1102.3,820.7 L1104.2,820.6 L1106.2,820.2 L1108.2,820.4 L1110.2,819.7 L1112.1,819.4 L1114.1,819.2 L1116.1,819.6 L1118.1,819.3 L1120.0,818.4 L1122.0,817.9 L1124.0,817.6 L1125.9,817.2 L1127.9,815.6 L1129.9,814.5 L1131.9,812.4 L1133.8,810.0 L1135.8,806.8 L1137.8,803.1 L1139.7,799.6 L1141.7,795.6 L1143.7,791.7 L1145.7,788.7 L1147.6,787.4 L1149.6,787.6 L1151.6,789.9 L1153.5,794.3 L1155.5,798.7 L1157.5,802.9 L1159.5,806.4 L1161.4,809.3 L1163.4,812.5 L1165.4,814.5 L1167.3,815.4 L1169.3,816.6 L1171.3,817.5 L1173.3,817.8 L1175.2,819.1 L1177.2,819.9 L1179.2,820.3 L1181.1,819.8 L1183.1,820.0 L1185.1,819.8 L1187.1,820.4 L1189.0,820.9 L1191.0,821.2 L1193.0,821.4 L1194.9,820.8 L1196.9,820.4 L1198.9,820.3 L1200.9,821.0 L1202.8,821.4 L1204.8,821.4 L1206.8,821.1 L1208.7,821.6 L1210.7,821.1 L1212.7,821.0 L1214.7,820.7 L1216.6,821.5 L1218.6,821.4 L1220.6,821.7 L1222.5,821.9 L1224.5,821.9 L1226.5,822.2 L1228.5,822.3 L1230.4,822.4 L1232.4,822.6 L1234.4,821.7 L1236.3,822.0 L1238.3,821.5 L1240.3,821.4 L1242.3,821.3 L1244.2,822.0 L1246.2,821.4 L1248.2,821.4 L1250.1,821.1 L1252.1,821.9 L1254.1,821.8 L1256.1,822.0 L1258.0,821.9 L1260.0,822.1 L1262.0,821.8 L1263.9,821.6 L1265.9,821.9 L1267.9,822.0 L1269.9,822.3 L1271.8,821.9 L1273.8,822.2 L1275.8,822.2 L1277.7,822.1 L1279.7,821.9 L1281.7,821.9 L1283.7,821.4 L1285.6,821.1 L1287.6,821.1 L1289.6,821.0 L1291.6,820.8 L1293.5,821.4 L1295.5,821.8 L1297.5,821.9 L1299.4,821.5 L1301.4,821.8 L1303.4,822.1 L1305.4,822.1 L1307.3,821.6 L1309.3,821.7 L1311.3,821.6 L1313.2,821.4 L1315.2,821.1 L1317.2,821.7 L1319.2,821.8 L1321.1,822.2 L1323.1,821.6 L1325.1,821.4 L1327.0,821.5 L1329.0,821.0 L1331.0,821.0 L1333.0,821.2 L1334.9,821.3 L1336.9,821.6 L1338.9,821.4 L1340.8,821.1 L1342.8,820.6 L1344.8,820.1 L1346.8,818.9 L1348.7,817.3 L1350.7,817.0 L1352.7,816.5 L1354.6,815.6 L1356.6,815.5 L1358.6,816.1 L1360.6,817.4 L1362.5,818.1 L1364.5,818.7 L1366.5,819.7 L1368.4,819.9 L1370.4,820.3 L1372.4,820.7 L1374.4,820.7 L1376.3,820.5 L1378.3,820.7 L1380.3,820.7 L1382.2,820.9 L1384.2,821.1 L1386.2,821.1 L1388.2,821.1 L1390.1,820.8 L1392.1,821.4 L1394.1,821.7 L1396.0,821.6 L1398.0,821.1 L1400.0,821.0 L1402.0,821.6 L1403.9,821.5 L1405.9,821.2 L1407.9,821.6 L1409.8,822.0 L1411.8,821.4 L1413.8,821.4 L1415.8,821.4 L1417.7,821.0 L1419.7,821.0 L1421.7,821.2 L1423.6,821.4 L1425.6,821.5 L1427.6,821.5 L1429.6,821.3 L1431.5,820.8 L1433.5,820.4 L1435.5,821.1 L1437.4,821.5 L1439.4,821.7 L1441.4,821.0 L1443.4,821.3 L1445.3,820.8 L1447.3,820.6 L1449.3,820.4 L1451.3,820.9 L1453.2,821.1 L1455.2,821.2 L1457.2,820.8 L1459.1,821.1 L1461.1,820.5 L1463.1,820.4 L1465.1,820.4 L1467.0,819.9 L1469.0,819.7 L1471.0,819.2 L1472.9,819.5 L1474.9,819.0 L1476.9,818.5 L1478.9,818.3 L1480.8,818.3 L1482.8,818.2 L1484.8,817.7 L1486.7,817.6 L1488.7,817.0 L1490.7,815.6 L1492.7,814.5 L1494.6,812.7 L1496.6,810.6 L1498.6,807.8 L1500.5,804.3 L1502.5,800.4 L1504.5,796.0 L1506.5,790.2 L1508.4,782.9 L1510.4,775.5 L1512.4,768.5 L1514.3,762.1 L1516.3,757.6 L1518.3,756.0 L1520.3,757.6 L1522.2,762.1 L1524.2,768.2 L1526.2,775.9 L1528.1,783.0 L1530.1,789.9 L1532.1,796.0 L1534.1,800.8 L1536.0,805.5 L1538.0,808.5 L1540.0,810.9 L1541.9,812.9 L1543.9,814.8 L1545.9,816.3 L1547.9,817.1 L1549.8,817.5 L1551.8,818.1 L1553.8,818.5 L1555.7,819.1 L1557.7,819.6 L1559.7,819.8 L1561.7,819.4 L1563.6,819.6 L1565.6,819.6 L1567.6,819.5 L1569.5,820.0 L1571.5,819.8 L1573.5,820.2 L1575.5,820.2 L1577.4,820.2 L1579.4,820.5 L1581.4,820.8 L1583.3,821.2 L1585.3,821.5 L1587.3,821.5 L1589.3,820.9 L1591.2,821.0 L1593.2,820.9 L1595.2,821.4 L1597.1,821.1 L1599.1,820.9 L1601.1,820.4 L1603.1,820.6 L1605.0,820.8 L1607.0,820.6 L1609.0,820.4 L1611.0,820.6 L1612.9,820.3 L1614.9,820.3 L1616.9,820.5 L1618.8,820.6 L1620.8,820.7 L1622.8,820.9 L1624.8,820.8 L1626.7,820.5 L1628.7,820.3 L1630.7,820.6 L1632.6,821.3 L1634.6,821.0 L1636.6,820.9 L1638.6,820.8 L1640.5,821.1 L1642.5,821.1 L1644.5,821.4 L1646.4,820.7 L1648.4,820.5 L1650.4,820.4 L1652.4,820.5 L1654.3,820.6 L1656.3,820.7 L1658.3,821.3 L1660.2,821.1 L1662.2,821.2 L1664.2,821.6 L1666.2,821.5 L1668.1,821.4 L1670.1,821.5 L1672.1,821.1 L1674.0,820.6 L1676.0,821.2 L1678.0,821.1 L1680.0,821.0 L1681.9,820.5 L1683.9,820.8 L1685.9,820.5 L1687.8,820.6 L1689.8,820.1 L1691.8,820.4 L1693.8,819.7 L1695.7,819.0 L1697.7,818.9 L1699.7,817.9 L1701.6,817.0 L1703.6,816.3 L1705.6,816.2 L1707.6,815.2 L1709.5,814.6 L1711.5,815.1 L1713.5,814.9 L1715.4,815.5 L1717.4,816.6 L1719.4,817.5 L1721.4,818.4 L1723.3,818.4 L1725.3,819.4 L1727.3,819.6 L1729.2,820.3 L1731.2,820.4 L1733.2,820.9 L1735.2,820.8 L1737.1,820.5 L1739.1,820.2 L1741.1,820.4 L1743.0,820.1 L1745.0,820.0 L1747.0,820.7 L1749.0,820.8 L1750.9,821.1 L1752.9,820.6 L1754.9,820.7 L1756.8,820.7 L1758.8,820.3 L1760.8,820.2 L1762.8,820.9 L1764.7,821.0 L1766.7,820.9 L1768.7,821.0 L1770.6,821.2 L1772.6,821.5 L1774.6,821.3 L1776.6,820.6 L1778.5,821.0 L1780.5,820.5 L1782.5,820.3 L1784.5,820.1 L1786.4,820.3 L1788.4,820.6 L1790.4,820.6 L1792.3,820.6 L1794.3,820.2 L1796.3,820.6 L1798.3,820.7 L1800.2,820.5 L1802.2,820.9 L1804.2,821.2 L1806.1,821.4 L1808.1,821.6 L1810.1,820.7 L1812.1,820.6 L1814.0,820.5 L1816.0,820.3 L1818.0,820.7 L1819.9,821.0 L1821.9,820.5 L1823.9,820.5 L1825.9,821.0 L1827.8,821.2 L1829.8,820.9 L1831.8,820.3 L1833.7,820.4 L1835.7,820.4 L1837.7,820.7 L1839.7,820.3 L1841.6,820.1 L1843.6,820.8 L1845.6,820.1 L1847.5,820.4 L1849.5,820.0 L1851.5,820.4 L1853.5,820.3" stroke="#884048" />
<circle cx="725.8" cy="755.6" r="3.4" fill="#884048"/>
<path d="M376.4,659.1 L378.4,658.3 L380.3,658.4 L382.3,657.7 L384.3,657.0 L386.3,656.5 L388.2,656.0 L390.2,656.0 L392.2,656.5 L394.1,656.0 L396.1,656.0 L398.1,655.1 L400.1,655.0 L402.0,654.9 L404.0,654.2 L406.0,654.2 L407.9,653.9 L409.9,653.5 L411.9,653.8 L413.9,653.7 L415.8,653.0 L417.8,652.5 L419.8,652.0 L421.7,651.8 L423.7,652.1 L425.7,652.5 L427.7,652.6 L429.6,652.5 L431.6,651.6 L433.6,651.6 L435.5,651.6 L437.5,651.1 L439.5,651.3 L441.5,651.0 L443.4,650.2 L445.4,649.9 L447.4,649.5 L449.3,649.8 L451.3,649.9 L453.3,650.2 L455.3,649.5 L457.2,649.0 L459.2,649.7 L461.2,649.3 L463.2,649.0 L465.1,649.5 L467.1,648.9 L469.1,649.2 L471.0,649.5 L473.0,649.3 L475.0,649.1 L477.0,648.4 L478.9,648.6 L480.9,648.6 L482.9,648.8 L484.8,648.6 L486.8,648.0 L488.8,647.7 L490.8,648.0 L492.7,647.5 L494.7,647.3 L496.7,647.3 L498.6,647.8 L500.6,647.9 L502.6,647.7 L504.6,648.2 L506.5,648.1 L508.5,647.7 L510.5,647.8 L512.4,648.1 L514.4,647.8 L516.4,647.6 L518.4,647.7 L520.3,648.1 L522.3,648.0 L524.3,647.5 L526.2,647.5 L528.2,647.3 L530.2,647.3 L532.2,647.5 L534.1,646.9 L536.1,647.1 L538.1,647.0 L540.0,647.2 L542.0,647.5 L544.0,647.3 L546.0,647.4 L547.9,647.0 L549.9,646.8 L551.9,646.9 L553.8,647.0 L555.8,646.7 L557.8,647.0 L559.8,647.0 L561.7,646.8 L563.7,646.5 L565.7,647.0 L567.6,647.3 L569.6,647.5 L571.6,646.9 L573.6,646.3 L575.5,646.6 L577.5,646.1 L579.5,646.6 L581.4,646.7 L583.4,646.5 L585.4,646.4 L587.4,646.6 L589.3,646.1 L591.3,646.0 L593.3,646.4 L595.2,646.5 L597.2,646.5 L599.2,645.9 L601.2,645.7 L603.1,645.6 L605.1,645.2 L607.1,645.7 L609.0,645.8 L611.0,646.3 L613.0,646.1 L615.0,646.4 L616.9,646.1 L618.9,645.9 L620.9,645.6 L622.8,645.5 L624.8,646.0 L626.8,645.8 L628.8,645.1 L630.7,645.0 L632.7,644.8 L634.7,645.1 L636.7,645.1 L638.6,645.1 L640.6,645.5 L642.6,645.6 L644.5,644.9 L646.5,644.4 L648.5,644.7 L650.5,644.8 L652.4,644.9 L654.4,644.7 L656.4,644.1 L658.3,644.1 L660.3,644.5 L662.3,644.4 L664.3,643.8 L666.2,643.4 L668.2,644.0 L670.2,643.9 L672.1,643.3 L674.1,643.5 L676.1,643.8 L678.1,643.8 L680.0,643.5 L682.0,643.4 L684.0,642.5 L685.9,642.3 L687.9,642.4 L689.9,641.9 L691.9,641.3 L693.8,641.5 L695.8,641.3 L697.8,640.3 L699.7,639.6 L701.7,639.4 L703.7,639.5 L705.7,638.8 L706.0,639.0 L706.3,638.2 L706.6,638.2 L707.0,637.7 L707.3,637.5 L707.6,637.1 L708.0,637.2 L708.3,636.7 L708.6,637.0 L708.9,637.1 L709.3,637.3 L709.6,637.3 L709.9,636.4 L710.3,636.7 L710.6,636.4 L710.9,636.5 L711.2,636.0 L711.6,635.2 L711.9,635.2 L712.2,634.5 L712.6,634.7 L712.9,634.2 L713.2,634.1 L713.5,633.3 L713.9,632.5 L714.2,632.0 L714.5,631.4 L714.9,630.4 L715.2,629.2 L715.5,628.2 L715.8,627.4 L716.2,625.8 L716.5,624.2 L716.8,622.9 L717.2,621.5 L717.5,619.4 L717.8,617.5 L718.1,616.2 L718.5,613.8 L718.8,612.0 L719.1,609.5 L719.5,606.9 L719.8,604.8 L720.1,603.0 L720.4,601.0 L720.8,598.1 L721.1,596.4 L721.4,594.5 L721.8,592.6 L722.1,591.1 L722.4,589.5 L722.7,587.9 L723.1,587.1 L723.4,585.8 L723.7,585.5 L724.1,585.1 L724.4,584.9 L724.7,584.8 L725.0,584.9 L725.4,585.0 L725.7,585.3 L726.0,585.6 L726.4,585.9 L726.7,585.7 L727.0,585.6 L727.3,586.5 L727.7,586.8 L728.0,586.5 L728.3,585.6 L728.7,584.8 L729.0,583.7 L729.3,582.2 L729.6,580.3 L730.0,578.1 L730.3,575.3 L730.6,572.1 L731.0,568.3 L731.3,564.0 L731.6,559.1 L731.9,553.5 L732.3,547.3 L732.6,540.3 L732.9,532.6 L733.3,524.1 L733.6,514.7 L733.9,504.5 L734.2,493.5 L734.6,481.5 L734.9,468.6 L735.2,454.7 L735.6,439.9 L735.9,424.1 L736.2,407.5 L736.5,389.9 L736.9,371.5 L737.2,352.4 L737.5,332.5 L737.9,312.1 L738.2,291.3 L738.5,270.2 L738.8,249.1 L739.2,228.2 L739.5,207.8 L739.8,188.2 L740.2,169.9 L740.5,153.1 L740.8,138.4 L741.1,126.0 L741.5,116.4 L741.8,109.8 L742.1,106.4 L742.5,106.4 L742.8,109.8 L743.1,116.4 L743.4,126.0 L743.8,138.4 L744.1,153.2 L744.4,169.9 L744.8,188.3 L745.1,207.9 L745.4,228.3 L745.7,249.2 L746.1,270.3 L746.4,291.4 L746.7,312.3 L747.1,332.7 L747.4,352.6 L747.7,371.8 L748.0,390.2 L748.4,407.8 L748.7,424.5 L749.0,440.3 L749.4,455.2 L749.7,469.1 L750.0,482.2 L750.3,494.3 L750.7,505.5 L751.0,515.9 L751.3,525.5 L751.7,534.3 L752.0,542.4 L752.3,549.8 L752.6,556.5 L753.0,562.6 L753.3,568.2 L753.6,573.3 L754.0,577.9 L754.3,582.1 L754.6,585.9 L754.9,590.1 L755.3,593.1 L755.6,596.0 L755.9,598.1 L756.3,600.3 L756.6,602.4 L756.9,604.9 L757.2,607.0 L757.6,608.3 L757.9,610.4 L758.2,611.2 L758.6,612.2 L758.9,613.5 L759.2,614.5 L759.5,616.4 L759.9,617.3 L760.2,618.3 L760.5,619.7 L760.9,620.5 L761.2,621.4 L761.5,622.1 L761.8,622.8 L762.2,624.0 L762.5,624.3 L762.8,624.9 L763.2,625.5 L763.5,625.8 L763.8,626.1 L764.1,627.0 L764.5,627.9 L764.8,628.4 L765.1,628.4 L765.5,629.5 L765.8,629.5 L766.1,630.5 L766.4,630.3 L766.8,631.0 L767.1,631.1 L767.4,631.4 L767.8,631.9 L768.1,632.6 L768.4,632.9 L768.7,633.1 L769.1,633.4 L769.4,633.8 L769.7,633.9 L770.1,634.8 L770.4,634.6 L770.7,634.6 L771.0,635.1 L771.4,635.2 L771.7,635.8 L772.0,635.6 L772.4,636.2 L772.7,636.3 L773.0,637.0 L773.3,636.9 L773.7,637.0 L774.0,637.1 L774.3,637.4 L774.7,637.4 L775.0,637.9 L775.3,638.0 L775.6,638.4 L776.0,638.3 L776.3,638.4 L776.6,638.7 L777.0,639.1 L777.3,639.3 L777.6,639.3 L777.9,638.9 L778.3,638.8 L778.6,638.8 L778.9,638.9 L780.9,639.6 L782.9,640.8 L784.8,641.3 L786.8,642.3 L788.8,642.4 L790.8,642.6 L792.7,642.7 L794.7,642.9 L796.7,643.6 L798.7,644.1 L800.6,644.1 L802.6,644.7 L804.6,645.0 L806.5,645.0 L808.5,645.2 L810.5,645.5 L812.5,645.4 L814.4,645.1 L816.4,645.2 L818.4,645.9 L820.3,645.7 L822.3,646.0 L824.3,645.6 L826.3,646.1 L828.2,646.5 L830.2,646.2 L832.2,646.1 L834.1,646.2 L836.1,646.0 L838.1,645.8 L840.1,645.7 L842.0,646.2 L844.0,646.3 L846.0,646.8 L847.9,647.1 L849.9,647.1 L851.9,647.1 L853.9,646.6 L855.8,644.9 L857.8,643.1 L859.8,641.7 L861.7,639.9 L863.7,638.5 L865.7,638.8 L867.7,640.3 L869.6,642.3 L871.6,643.9 L873.6,645.4 L875.5,645.9 L877.5,646.1 L879.5,646.9 L881.5,647.1 L883.4,647.5 L885.4,647.2 L887.4,647.3 L889.3,647.1 L891.3,647.5 L893.3,647.1 L895.3,647.4 L897.2,647.5 L899.2,647.3 L901.2,646.9 L903.1,647.1 L905.1,647.3 L907.1,647.7 L909.1,647.4 L911.0,647.1 L913.0,647.1 L915.0,647.6 L916.9,647.4 L918.9,647.6 L920.9,647.2 L922.9,646.9 L924.8,647.5 L926.8,647.6 L928.8,647.2 L930.7,647.4 L932.7,648.0 L934.7,647.8 L936.7,647.9 L938.6,647.8 L940.6,647.8 L942.6,647.4 L944.5,648.0 L946.5,648.0 L948.5,647.8 L950.5,647.7 L952.4,647.5 L954.4,648.1 L956.4,648.4 L958.4,648.1 L960.3,648.2 L962.3,648.2 L964.3,647.8 L966.2,647.4 L968.2,647.9 L970.2,647.7 L972.2,647.9 L974.1,647.5 L976.1,647.3 L978.1,647.3 L980.0,647.8 L982.0,648.1 L984.0,648.6 L986.0,648.6 L987.9,648.5 L989.9,647.9 L991.9,648.5 L993.8,648.4 L995.8,648.7 L997.8,648.1 L999.8,648.5 L1001.7,648.4 L1003.7,648.1 L1005.7,648.1 L1007.6,647.7 L1009.6,648.1 L1011.6,647.9 L1013.6,648.3 L1015.5,648.0 L1017.5,648.4 L1019.5,648.5 L1021.4,648.7 L1023.4,649.0 L1025.4,648.6 L1027.4,648.7 L1029.3,648.5 L1031.3,648.9 L1033.3,649.1 L1035.2,649.1 L1037.2,649.0 L1039.2,648.5 L1041.2,648.9 L1043.1,649.3 L1045.1,649.4 L1047.1,648.9 L1049.0,649.1 L1051.0,649.0 L1053.0,649.2 L1055.0,649.2 L1056.9,648.9 L1058.9,648.7 L1060.9,648.9 L1062.8,648.9 L1064.8,648.8 L1066.8,649.1 L1068.8,648.4 L1070.7,647.9 L1072.7,648.1 L1074.7,647.9 L1076.6,648.5 L1078.6,648.0 L1080.6,648.6 L1082.6,648.3 L1084.5,647.9 L1086.5,648.4 L1088.5,648.6 L1090.4,648.4 L1092.4,648.5 L1094.4,648.4 L1096.4,648.8 L1098.3,648.6 L1100.3,648.4 L1102.3,648.2 L1104.2,648.0 L1106.2,648.1 L1108.2,647.6 L1110.2,647.8 L1112.1,648.1 L1114.1,648.0 L1116.1,647.6 L1118.1,647.1 L1120.0,646.3 L1122.0,645.6 L1124.0,645.4 L1125.9,645.2 L1127.9,644.5 L1129.9,642.6 L1131.9,641.1 L1133.8,639.1 L1135.8,636.1 L1137.8,633.0 L1139.7,628.7 L1141.7,624.6 L1143.7,621.1 L1145.7,618.7 L1147.6,617.4 L1149.6,618.0 L1151.6,621.0 L1153.5,624.3 L1155.5,628.1 L1157.5,631.7 L1159.5,635.2 L1161.4,638.4 L1163.4,640.6 L1165.4,642.7 L1167.3,644.1 L1169.3,644.7 L1171.3,646.1 L1173.3,646.4 L1175.2,647.0 L1177.2,647.8 L1179.2,647.6 L1181.1,647.4 L1183.1,647.5 L1185.1,647.5 L1187.1,648.3 L1189.0,648.5 L1191.0,648.1 L1193.0,648.2 L1194.9,648.5 L1196.9,648.3 L1198.9,648.4 L1200.9,649.1 L1202.8,649.0 L1204.8,648.8 L1206.8,649.1 L1208.7,648.7 L1210.7,648.9 L1212.7,649.2 L1214.7,648.8 L1216.6,649.1 L1218.6,649.0 L1220.6,649.4 L1222.5,649.5 L1224.5,649.9 L1226.5,649.8 L1228.5,649.3 L1230.4,649.0 L1232.4,649.4 L1234.4,649.8 L1236.3,649.2 L1238.3,649.2 L1240.3,649.1 L1242.3,649.2 L1244.2,649.7 L1246.2,649.7 L1248.2,649.9 L1250.1,650.0 L1252.1,649.6 L1254.1,649.7 L1256.1,649.5 L1258.0,649.5 L1260.0,649.6 L1262.0,649.7 L1263.9,649.3 L1265.9,649.8 L1267.9,649.3 L1269.9,649.2 L1271.8,649.7 L1273.8,650.2 L1275.8,649.8 L1277.7,650.2 L1279.7,649.5 L1281.7,650.0 L1283.7,649.5 L1285.6,649.1 L1287.6,649.6 L1289.6,649.2 L1291.6,649.6 L1293.5,649.1 L1295.5,648.9 L1297.5,649.0 L1299.4,648.8 L1301.4,649.1 L1303.4,649.1 L1305.4,649.6 L1307.3,649.6 L1309.3,650.1 L1311.3,650.2 L1313.2,649.6 L1315.2,650.0 L1317.2,650.3 L1319.2,650.0 L1321.1,649.9 L1323.1,649.4 L1325.1,649.3 L1327.0,649.1 L1329.0,648.9 L1331.0,649.2 L1333.0,649.1 L1334.9,649.4 L1336.9,649.3 L1338.9,649.4 L1340.8,648.5 L1342.8,648.5 L1344.8,647.7 L1346.8,646.9 L1348.7,645.6 L1350.7,644.8 L1352.7,643.9 L1354.6,643.9 L1356.6,644.1 L1358.6,644.3 L1360.6,645.2 L1362.5,646.5 L1364.5,646.9 L1366.5,647.9 L1368.4,648.6 L1370.4,649.1 L1372.4,649.1 L1374.4,649.2 L1376.3,649.3 L1378.3,649.6 L1380.3,649.1 L1382.2,649.3 L1384.2,649.1 L1386.2,649.4 L1388.2,649.2 L1390.1,649.0 L1392.1,648.9 L1394.1,649.5 L1396.0,649.4 L1398.0,649.8 L1400.0,649.9 L1402.0,649.5 L1403.9,649.5 L1405.9,649.0 L1407.9,649.6 L1409.8,649.7 L1411.8,649.2 L1413.8,649.3 L1415.8,649.3 L1417.7,649.5 L1419.7,649.2 L1421.7,649.7 L1423.6,649.7 L1425.6,649.1 L1427.6,649.5 L1429.6,649.8 L1431.5,649.4 L1433.5,649.5 L1435.5,649.7 L1437.4,649.9 L1439.4,649.1 L1441.4,649.4 L1443.4,649.0 L1445.3,649.3 L1447.3,649.3 L1449.3,649.1 L1451.3,649.4 L1453.2,649.4 L1455.2,649.6 L1457.2,649.7 L1459.1,649.3 L1461.1,649.2 L1463.1,649.0 L1465.1,648.5 L1467.0,648.3 L1469.0,648.1 L1471.0,647.7 L1472.9,647.3 L1474.9,647.7 L1476.9,647.8 L1478.9,647.6 L1480.8,647.3 L1482.8,646.8 L1484.8,646.3 L1486.7,645.9 L1488.7,644.6 L1490.7,643.9 L1492.7,643.5 L1494.6,641.7 L1496.6,639.9 L1498.6,637.2 L1500.5,634.1 L1502.5,630.9 L1504.5,625.9 L1506.5,620.9 L1508.4,615.1 L1510.4,608.7 L1512.4,601.6 L1514.3,596.1 L1516.3,591.6 L1518.3,590.0 L1520.3,592.0 L1522.2,596.0 L1524.2,601.9 L1526.2,608.0 L1528.1,614.2 L1530.1,620.3 L1532.1,625.6 L1534.1,630.8 L1536.0,634.3 L1538.0,637.9 L1540.0,640.3 L1541.9,641.6 L1543.9,643.2 L1545.9,644.0 L1547.9,644.9 L1549.8,645.0 L1551.8,646.1 L1553.8,646.7 L1555.7,647.0 L1557.7,647.4 L1559.7,647.3 L1561.7,647.1 L1563.6,647.2 L1565.6,647.8 L1567.6,648.0 L1569.5,647.7 L1571.5,647.7 L1573.5,647.9 L1575.5,647.6 L1577.4,647.5 L1579.4,647.9 L1581.4,647.8 L1583.3,648.6 L1585.3,648.3 L1587.3,648.7 L1589.3,649.1 L1591.2,648.8 L1593.2,648.9 L1595.2,649.4 L1597.1,649.3 L1599.1,649.1 L1601.1,649.5 L1603.1,649.1 L1605.0,649.5 L1607.0,649.1 L1609.0,649.0 L1611.0,648.8 L1612.9,649.1 L1614.9,649.5 L1616.9,649.5 L1618.8,649.0 L1620.8,649.5 L1622.8,649.6 L1624.8,649.4 L1626.7,649.6 L1628.7,649.0 L1630.7,649.2 L1632.6,649.4 L1634.6,649.6 L1636.6,649.6 L1638.6,648.9 L1640.5,649.0 L1642.5,648.8 L1644.5,649.0 L1646.4,648.9 L1648.4,649.0 L1650.4,649.1 L1652.4,649.2 L1654.3,649.5 L1656.3,649.1 L1658.3,648.9 L1660.2,648.6 L1662.2,648.4 L1664.2,649.0 L1666.2,649.4 L1668.1,648.9 L1670.1,648.8 L1672.1,649.3 L1674.0,649.5 L1676.0,649.8 L1678.0,649.9 L1680.0,649.3 L1681.9,648.7 L1683.9,648.4 L1685.9,648.5 L1687.8,648.0 L1689.8,647.8 L1691.8,647.8 L1693.8,647.9 L1695.7,647.1 L1697.7,646.4 L1699.7,645.9 L1701.6,645.1 L1703.6,644.4 L1705.6,643.8 L1707.6,644.1 L1709.5,644.3 L1711.5,643.7 L1713.5,644.4 L1715.4,645.1 L1717.4,645.7 L1719.4,645.9 L1721.4,646.8 L1723.3,646.7 L1725.3,646.8 L1727.3,647.9 L1729.2,647.9 L1731.2,648.6 L1733.2,648.9 L1735.2,648.4 L1737.1,648.1 L1739.1,648.5 L1741.1,648.2 L1743.0,648.6 L1745.0,648.9 L1747.0,648.5 L1749.0,648.6 L1750.9,648.4 L1752.9,648.9 L1754.9,649.0 L1756.8,649.1 L1758.8,649.1 L1760.8,648.5 L1762.8,649.0 L1764.7,649.2 L1766.7,649.0 L1768.7,649.0 L1770.6,648.9 L1772.6,649.1 L1774.6,649.0 L1776.6,648.6 L1778.5,648.7 L1780.5,648.4 L1782.5,648.0 L1784.5,648.3 L1786.4,648.8 L1788.4,649.0 L1790.4,648.6 L1792.3,648.6 L1794.3,648.7 L1796.3,648.8 L1798.3,648.7 L1800.2,648.7 L1802.2,648.9 L1804.2,649.2 L1806.1,649.0 L1808.1,649.1 L1810.1,649.1 L1812.1,648.5 L1814.0,648.3 L1816.0,648.2 L1818.0,648.2 L1819.9,648.3 L1821.9,648.2 L1823.9,648.9 L1825.9,649.0 L1827.8,648.7 L1829.8,648.8 L1831.8,649.1 L1833.7,648.5 L1835.7,648.7 L1837.7,649.1 L1839.7,648.7 L1841.6,649.0 L1843.6,649.1 L1845.6,648.7 L1847.5,648.2 L1849.5,648.6 L1851.5,648.5 L1853.5,648.3" stroke="#da5a9c" />
<circle cx="725.3" cy="585.0" r="3.4" fill="#da5a9c"/>
</g>
<g fill="none" stroke="#161616" stroke-width="5.2" stroke-linecap="butt" stroke-linejoin="miter"><path d="M212.0,1661.5 L212.0,58.5 L179,58.5" />
<path d="M179,1661.5 L2183.7,1661.5 L2183.7,1693.5" />
<path d="M179,1538.2 L212.0,1538.2" />
<path d="M179,1414.9 L212.0,1414.9" />
<path d="M179,1291.6 L212.0,1291.6" />
<path d="M179,1168.3 L212.0,1168.3" />
<path d="M179,1045.0 L212.0,1045.0" />
<path d="M179,921.7 L212.0,921.7" />
<path d="M179,798.4 L212.0,798.4" />
<path d="M179,675.1 L212.0,675.1" />
<path d="M179,551.8 L212.0,551.8" />
<path d="M179,428.5 L212.0,428.5" />
<path d="M179,305.2 L212.0,305.2" />
<path d="M179,181.9 L212.0,181.9" />
<path d="M194.5,1599.8 L212.0,1599.8" />
<path d="M194.5,1476.5 L212.0,1476.5" />
<path d="M194.5,1353.2 L212.0,1353.2" />
<path d="M194.5,1230.0 L212.0,1230.0" />
<path d="M194.5,1106.7 L212.0,1106.7" />
<path d="M194.5,983.4 L212.0,983.4" />
<path d="M194.5,860.1 L212.0,860.1" />
<path d="M194.5,736.8 L212.0,736.8" />
<path d="M194.5,613.5 L212.0,613.5" />
<path d="M194.5,490.2 L212.0,490.2" />
<path d="M194.5,366.9 L212.0,366.9" />
<path d="M194.5,243.5 L212.0,243.5" />
<path d="M194.5,120.2 L212.0,120.2" />
<path d="M212.1,1661.5 L212.1,1693.5" />
<path d="M376.4,1661.5 L376.4,1693.5" />
<path d="M540.7,1661.5 L540.7,1693.5" />
<path d="M705.0,1661.5 L705.0,1693.5" />
<path d="M869.3,1661.5 L869.3,1693.5" />
<path d="M1033.6,1661.5 L1033.6,1693.5" />
<path d="M1197.9,1661.5 L1197.9,1693.5" />
<path d="M1362.2,1661.5 L1362.2,1693.5" />
<path d="M1526.5,1661.5 L1526.5,1693.5" />
<path d="M1690.8,1661.5 L1690.8,1693.5" />
<path d="M1855.1,1661.5 L1855.1,1693.5" />
<path d="M2019.4,1661.5 L2019.4,1693.5" />
<path d="M294.2,1661.5 L294.2,1679" />
<path d="M458.5,1661.5 L458.5,1679" />
<path d="M622.9,1661.5 L622.9,1679" />
<path d="M787.1,1661.5 L787.1,1679" />
<path d="M951.5,1661.5 L951.5,1679" />
<path d="M1115.8,1661.5 L1115.8,1679" />
<path d="M1280.0,1661.5 L1280.0,1679" />
<path d="M1444.3,1661.5 L1444.3,1679" />
<path d="M1608.6,1661.5 L1608.6,1679" />
<path d="M1772.9,1661.5 L1772.9,1679" />
<path d="M1937.2,1661.5 L1937.2,1679" />
<path d="M2101.6,1661.5 L2101.6,1679" /></g>
<text x="212.1" y="1758.5" text-anchor="middle" font-size="63">20</text>
<text x="376.4" y="1758.5" text-anchor="middle" font-size="63">30</text>
<text x="540.7" y="1758.5" text-anchor="middle" font-size="63">40</text>
<text x="705.0" y="1758.5" text-anchor="middle" font-size="63">50</text>
<text x="869.3" y="1758.5" text-anchor="middle" font-size="63">60</text>
<text x="1033.6" y="1758.5" text-anchor="middle" font-size="63">70</text>
<text x="1197.9" y="1758.5" text-anchor="middle" font-size="63">80</text>
<text x="1362.2" y="1758.5" text-anchor="middle" font-size="63">90</text>
<text x="1526.5" y="1758.5" text-anchor="middle" font-size="63">100</text>
<text x="1690.8" y="1758.5" text-anchor="middle" font-size="63">110</text>
<text x="1855.1" y="1758.5" text-anchor="middle" font-size="63">120</text>
<text x="2019.4" y="1758.5" text-anchor="middle" font-size="63">130</text>
<text x="2183.7" y="1758.5" text-anchor="middle" font-size="63">140</text>
<text x="952" y="1875" font-size="75">Angle (degree)</text>
<text transform="translate(90.8,1079) rotate(-90)" font-size="75" textLength="427.5" lengthAdjust="spacing">Intesity (a.u.)</text>
<text transform="translate(816.2,299.2) rotate(-90)" font-size="75">M(110)</text>
<text transform="translate(713.3,580) rotate(-90)" font-size="75">A(111)</text>
<text transform="translate(898.8,561.4) rotate(-90)" font-size="75">A(200)</text>
<text transform="translate(1180.8,592.3) rotate(-90)" font-size="75">M(002)</text>
<text transform="translate(1379.6,611.6) rotate(-90)" font-size="75">A(220)</text>
<text transform="translate(1554.8,567) rotate(-90)" font-size="75">M(211)</text>
<text transform="translate(1750.1,615) rotate(-90)" font-size="75">A(311)</text>
<text x="1871.3" y="662.1" font-size="75">2000μm</text>
<text x="1876" y="838.3" font-size="75">1000μm</text>
<text x="1899.4" y="965.7" font-size="75">580μm</text>
<text x="1897.9" y="1090.7" font-size="75">500μm</text>
<text x="1910.8" y="1215.4" font-size="75">280μm</text>
<text x="1905" y="1335.6" font-size="75">190μm</text>
<text x="1913.3" y="1447.4" font-size="75">120μm</text>
<text x="1924.3" y="1561" font-size="75">60μm</text>
<text x="1924.3" y="1631.2" font-size="75">20μm</text>
</svg></body></html>
